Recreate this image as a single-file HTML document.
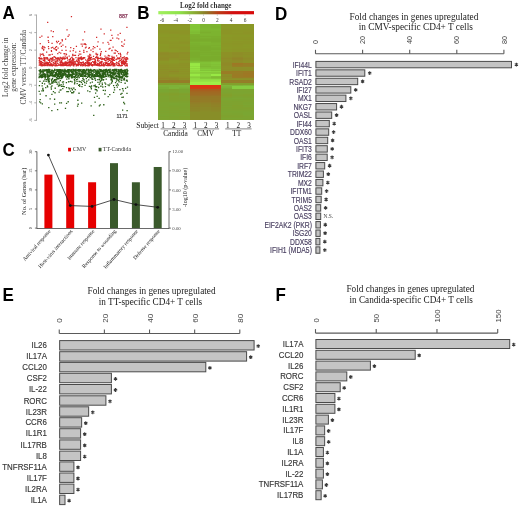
<!DOCTYPE html>
<html><head><meta charset="utf-8"><title>Figure</title>
<style>
html,body{margin:0;padding:0;background:#fff;width:520px;height:507px;overflow:hidden}
svg{display:block;filter:blur(0.35px)}
.fs{font-family:"Liberation Sans",sans-serif}
.fr{font-family:"Liberation Serif",serif}
.fb{font-family:"Liberation Sans",sans-serif;font-weight:bold}
</style></head><body>
<svg width="520" height="507" viewBox="0 0 520 507">
<rect width="520" height="507" fill="#fff"/>
<text class="fb" x="0" y="0" font-size="17" transform="translate(2.6 19.2) scale(1 1.09)">A</text>
<text class="fb" x="0" y="0" font-size="17" transform="translate(137.2 18.7) scale(1 1.09)">B</text>
<text class="fb" x="0" y="0" font-size="17" transform="translate(2.6 156.4) scale(1 1.09)">C</text>
<text class="fb" x="0" y="0" font-size="17" transform="translate(275 19.6) scale(1 1.09)">D</text>
<text class="fb" x="0" y="0" font-size="17" transform="translate(2.6 301.3) scale(1 1.09)">E</text>
<text class="fb" x="0" y="0" font-size="17" transform="translate(275.6 300.7) scale(1 1.09)">F</text>
<line x1="36.5" y1="14.6" x2="36.5" y2="120.8" stroke="#9a9a9a" stroke-width="0.8"/>
<line x1="34.3" y1="15.02" x2="36.5" y2="15.02" stroke="#9a9a9a" stroke-width="0.8"/>
<text class="fs" x="31.6" y="15.02" font-size="4.2" text-anchor="middle" fill="#777" transform="rotate(-90 31.6 15.02)">6</text>
<line x1="34.3" y1="32.58" x2="36.5" y2="32.58" stroke="#9a9a9a" stroke-width="0.8"/>
<text class="fs" x="31.6" y="32.58" font-size="4.2" text-anchor="middle" fill="#777" transform="rotate(-90 31.6 32.58)">4</text>
<line x1="34.3" y1="50.14" x2="36.5" y2="50.14" stroke="#9a9a9a" stroke-width="0.8"/>
<text class="fs" x="31.6" y="50.14" font-size="4.2" text-anchor="middle" fill="#777" transform="rotate(-90 31.6 50.14)">2</text>
<line x1="34.3" y1="67.7" x2="36.5" y2="67.7" stroke="#9a9a9a" stroke-width="0.8"/>
<text class="fs" x="31.6" y="67.7" font-size="4.2" text-anchor="middle" fill="#777" transform="rotate(-90 31.6 67.7)">0</text>
<line x1="34.3" y1="85.26" x2="36.5" y2="85.26" stroke="#9a9a9a" stroke-width="0.8"/>
<text class="fs" x="31.6" y="85.26" font-size="4.2" text-anchor="middle" fill="#777" transform="rotate(-90 31.6 85.26)">-2</text>
<line x1="34.3" y1="102.82" x2="36.5" y2="102.82" stroke="#9a9a9a" stroke-width="0.8"/>
<text class="fs" x="31.6" y="102.82" font-size="4.2" text-anchor="middle" fill="#777" transform="rotate(-90 31.6 102.82)">-4</text>
<line x1="34.3" y1="120.38" x2="36.5" y2="120.38" stroke="#9a9a9a" stroke-width="0.8"/>
<text class="fs" x="31.6" y="120.38" font-size="4.2" text-anchor="middle" fill="#777" transform="rotate(-90 31.6 120.38)">-6</text>
<text class="fr" x="8.1" y="67.2" font-size="7.35" text-anchor="middle" fill="#454545" transform="rotate(-90 8.1 67.2)">Log2 fold change in</text>
<text class="fr" x="16.4" y="67.2" font-size="7.35" text-anchor="middle" fill="#454545" transform="rotate(-90 16.4 67.2)">gene expression:</text>
<text class="fr" x="25.6" y="67.2" font-size="7.35" text-anchor="middle" fill="#454545" transform="rotate(-90 25.6 67.2)">CMV versus TT/Candida</text>
<text class="fs" x="127.8" y="17.7" font-size="5.3" text-anchor="end" fill="#8a3c5c" stroke="#8a3c5c" stroke-width="0.25">887</text>
<text class="fs" x="127.8" y="117.5" font-size="5.3" text-anchor="end" fill="#444" stroke="#444" stroke-width="0.2">1171</text>
<path d="M112.33 74.05h1.3v1.3h-1.3zM52.59 74.52h1.3v1.3h-1.3zM53.26 70.11h1.3v1.3h-1.3zM44.36 78.95h1.3v1.3h-1.3zM116.84 83.14h1.3v1.3h-1.3zM49.25 68.99h1.3v1.3h-1.3zM118.34 74.52h1.3v1.3h-1.3zM120.94 72.43h1.3v1.3h-1.3zM59 74.05h1.3v1.3h-1.3zM46.26 70.79h1.3v1.3h-1.3zM52.22 70.78h1.3v1.3h-1.3zM126.48 110.07h1.3v1.3h-1.3zM58.65 71.56h1.3v1.3h-1.3zM67.52 101.12h1.3v1.3h-1.3zM60.75 70.4h1.3v1.3h-1.3zM55.97 77.01h1.3v1.3h-1.3zM117.79 73.53h1.3v1.3h-1.3zM101.92 74.42h1.3v1.3h-1.3zM44.58 76.08h1.3v1.3h-1.3zM117.59 71.85h1.3v1.3h-1.3zM62.64 83.47h1.3v1.3h-1.3zM111.13 74.79h1.3v1.3h-1.3zM51.33 85.14h1.3v1.3h-1.3zM111.05 76.25h1.3v1.3h-1.3zM53.31 79.78h1.3v1.3h-1.3zM121.97 76.89h1.3v1.3h-1.3zM67.61 90.98h1.3v1.3h-1.3zM69.37 70.57h1.3v1.3h-1.3zM45.22 70.02h1.3v1.3h-1.3zM124.94 71.43h1.3v1.3h-1.3zM78.81 80.9h1.3v1.3h-1.3zM46.89 73.78h1.3v1.3h-1.3zM123.47 69.87h1.3v1.3h-1.3zM67.12 75.56h1.3v1.3h-1.3zM67.11 70.83h1.3v1.3h-1.3zM61.22 72.83h1.3v1.3h-1.3zM102.13 86.55h1.3v1.3h-1.3zM100.77 69.13h1.3v1.3h-1.3zM124.11 71.18h1.3v1.3h-1.3zM92.89 75.44h1.3v1.3h-1.3zM83.2 72.08h1.3v1.3h-1.3zM52.79 74.78h1.3v1.3h-1.3zM38.97 101.32h1.3v1.3h-1.3zM60.03 75h1.3v1.3h-1.3zM54.85 73.37h1.3v1.3h-1.3zM48.14 106.88h1.3v1.3h-1.3zM43.3 73.85h1.3v1.3h-1.3zM84.08 75.05h1.3v1.3h-1.3zM47.61 78.35h1.3v1.3h-1.3zM65.4 73.63h1.3v1.3h-1.3zM49.07 75.2h1.3v1.3h-1.3zM123.87 77.57h1.3v1.3h-1.3zM81.47 75.25h1.3v1.3h-1.3zM100.72 70.59h1.3v1.3h-1.3zM97.37 71.1h1.3v1.3h-1.3zM116.13 77.69h1.3v1.3h-1.3zM56.32 74.81h1.3v1.3h-1.3zM58.27 69.97h1.3v1.3h-1.3zM76.21 72.21h1.3v1.3h-1.3zM46.73 85.34h1.3v1.3h-1.3zM70.6 75.89h1.3v1.3h-1.3zM75 74.15h1.3v1.3h-1.3zM84.4 84.73h1.3v1.3h-1.3zM105.73 68.87h1.3v1.3h-1.3zM122.19 88.19h1.3v1.3h-1.3zM65.13 74.23h1.3v1.3h-1.3zM60.54 70.85h1.3v1.3h-1.3zM69.59 69.59h1.3v1.3h-1.3zM105.34 70.29h1.3v1.3h-1.3zM121.35 92.77h1.3v1.3h-1.3zM94.57 74.46h1.3v1.3h-1.3zM85.46 75.54h1.3v1.3h-1.3zM39.76 71.85h1.3v1.3h-1.3zM50.55 86.45h1.3v1.3h-1.3zM124.41 71.16h1.3v1.3h-1.3zM73.88 70.33h1.3v1.3h-1.3zM76.52 82.92h1.3v1.3h-1.3zM115.25 70.44h1.3v1.3h-1.3zM121.99 69.77h1.3v1.3h-1.3zM92.66 75.29h1.3v1.3h-1.3zM116.61 86.41h1.3v1.3h-1.3zM45.41 95.1h1.3v1.3h-1.3zM39.15 76.26h1.3v1.3h-1.3zM111.92 75.65h1.3v1.3h-1.3zM126.19 79.4h1.3v1.3h-1.3zM51.77 75.48h1.3v1.3h-1.3zM72.54 70.01h1.3v1.3h-1.3zM77.22 99.61h1.3v1.3h-1.3zM126.53 68.87h1.3v1.3h-1.3zM73.14 91.12h1.3v1.3h-1.3zM120.9 71.64h1.3v1.3h-1.3zM44.64 69.31h1.3v1.3h-1.3zM125.09 70.1h1.3v1.3h-1.3zM81.9 69.2h1.3v1.3h-1.3zM94.52 69.53h1.3v1.3h-1.3zM79.24 68.88h1.3v1.3h-1.3zM109.49 76.4h1.3v1.3h-1.3zM85.41 75.62h1.3v1.3h-1.3zM95.25 71.54h1.3v1.3h-1.3zM126.14 76.15h1.3v1.3h-1.3zM77.99 84.64h1.3v1.3h-1.3zM120.23 93.6h1.3v1.3h-1.3zM124.1 69.24h1.3v1.3h-1.3zM90.64 69.31h1.3v1.3h-1.3zM47.47 70.83h1.3v1.3h-1.3zM115.25 72.87h1.3v1.3h-1.3zM65.91 102.66h1.3v1.3h-1.3zM68.55 71.71h1.3v1.3h-1.3zM40.66 70.76h1.3v1.3h-1.3zM126.88 72.79h1.3v1.3h-1.3zM54.14 69.57h1.3v1.3h-1.3zM74.66 77.54h1.3v1.3h-1.3zM109.38 68.82h1.3v1.3h-1.3zM85.05 75.93h1.3v1.3h-1.3zM96.74 72.78h1.3v1.3h-1.3zM109.12 94.01h1.3v1.3h-1.3zM118.34 75.37h1.3v1.3h-1.3zM105.16 69.11h1.3v1.3h-1.3zM104.77 85.95h1.3v1.3h-1.3zM100.4 77.1h1.3v1.3h-1.3zM40.39 73.41h1.3v1.3h-1.3zM124.44 73.21h1.3v1.3h-1.3zM71.62 72.34h1.3v1.3h-1.3zM122.38 75.72h1.3v1.3h-1.3zM71.18 69.23h1.3v1.3h-1.3zM68.62 73.48h1.3v1.3h-1.3zM83.9 71.99h1.3v1.3h-1.3zM60.47 83.99h1.3v1.3h-1.3zM42.5 72.66h1.3v1.3h-1.3zM55.61 72.98h1.3v1.3h-1.3zM108.81 70.31h1.3v1.3h-1.3zM59.59 69.08h1.3v1.3h-1.3zM124.01 71.07h1.3v1.3h-1.3zM107.54 69.6h1.3v1.3h-1.3zM121.32 96.72h1.3v1.3h-1.3zM91.57 70.06h1.3v1.3h-1.3zM59.4 70.26h1.3v1.3h-1.3zM90.73 72.36h1.3v1.3h-1.3zM94.77 86.06h1.3v1.3h-1.3zM44.48 70.32h1.3v1.3h-1.3zM54.21 79.36h1.3v1.3h-1.3zM121.18 70.16h1.3v1.3h-1.3zM64.26 74.2h1.3v1.3h-1.3zM118.32 76.79h1.3v1.3h-1.3zM103.15 104.1h1.3v1.3h-1.3zM82.51 76.16h1.3v1.3h-1.3zM54.37 92.11h1.3v1.3h-1.3zM83.81 75.61h1.3v1.3h-1.3zM62.29 71.12h1.3v1.3h-1.3zM54.84 75.67h1.3v1.3h-1.3zM64.39 69.63h1.3v1.3h-1.3zM40.07 102.18h1.3v1.3h-1.3zM44.97 73.93h1.3v1.3h-1.3zM70.68 71.01h1.3v1.3h-1.3zM111.5 79.37h1.3v1.3h-1.3zM99.82 70.94h1.3v1.3h-1.3zM41.74 76.06h1.3v1.3h-1.3zM100.1 73.22h1.3v1.3h-1.3zM51.64 69.62h1.3v1.3h-1.3zM59.5 72.22h1.3v1.3h-1.3zM112.96 77.35h1.3v1.3h-1.3zM98.69 71.86h1.3v1.3h-1.3zM43.93 83.2h1.3v1.3h-1.3zM118.36 70.96h1.3v1.3h-1.3zM68.67 68.92h1.3v1.3h-1.3zM61.02 75.61h1.3v1.3h-1.3zM86.14 69.81h1.3v1.3h-1.3zM115.79 69h1.3v1.3h-1.3zM60.89 85.7h1.3v1.3h-1.3zM71.42 81.3h1.3v1.3h-1.3zM40.84 75.97h1.3v1.3h-1.3zM80.97 71.42h1.3v1.3h-1.3zM47.44 79.12h1.3v1.3h-1.3zM81.06 71.08h1.3v1.3h-1.3zM44.18 73.02h1.3v1.3h-1.3zM82.47 74.53h1.3v1.3h-1.3zM108.31 71.78h1.3v1.3h-1.3zM125.23 71.02h1.3v1.3h-1.3zM103.67 69.87h1.3v1.3h-1.3zM74.67 72.12h1.3v1.3h-1.3zM98.49 97.7h1.3v1.3h-1.3zM101.22 70.8h1.3v1.3h-1.3zM118.69 78.21h1.3v1.3h-1.3zM88.22 75.64h1.3v1.3h-1.3zM58.89 69.72h1.3v1.3h-1.3zM57.66 75.92h1.3v1.3h-1.3zM121.15 73.44h1.3v1.3h-1.3zM110.9 82.36h1.3v1.3h-1.3zM121.1 79.61h1.3v1.3h-1.3zM84.52 69.87h1.3v1.3h-1.3zM73.68 70.5h1.3v1.3h-1.3zM54.3 69.91h1.3v1.3h-1.3zM70.54 87.86h1.3v1.3h-1.3zM125.73 79.85h1.3v1.3h-1.3zM120.11 72.03h1.3v1.3h-1.3zM121.71 71.82h1.3v1.3h-1.3zM79.42 70.57h1.3v1.3h-1.3zM71.62 73.83h1.3v1.3h-1.3zM50.28 72.45h1.3v1.3h-1.3zM94.62 69.66h1.3v1.3h-1.3zM121.1 73.75h1.3v1.3h-1.3zM121.3 76.05h1.3v1.3h-1.3zM119.77 69.02h1.3v1.3h-1.3zM61.69 74.15h1.3v1.3h-1.3zM122.71 96.4h1.3v1.3h-1.3zM117.47 68.98h1.3v1.3h-1.3zM117.9 75.63h1.3v1.3h-1.3zM39.09 70.04h1.3v1.3h-1.3zM51.52 73.55h1.3v1.3h-1.3zM40.49 74.05h1.3v1.3h-1.3zM61.3 72.91h1.3v1.3h-1.3zM102.27 69.75h1.3v1.3h-1.3zM109.45 71.06h1.3v1.3h-1.3zM90.26 74.08h1.3v1.3h-1.3zM59.54 89.38h1.3v1.3h-1.3zM72.68 72.18h1.3v1.3h-1.3zM61.51 75.48h1.3v1.3h-1.3zM46.72 69.57h1.3v1.3h-1.3zM48.47 70.4h1.3v1.3h-1.3zM69.71 74.61h1.3v1.3h-1.3zM70.01 80.68h1.3v1.3h-1.3zM52.3 72.6h1.3v1.3h-1.3zM53.28 71.33h1.3v1.3h-1.3zM74.17 80.29h1.3v1.3h-1.3zM91.11 75.55h1.3v1.3h-1.3zM91.54 73.53h1.3v1.3h-1.3zM59.94 74.33h1.3v1.3h-1.3zM94.78 75.82h1.3v1.3h-1.3zM91.68 70.19h1.3v1.3h-1.3zM120.81 77.42h1.3v1.3h-1.3zM121.61 74.29h1.3v1.3h-1.3zM48.97 78.28h1.3v1.3h-1.3zM77.53 103.58h1.3v1.3h-1.3zM98.7 74.12h1.3v1.3h-1.3zM71.77 75.51h1.3v1.3h-1.3zM54.04 103.51h1.3v1.3h-1.3zM77.77 69.25h1.3v1.3h-1.3zM112.64 73.42h1.3v1.3h-1.3zM98.51 68.86h1.3v1.3h-1.3zM45.6 70.04h1.3v1.3h-1.3zM119.3 70.07h1.3v1.3h-1.3zM77.48 72.35h1.3v1.3h-1.3zM59.08 102.19h1.3v1.3h-1.3zM71.23 75.87h1.3v1.3h-1.3zM89.33 76.98h1.3v1.3h-1.3zM125.78 73.59h1.3v1.3h-1.3zM46.44 76.21h1.3v1.3h-1.3zM52.03 74.09h1.3v1.3h-1.3zM57.41 74h1.3v1.3h-1.3zM118.93 75.56h1.3v1.3h-1.3zM106.96 72.53h1.3v1.3h-1.3zM119.49 76.18h1.3v1.3h-1.3zM113.56 70.77h1.3v1.3h-1.3zM109.76 71.31h1.3v1.3h-1.3zM95.29 70.5h1.3v1.3h-1.3zM41.31 74.64h1.3v1.3h-1.3zM95.05 74.84h1.3v1.3h-1.3zM113.96 68.82h1.3v1.3h-1.3zM44.53 77.57h1.3v1.3h-1.3zM65.29 71.05h1.3v1.3h-1.3zM42.9 80.38h1.3v1.3h-1.3zM58.14 78.1h1.3v1.3h-1.3zM74.28 69.87h1.3v1.3h-1.3zM56.42 75.15h1.3v1.3h-1.3zM94.97 92.5h1.3v1.3h-1.3zM95.81 71.25h1.3v1.3h-1.3zM82.14 71.11h1.3v1.3h-1.3zM111.37 69.53h1.3v1.3h-1.3zM93.89 69.14h1.3v1.3h-1.3zM90.94 75.61h1.3v1.3h-1.3zM100.6 78.13h1.3v1.3h-1.3zM108.3 74.53h1.3v1.3h-1.3zM114.91 82.05h1.3v1.3h-1.3zM46.32 75.58h1.3v1.3h-1.3zM99.25 82.19h1.3v1.3h-1.3zM118.42 79.3h1.3v1.3h-1.3zM72.27 70.85h1.3v1.3h-1.3zM94.37 70.46h1.3v1.3h-1.3zM68.82 75.67h1.3v1.3h-1.3zM39.59 93.44h1.3v1.3h-1.3zM63.41 71.02h1.3v1.3h-1.3zM52.18 81.61h1.3v1.3h-1.3zM72.16 71.9h1.3v1.3h-1.3zM58.68 75.92h1.3v1.3h-1.3zM43.64 69.84h1.3v1.3h-1.3zM55.12 73.05h1.3v1.3h-1.3zM44.54 69.77h1.3v1.3h-1.3zM83.93 75.8h1.3v1.3h-1.3zM126.16 75.13h1.3v1.3h-1.3zM104.65 89.84h1.3v1.3h-1.3zM104.43 69.29h1.3v1.3h-1.3zM66.67 70.03h1.3v1.3h-1.3zM100.25 85.58h1.3v1.3h-1.3zM94.62 88.84h1.3v1.3h-1.3zM111.99 73.18h1.3v1.3h-1.3zM110.74 72.27h1.3v1.3h-1.3zM98.62 72.95h1.3v1.3h-1.3zM78.58 76.86h1.3v1.3h-1.3zM102.1 86.17h1.3v1.3h-1.3zM51.26 73.27h1.3v1.3h-1.3zM52.42 75.43h1.3v1.3h-1.3zM88.23 72.64h1.3v1.3h-1.3zM108.97 70h1.3v1.3h-1.3zM116.5 79.01h1.3v1.3h-1.3zM74.13 70.5h1.3v1.3h-1.3zM120.7 68.85h1.3v1.3h-1.3zM124.82 70.68h1.3v1.3h-1.3zM65.48 70.14h1.3v1.3h-1.3zM78.37 70.8h1.3v1.3h-1.3zM63.62 72.55h1.3v1.3h-1.3zM103.59 72.45h1.3v1.3h-1.3zM108.36 74.91h1.3v1.3h-1.3zM84.27 69.51h1.3v1.3h-1.3zM88.01 74.6h1.3v1.3h-1.3zM58.28 74.22h1.3v1.3h-1.3zM107.54 95.97h1.3v1.3h-1.3zM62.86 74.11h1.3v1.3h-1.3zM62.03 69.99h1.3v1.3h-1.3zM59.69 79.96h1.3v1.3h-1.3zM50.47 73.21h1.3v1.3h-1.3zM62.21 69.66h1.3v1.3h-1.3zM48.83 76h1.3v1.3h-1.3zM108.72 70.47h1.3v1.3h-1.3zM104.24 93.5h1.3v1.3h-1.3zM68.79 74.64h1.3v1.3h-1.3zM94.75 84.51h1.3v1.3h-1.3zM122.75 72.15h1.3v1.3h-1.3zM71.32 77.25h1.3v1.3h-1.3zM47.68 80.06h1.3v1.3h-1.3zM45.82 69.04h1.3v1.3h-1.3zM89.9 68.82h1.3v1.3h-1.3zM47.69 81.32h1.3v1.3h-1.3zM60.58 77.36h1.3v1.3h-1.3zM116.09 74.88h1.3v1.3h-1.3zM51.03 80.45h1.3v1.3h-1.3zM78.95 84.12h1.3v1.3h-1.3zM48.27 72.23h1.3v1.3h-1.3zM53.96 68.81h1.3v1.3h-1.3zM99.62 71.3h1.3v1.3h-1.3zM58.63 71.15h1.3v1.3h-1.3zM90.19 69.84h1.3v1.3h-1.3zM61.83 81.5h1.3v1.3h-1.3zM77.51 75.3h1.3v1.3h-1.3zM44.55 69.2h1.3v1.3h-1.3zM74.85 69.64h1.3v1.3h-1.3zM59.17 72.68h1.3v1.3h-1.3zM87.42 75.47h1.3v1.3h-1.3zM119.09 73.48h1.3v1.3h-1.3zM48.87 72.11h1.3v1.3h-1.3zM94.88 79.76h1.3v1.3h-1.3zM44.7 76.15h1.3v1.3h-1.3zM70.44 69.07h1.3v1.3h-1.3zM109.43 68.81h1.3v1.3h-1.3zM97.93 86.84h1.3v1.3h-1.3zM44.62 69.61h1.3v1.3h-1.3zM92.17 78.72h1.3v1.3h-1.3zM61.51 69.32h1.3v1.3h-1.3zM48.66 75.79h1.3v1.3h-1.3zM88.08 79.3h1.3v1.3h-1.3zM113.9 77.84h1.3v1.3h-1.3zM82.46 73.42h1.3v1.3h-1.3zM67.93 70.4h1.3v1.3h-1.3zM75.75 70.4h1.3v1.3h-1.3zM82.96 72.13h1.3v1.3h-1.3zM111.52 76h1.3v1.3h-1.3zM65.81 71.47h1.3v1.3h-1.3zM117.61 79.67h1.3v1.3h-1.3zM99.54 76h1.3v1.3h-1.3zM82.19 70.13h1.3v1.3h-1.3zM55.95 71.58h1.3v1.3h-1.3zM81.71 70.36h1.3v1.3h-1.3zM79.41 72.53h1.3v1.3h-1.3zM93.47 74.9h1.3v1.3h-1.3zM93.1 114.79h1.3v1.3h-1.3zM112.11 75.58h1.3v1.3h-1.3zM77.47 68.93h1.3v1.3h-1.3zM120.24 70.4h1.3v1.3h-1.3zM99.82 73.56h1.3v1.3h-1.3zM38.55 90.64h1.3v1.3h-1.3zM105.92 69.91h1.3v1.3h-1.3zM124.45 82.59h1.3v1.3h-1.3zM51.05 69.61h1.3v1.3h-1.3zM73.6 73.63h1.3v1.3h-1.3zM104.25 71.82h1.3v1.3h-1.3zM115.25 71.94h1.3v1.3h-1.3zM123.26 70h1.3v1.3h-1.3zM52.13 82.51h1.3v1.3h-1.3zM44.05 76.04h1.3v1.3h-1.3zM89.79 69.46h1.3v1.3h-1.3zM93.82 96.69h1.3v1.3h-1.3zM48.35 81.5h1.3v1.3h-1.3zM88.99 70.3h1.3v1.3h-1.3zM54.35 75.19h1.3v1.3h-1.3zM112.08 76.28h1.3v1.3h-1.3zM113.18 76.49h1.3v1.3h-1.3zM42.29 88.78h1.3v1.3h-1.3zM54.57 87.62h1.3v1.3h-1.3zM57.02 78.1h1.3v1.3h-1.3zM85.54 75.76h1.3v1.3h-1.3zM72.12 74.14h1.3v1.3h-1.3zM113.07 70.16h1.3v1.3h-1.3zM83.63 69.36h1.3v1.3h-1.3zM60.14 69.21h1.3v1.3h-1.3zM60.01 69.93h1.3v1.3h-1.3zM121.27 69.58h1.3v1.3h-1.3zM91.94 78.78h1.3v1.3h-1.3zM90.89 85.35h1.3v1.3h-1.3zM96.4 90.12h1.3v1.3h-1.3zM96.89 73.31h1.3v1.3h-1.3zM101.87 73.45h1.3v1.3h-1.3zM85.7 78.04h1.3v1.3h-1.3zM82.69 74.52h1.3v1.3h-1.3zM116.19 70.95h1.3v1.3h-1.3zM93.64 76.2h1.3v1.3h-1.3zM113.9 73.54h1.3v1.3h-1.3zM55.93 71.84h1.3v1.3h-1.3zM96.1 85.96h1.3v1.3h-1.3zM70.36 73.97h1.3v1.3h-1.3zM115.28 69.59h1.3v1.3h-1.3zM46.22 72.37h1.3v1.3h-1.3zM79.69 69.24h1.3v1.3h-1.3zM68.71 88.2h1.3v1.3h-1.3zM113.03 91.76h1.3v1.3h-1.3zM70.77 69.56h1.3v1.3h-1.3zM115.92 69.8h1.3v1.3h-1.3zM75.84 78.95h1.3v1.3h-1.3zM71.03 71.61h1.3v1.3h-1.3zM107.25 73.3h1.3v1.3h-1.3zM68.31 68.9h1.3v1.3h-1.3zM40.22 74.93h1.3v1.3h-1.3zM67.13 69.12h1.3v1.3h-1.3zM117.65 71.94h1.3v1.3h-1.3zM68.57 69.22h1.3v1.3h-1.3zM46.75 74.62h1.3v1.3h-1.3zM124.46 69.99h1.3v1.3h-1.3zM39.5 76.27h1.3v1.3h-1.3zM47 72.16h1.3v1.3h-1.3zM57.25 75.07h1.3v1.3h-1.3zM41.73 71.12h1.3v1.3h-1.3zM124.86 75.68h1.3v1.3h-1.3zM80.68 69.3h1.3v1.3h-1.3zM39.84 74.83h1.3v1.3h-1.3zM90.7 87.7h1.3v1.3h-1.3zM118.4 81.12h1.3v1.3h-1.3zM104.06 76.48h1.3v1.3h-1.3zM68.29 72.36h1.3v1.3h-1.3zM65.08 72.89h1.3v1.3h-1.3zM123.06 101.85h1.3v1.3h-1.3zM84.24 75.21h1.3v1.3h-1.3zM59.1 75.81h1.3v1.3h-1.3zM86.76 73.28h1.3v1.3h-1.3zM114.85 69.48h1.3v1.3h-1.3zM102.59 72.01h1.3v1.3h-1.3zM87.58 68.84h1.3v1.3h-1.3zM127.14 73.16h1.3v1.3h-1.3zM89.78 82.16h1.3v1.3h-1.3zM105.2 71.65h1.3v1.3h-1.3zM43.69 75.07h1.3v1.3h-1.3zM71.72 74.79h1.3v1.3h-1.3zM67.88 81.28h1.3v1.3h-1.3zM101.56 75.46h1.3v1.3h-1.3zM62.7 70.73h1.3v1.3h-1.3zM41.28 90.28h1.3v1.3h-1.3zM50.54 70.74h1.3v1.3h-1.3zM72.87 72.66h1.3v1.3h-1.3zM124.17 70.28h1.3v1.3h-1.3zM120.59 70.32h1.3v1.3h-1.3zM47.94 75.41h1.3v1.3h-1.3zM43.13 70.72h1.3v1.3h-1.3zM98.64 72.24h1.3v1.3h-1.3zM124.68 75.69h1.3v1.3h-1.3zM117.6 70.51h1.3v1.3h-1.3zM89.13 69.89h1.3v1.3h-1.3zM101.98 74.03h1.3v1.3h-1.3zM125.24 72.67h1.3v1.3h-1.3zM107.6 68.92h1.3v1.3h-1.3zM99.86 68.91h1.3v1.3h-1.3zM68.12 73.06h1.3v1.3h-1.3zM79.7 75.61h1.3v1.3h-1.3zM93.89 69.23h1.3v1.3h-1.3zM74.77 75.15h1.3v1.3h-1.3zM45.98 78.93h1.3v1.3h-1.3zM84.69 74.76h1.3v1.3h-1.3zM100.45 74.83h1.3v1.3h-1.3zM110.8 75.97h1.3v1.3h-1.3zM54.51 80.58h1.3v1.3h-1.3zM97.31 70.64h1.3v1.3h-1.3zM88.9 69.61h1.3v1.3h-1.3zM114.31 74.06h1.3v1.3h-1.3zM105.04 70.76h1.3v1.3h-1.3zM64.42 71.18h1.3v1.3h-1.3zM85.45 73.81h1.3v1.3h-1.3zM57.9 75.57h1.3v1.3h-1.3zM57 75.04h1.3v1.3h-1.3zM38.44 76.99h1.3v1.3h-1.3zM94.49 101.44h1.3v1.3h-1.3zM52.44 71.87h1.3v1.3h-1.3zM101.61 74.38h1.3v1.3h-1.3zM78.9 72.21h1.3v1.3h-1.3zM76.48 69.49h1.3v1.3h-1.3zM57.29 69.41h1.3v1.3h-1.3zM75.45 74.7h1.3v1.3h-1.3zM87.49 74.78h1.3v1.3h-1.3zM114.84 75.76h1.3v1.3h-1.3zM84.84 70.82h1.3v1.3h-1.3zM58.16 72.75h1.3v1.3h-1.3zM83.7 69.71h1.3v1.3h-1.3zM59.79 73.13h1.3v1.3h-1.3zM51.12 75.05h1.3v1.3h-1.3zM119.6 71.02h1.3v1.3h-1.3zM55.46 78.82h1.3v1.3h-1.3zM79.29 69.37h1.3v1.3h-1.3zM114.15 77.87h1.3v1.3h-1.3zM85.76 82.56h1.3v1.3h-1.3zM92.73 73.46h1.3v1.3h-1.3zM109.81 74.99h1.3v1.3h-1.3zM58.25 73.81h1.3v1.3h-1.3zM56.01 74.02h1.3v1.3h-1.3zM114 73.51h1.3v1.3h-1.3zM47.33 76.82h1.3v1.3h-1.3zM89.21 74.34h1.3v1.3h-1.3zM100.6 80.05h1.3v1.3h-1.3zM44.58 77.35h1.3v1.3h-1.3zM41.36 71.41h1.3v1.3h-1.3zM66.63 74.17h1.3v1.3h-1.3zM106.88 70.4h1.3v1.3h-1.3zM95.87 89.04h1.3v1.3h-1.3zM82.82 78.47h1.3v1.3h-1.3zM99.99 69.6h1.3v1.3h-1.3zM58.89 68.88h1.3v1.3h-1.3zM108.75 74.96h1.3v1.3h-1.3zM85.82 73.13h1.3v1.3h-1.3zM83.04 71.39h1.3v1.3h-1.3zM98.77 78.84h1.3v1.3h-1.3zM103.24 73.83h1.3v1.3h-1.3zM87.08 90.16h1.3v1.3h-1.3zM61.17 75.06h1.3v1.3h-1.3zM48.35 79.66h1.3v1.3h-1.3zM79.89 74.27h1.3v1.3h-1.3zM51.22 72.78h1.3v1.3h-1.3zM114.12 69.2h1.3v1.3h-1.3zM111.48 71.43h1.3v1.3h-1.3zM76.08 72.09h1.3v1.3h-1.3zM76.85 78.55h1.3v1.3h-1.3zM49.22 74.76h1.3v1.3h-1.3zM52.09 74.63h1.3v1.3h-1.3zM49.04 74.64h1.3v1.3h-1.3zM67.65 73.87h1.3v1.3h-1.3zM52.84 74.58h1.3v1.3h-1.3zM49.46 98.2h1.3v1.3h-1.3zM124.95 73.68h1.3v1.3h-1.3zM66.25 90.99h1.3v1.3h-1.3zM80.8 81.66h1.3v1.3h-1.3zM110.33 74.85h1.3v1.3h-1.3zM54.74 74.71h1.3v1.3h-1.3zM70.91 77.29h1.3v1.3h-1.3zM97.31 81.77h1.3v1.3h-1.3zM98.83 74.67h1.3v1.3h-1.3zM87.41 73.89h1.3v1.3h-1.3zM79.3 74.52h1.3v1.3h-1.3zM60.83 71.93h1.3v1.3h-1.3zM54.39 81.8h1.3v1.3h-1.3zM97.2 72.74h1.3v1.3h-1.3zM78.75 69.47h1.3v1.3h-1.3zM101.51 75.94h1.3v1.3h-1.3zM98.04 70.33h1.3v1.3h-1.3zM70.42 75.24h1.3v1.3h-1.3zM65.3 75.52h1.3v1.3h-1.3zM41.76 76.76h1.3v1.3h-1.3zM47.09 77.64h1.3v1.3h-1.3zM60.77 69.95h1.3v1.3h-1.3zM64.6 73.46h1.3v1.3h-1.3zM112.26 69.1h1.3v1.3h-1.3zM79.41 80.96h1.3v1.3h-1.3zM50.34 72.98h1.3v1.3h-1.3zM120.23 76.18h1.3v1.3h-1.3zM73.15 75.91h1.3v1.3h-1.3zM113.89 72.28h1.3v1.3h-1.3zM115.14 77.51h1.3v1.3h-1.3zM113.87 89.13h1.3v1.3h-1.3zM70.75 74.12h1.3v1.3h-1.3zM51.1 73.41h1.3v1.3h-1.3zM82.12 77.96h1.3v1.3h-1.3zM123.51 71.42h1.3v1.3h-1.3zM99.58 104.2h1.3v1.3h-1.3zM102.83 73.09h1.3v1.3h-1.3zM109.68 69.4h1.3v1.3h-1.3zM102.82 75.58h1.3v1.3h-1.3zM101.59 77.51h1.3v1.3h-1.3zM106.7 70.48h1.3v1.3h-1.3zM99.82 71.17h1.3v1.3h-1.3zM65.62 74.35h1.3v1.3h-1.3zM88.79 85.68h1.3v1.3h-1.3zM44.75 75.06h1.3v1.3h-1.3zM126.66 80.52h1.3v1.3h-1.3zM113.07 71.76h1.3v1.3h-1.3zM99.87 73.2h1.3v1.3h-1.3zM74.21 69.82h1.3v1.3h-1.3zM45.47 80.77h1.3v1.3h-1.3zM108.16 74.73h1.3v1.3h-1.3zM58.29 81.45h1.3v1.3h-1.3zM67.27 71.6h1.3v1.3h-1.3zM82.23 69.49h1.3v1.3h-1.3zM58.33 76.11h1.3v1.3h-1.3zM41.72 82.58h1.3v1.3h-1.3zM117.54 84.56h1.3v1.3h-1.3zM89.38 74.18h1.3v1.3h-1.3zM100.28 69.72h1.3v1.3h-1.3zM124.35 73.71h1.3v1.3h-1.3zM73.91 76.9h1.3v1.3h-1.3zM68.34 81.04h1.3v1.3h-1.3zM70.48 69.69h1.3v1.3h-1.3zM39.28 80.65h1.3v1.3h-1.3zM96.61 74.38h1.3v1.3h-1.3zM73.35 68.92h1.3v1.3h-1.3zM58.04 69.57h1.3v1.3h-1.3zM120.19 77.11h1.3v1.3h-1.3zM96.09 73.92h1.3v1.3h-1.3zM107.51 75.95h1.3v1.3h-1.3zM42.19 73.56h1.3v1.3h-1.3zM101.69 72.54h1.3v1.3h-1.3zM66.21 75.99h1.3v1.3h-1.3zM106.29 70.59h1.3v1.3h-1.3zM46.99 69.53h1.3v1.3h-1.3zM49.76 70.83h1.3v1.3h-1.3zM126.33 92.68h1.3v1.3h-1.3zM38.75 85.07h1.3v1.3h-1.3zM119.24 88.98h1.3v1.3h-1.3zM110.27 72.42h1.3v1.3h-1.3zM56.79 73.26h1.3v1.3h-1.3zM61.99 76.74h1.3v1.3h-1.3zM61.27 77.37h1.3v1.3h-1.3zM87.96 70.19h1.3v1.3h-1.3zM41.87 74.58h1.3v1.3h-1.3zM57.37 70.82h1.3v1.3h-1.3zM58.23 73.18h1.3v1.3h-1.3zM125.21 70.79h1.3v1.3h-1.3zM81.32 73.76h1.3v1.3h-1.3zM71.61 70.83h1.3v1.3h-1.3zM97.93 72.22h1.3v1.3h-1.3zM54.69 72.09h1.3v1.3h-1.3zM56.56 68.91h1.3v1.3h-1.3zM59.42 71.46h1.3v1.3h-1.3zM99.21 76.47h1.3v1.3h-1.3zM49.24 71.4h1.3v1.3h-1.3zM109.51 73.44h1.3v1.3h-1.3zM74.64 75.31h1.3v1.3h-1.3zM49 71.01h1.3v1.3h-1.3zM108.31 74.78h1.3v1.3h-1.3zM126.8 73.57h1.3v1.3h-1.3zM67.29 74.85h1.3v1.3h-1.3zM68.21 78.11h1.3v1.3h-1.3zM87.44 69.25h1.3v1.3h-1.3zM54.18 74.26h1.3v1.3h-1.3zM63.93 69.97h1.3v1.3h-1.3zM124.95 71.59h1.3v1.3h-1.3zM67.81 70.85h1.3v1.3h-1.3zM56.06 81.61h1.3v1.3h-1.3zM77.33 76.07h1.3v1.3h-1.3zM43.34 76.16h1.3v1.3h-1.3zM111.72 80.86h1.3v1.3h-1.3zM67.22 75.49h1.3v1.3h-1.3zM79.11 85.65h1.3v1.3h-1.3zM106.91 73.77h1.3v1.3h-1.3zM55.99 69.51h1.3v1.3h-1.3zM125.11 73.47h1.3v1.3h-1.3zM51.81 82.37h1.3v1.3h-1.3zM43.11 73.5h1.3v1.3h-1.3zM43.96 73.76h1.3v1.3h-1.3zM104.43 75.74h1.3v1.3h-1.3zM78.07 73.38h1.3v1.3h-1.3zM83.03 69.29h1.3v1.3h-1.3zM45.83 70.21h1.3v1.3h-1.3zM48.25 74.58h1.3v1.3h-1.3zM107.75 74.94h1.3v1.3h-1.3zM101.71 76.01h1.3v1.3h-1.3zM46.7 75.63h1.3v1.3h-1.3zM46.48 74.11h1.3v1.3h-1.3zM55.95 79.2h1.3v1.3h-1.3zM96.07 72.94h1.3v1.3h-1.3zM107.63 69.4h1.3v1.3h-1.3zM108.99 74.74h1.3v1.3h-1.3zM90.57 70.75h1.3v1.3h-1.3zM62.72 75.32h1.3v1.3h-1.3zM115.77 84.76h1.3v1.3h-1.3zM52.78 80.86h1.3v1.3h-1.3zM109.24 83.5h1.3v1.3h-1.3zM75.55 73.6h1.3v1.3h-1.3zM123.91 103.22h1.3v1.3h-1.3zM78.02 69.06h1.3v1.3h-1.3zM85.95 68.85h1.3v1.3h-1.3zM104.25 82.21h1.3v1.3h-1.3zM87.81 75.02h1.3v1.3h-1.3zM74.4 75.97h1.3v1.3h-1.3zM90.79 75.33h1.3v1.3h-1.3zM99.18 74.82h1.3v1.3h-1.3zM57.73 72.68h1.3v1.3h-1.3zM103.62 70.31h1.3v1.3h-1.3zM97.2 71.54h1.3v1.3h-1.3zM110.05 75.5h1.3v1.3h-1.3zM69.32 73.86h1.3v1.3h-1.3zM42.72 69.22h1.3v1.3h-1.3zM108.49 85.05h1.3v1.3h-1.3zM58.64 76.37h1.3v1.3h-1.3zM81.05 102.51h1.3v1.3h-1.3zM52.06 72.25h1.3v1.3h-1.3zM101.34 69.83h1.3v1.3h-1.3zM85.41 73.71h1.3v1.3h-1.3zM59.7 69.43h1.3v1.3h-1.3zM42.76 90.09h1.3v1.3h-1.3zM126.84 86.53h1.3v1.3h-1.3zM105.41 75.15h1.3v1.3h-1.3zM85.7 73.31h1.3v1.3h-1.3zM96.51 95.75h1.3v1.3h-1.3zM99.13 76.18h1.3v1.3h-1.3zM91.85 74.7h1.3v1.3h-1.3zM73.5 69.76h1.3v1.3h-1.3zM72.38 92.1h1.3v1.3h-1.3zM111.71 72.88h1.3v1.3h-1.3zM51.6 78.41h1.3v1.3h-1.3zM120.31 79.2h1.3v1.3h-1.3zM70.68 71.41h1.3v1.3h-1.3zM104.24 93.28h1.3v1.3h-1.3zM96.04 75.58h1.3v1.3h-1.3zM83.45 72.33h1.3v1.3h-1.3zM123.47 79.33h1.3v1.3h-1.3zM61.75 75.55h1.3v1.3h-1.3zM101.02 76.26h1.3v1.3h-1.3zM60.17 74.23h1.3v1.3h-1.3zM102.79 75.55h1.3v1.3h-1.3zM125.34 74.28h1.3v1.3h-1.3zM71.38 75.63h1.3v1.3h-1.3zM51.32 74.85h1.3v1.3h-1.3zM64.84 107.74h1.3v1.3h-1.3zM102.97 69.23h1.3v1.3h-1.3zM89.07 73.42h1.3v1.3h-1.3zM52.76 75.21h1.3v1.3h-1.3zM113.08 71.15h1.3v1.3h-1.3zM97.33 72.48h1.3v1.3h-1.3zM124.43 70.57h1.3v1.3h-1.3zM63.74 74.48h1.3v1.3h-1.3zM126.81 75.85h1.3v1.3h-1.3zM56.56 83.4h1.3v1.3h-1.3zM111.68 77.09h1.3v1.3h-1.3zM103.02 70.63h1.3v1.3h-1.3zM51.88 77.71h1.3v1.3h-1.3zM56.81 83.52h1.3v1.3h-1.3zM126.34 68.82h1.3v1.3h-1.3zM71.86 73.15h1.3v1.3h-1.3zM110.61 78.37h1.3v1.3h-1.3zM124.44 72.84h1.3v1.3h-1.3zM101.58 82.5h1.3v1.3h-1.3zM90.48 70.44h1.3v1.3h-1.3zM126.23 72.69h1.3v1.3h-1.3zM53.92 74.55h1.3v1.3h-1.3zM98.89 76.39h1.3v1.3h-1.3zM81.82 72.07h1.3v1.3h-1.3zM64.13 68.86h1.3v1.3h-1.3zM94.99 72.73h1.3v1.3h-1.3zM92.01 69.73h1.3v1.3h-1.3zM38.67 75.41h1.3v1.3h-1.3zM115.57 70.06h1.3v1.3h-1.3zM113.38 73.11h1.3v1.3h-1.3zM49.89 83.53h1.3v1.3h-1.3zM115.21 68.85h1.3v1.3h-1.3zM60.75 74.41h1.3v1.3h-1.3zM91.54 78.62h1.3v1.3h-1.3zM83.46 79.31h1.3v1.3h-1.3zM122.9 78.54h1.3v1.3h-1.3zM92.56 71.2h1.3v1.3h-1.3zM126.65 75.89h1.3v1.3h-1.3zM61.47 73.09h1.3v1.3h-1.3zM94.97 75.98h1.3v1.3h-1.3zM53.96 78.92h1.3v1.3h-1.3zM80.31 75.78h1.3v1.3h-1.3zM78.54 80.66h1.3v1.3h-1.3zM88.49 69.33h1.3v1.3h-1.3zM116.92 72.68h1.3v1.3h-1.3zM52.76 70.41h1.3v1.3h-1.3zM108.66 70.1h1.3v1.3h-1.3zM115.87 68.83h1.3v1.3h-1.3zM87.5 71.74h1.3v1.3h-1.3zM47.21 68.89h1.3v1.3h-1.3zM40.43 76.82h1.3v1.3h-1.3zM91.89 73.32h1.3v1.3h-1.3zM68.5 76.27h1.3v1.3h-1.3zM66.16 78.45h1.3v1.3h-1.3zM121.47 77.51h1.3v1.3h-1.3zM40.15 70.26h1.3v1.3h-1.3zM71.04 92.11h1.3v1.3h-1.3zM86.96 73.49h1.3v1.3h-1.3zM76.47 74.3h1.3v1.3h-1.3zM69.86 90.51h1.3v1.3h-1.3zM84.15 73.28h1.3v1.3h-1.3zM52.78 91.03h1.3v1.3h-1.3zM62.47 69.21h1.3v1.3h-1.3zM72.01 70.94h1.3v1.3h-1.3zM110.06 71.24h1.3v1.3h-1.3zM98.6 83.77h1.3v1.3h-1.3zM81.47 75.82h1.3v1.3h-1.3zM111.5 69.71h1.3v1.3h-1.3zM88.64 73.37h1.3v1.3h-1.3zM103.85 69.85h1.3v1.3h-1.3zM65.19 76.1h1.3v1.3h-1.3zM56.01 71.28h1.3v1.3h-1.3zM67.21 70.6h1.3v1.3h-1.3zM86.22 80.58h1.3v1.3h-1.3zM56.17 74.53h1.3v1.3h-1.3zM108.98 74.38h1.3v1.3h-1.3zM43.29 69.24h1.3v1.3h-1.3zM110.83 77.22h1.3v1.3h-1.3zM90.75 88.18h1.3v1.3h-1.3zM41.74 103.14h1.3v1.3h-1.3zM123.29 71.38h1.3v1.3h-1.3zM91.68 81.47h1.3v1.3h-1.3zM75.01 69.28h1.3v1.3h-1.3zM90.5 77.02h1.3v1.3h-1.3zM102.57 79.33h1.3v1.3h-1.3zM122 70.95h1.3v1.3h-1.3zM74.75 70.59h1.3v1.3h-1.3zM58.77 73.81h1.3v1.3h-1.3zM49.08 70.16h1.3v1.3h-1.3zM91.29 77.94h1.3v1.3h-1.3zM98.56 74.56h1.3v1.3h-1.3zM66.21 70.3h1.3v1.3h-1.3zM74.74 72.31h1.3v1.3h-1.3zM96.19 72.3h1.3v1.3h-1.3zM85.8 71.47h1.3v1.3h-1.3zM80.84 69.24h1.3v1.3h-1.3zM94.7 84.54h1.3v1.3h-1.3zM122.28 75.56h1.3v1.3h-1.3zM98.22 75.96h1.3v1.3h-1.3zM105.72 75.65h1.3v1.3h-1.3zM44.64 76.97h1.3v1.3h-1.3zM63.08 73.29h1.3v1.3h-1.3zM83.01 69.06h1.3v1.3h-1.3zM112.97 84.94h1.3v1.3h-1.3zM74.57 89.04h1.3v1.3h-1.3zM56.95 109.02h1.3v1.3h-1.3zM72.28 77.06h1.3v1.3h-1.3zM55.26 72.67h1.3v1.3h-1.3zM81.43 79.88h1.3v1.3h-1.3zM103.17 71.63h1.3v1.3h-1.3zM39.29 71.02h1.3v1.3h-1.3zM102.65 76.75h1.3v1.3h-1.3zM100.31 71.1h1.3v1.3h-1.3zM47.04 74.02h1.3v1.3h-1.3zM60.32 69.19h1.3v1.3h-1.3zM72.48 68.84h1.3v1.3h-1.3zM99.38 69.43h1.3v1.3h-1.3zM89.36 73.74h1.3v1.3h-1.3zM113.45 77.99h1.3v1.3h-1.3zM38.54 69.97h1.3v1.3h-1.3zM106.87 74.25h1.3v1.3h-1.3zM110.39 79.12h1.3v1.3h-1.3zM93.9 69.12h1.3v1.3h-1.3zM61.3 74.01h1.3v1.3h-1.3zM71.82 89.08h1.3v1.3h-1.3zM76.01 76.78h1.3v1.3h-1.3zM46.2 76.05h1.3v1.3h-1.3zM114.68 69.62h1.3v1.3h-1.3zM86.68 73.08h1.3v1.3h-1.3zM70.34 70.61h1.3v1.3h-1.3zM67.98 74.19h1.3v1.3h-1.3zM119.23 69.91h1.3v1.3h-1.3zM124.94 87.81h1.3v1.3h-1.3zM72.16 71.56h1.3v1.3h-1.3zM120.66 72.68h1.3v1.3h-1.3zM74.5 69.49h1.3v1.3h-1.3zM116.05 78.46h1.3v1.3h-1.3zM81.75 83.6h1.3v1.3h-1.3zM74.84 71.18h1.3v1.3h-1.3zM64.69 71.13h1.3v1.3h-1.3zM82.76 70.11h1.3v1.3h-1.3zM80.34 73.19h1.3v1.3h-1.3zM125.25 69.34h1.3v1.3h-1.3zM114.47 69.89h1.3v1.3h-1.3zM50.73 88.36h1.3v1.3h-1.3zM76.38 80.82h1.3v1.3h-1.3zM84.93 70.41h1.3v1.3h-1.3zM102.15 70.85h1.3v1.3h-1.3zM123.97 74.71h1.3v1.3h-1.3zM68.28 72.06h1.3v1.3h-1.3zM97.18 78.98h1.3v1.3h-1.3zM72.68 87.41h1.3v1.3h-1.3zM44.12 70.04h1.3v1.3h-1.3zM62.72 72.64h1.3v1.3h-1.3zM62.68 70.38h1.3v1.3h-1.3zM59.78 71.12h1.3v1.3h-1.3zM61.28 73.33h1.3v1.3h-1.3zM83.93 71.29h1.3v1.3h-1.3zM54.96 72.03h1.3v1.3h-1.3zM49.32 70.84h1.3v1.3h-1.3zM123.15 73.45h1.3v1.3h-1.3zM88.24 70.7h1.3v1.3h-1.3zM115.8 80.48h1.3v1.3h-1.3zM106.43 69.72h1.3v1.3h-1.3zM90.17 86.34h1.3v1.3h-1.3zM43.11 70.65h1.3v1.3h-1.3zM50.85 71.59h1.3v1.3h-1.3zM112.23 71.61h1.3v1.3h-1.3zM87.66 71.05h1.3v1.3h-1.3zM58.61 83.49h1.3v1.3h-1.3zM48.01 70.83h1.3v1.3h-1.3zM62.14 87.9h1.3v1.3h-1.3zM58.66 76.18h1.3v1.3h-1.3zM99.94 73.25h1.3v1.3h-1.3zM122.15 69.69h1.3v1.3h-1.3zM57.84 85.34h1.3v1.3h-1.3zM117.25 72.7h1.3v1.3h-1.3zM127.13 69.91h1.3v1.3h-1.3zM109.94 75.97h1.3v1.3h-1.3zM119.31 76.1h1.3v1.3h-1.3zM60.78 102.29h1.3v1.3h-1.3zM92.57 69.77h1.3v1.3h-1.3zM39.53 98.92h1.3v1.3h-1.3zM52.77 71.31h1.3v1.3h-1.3zM50.7 73.09h1.3v1.3h-1.3zM95.53 70.39h1.3v1.3h-1.3zM60.38 89.25h1.3v1.3h-1.3zM60.1 75.71h1.3v1.3h-1.3zM107.41 84.25h1.3v1.3h-1.3zM74.16 81.85h1.3v1.3h-1.3zM59.87 70.74h1.3v1.3h-1.3zM99.67 80.58h1.3v1.3h-1.3zM113.38 69.37h1.3v1.3h-1.3zM104.5 73.09h1.3v1.3h-1.3zM118.23 69.37h1.3v1.3h-1.3zM55.07 72.17h1.3v1.3h-1.3zM62.31 85.61h1.3v1.3h-1.3zM53.93 98.58h1.3v1.3h-1.3zM76.66 70.1h1.3v1.3h-1.3zM68.22 87.19h1.3v1.3h-1.3zM126.84 70.55h1.3v1.3h-1.3zM100.4 69.32h1.3v1.3h-1.3zM100.07 73.14h1.3v1.3h-1.3zM65.89 86.98h1.3v1.3h-1.3zM54.67 76.04h1.3v1.3h-1.3zM119.57 77.16h1.3v1.3h-1.3zM106.44 70.82h1.3v1.3h-1.3zM42.9 71.44h1.3v1.3h-1.3zM120.41 70.43h1.3v1.3h-1.3zM108.39 69.31h1.3v1.3h-1.3zM120.49 70.39h1.3v1.3h-1.3zM59.06 77.53h1.3v1.3h-1.3zM109.63 73.8h1.3v1.3h-1.3zM73.89 83.17h1.3v1.3h-1.3zM120.55 72.08h1.3v1.3h-1.3zM58.93 85.02h1.3v1.3h-1.3zM53.37 76.02h1.3v1.3h-1.3zM56.33 77.22h1.3v1.3h-1.3zM102.67 74.42h1.3v1.3h-1.3zM92.36 70.73h1.3v1.3h-1.3zM97.97 75.06h1.3v1.3h-1.3zM97.41 75.71h1.3v1.3h-1.3zM73.73 78.95h1.3v1.3h-1.3zM104.25 73.15h1.3v1.3h-1.3zM58.04 71.87h1.3v1.3h-1.3zM58.49 91.57h1.3v1.3h-1.3zM120.64 76.97h1.3v1.3h-1.3zM120.44 69.76h1.3v1.3h-1.3zM95.5 86.49h1.3v1.3h-1.3zM96.92 70.18h1.3v1.3h-1.3zM78.81 73.74h1.3v1.3h-1.3zM44.41 73.93h1.3v1.3h-1.3zM39.94 71.69h1.3v1.3h-1.3zM83.46 69.05h1.3v1.3h-1.3zM125.07 69.34h1.3v1.3h-1.3zM62.93 74.2h1.3v1.3h-1.3zM65.07 69.46h1.3v1.3h-1.3zM123.79 78.62h1.3v1.3h-1.3zM56.14 69.43h1.3v1.3h-1.3zM81.3 85.88h1.3v1.3h-1.3zM80.65 74.41h1.3v1.3h-1.3zM93.47 71.79h1.3v1.3h-1.3zM75.35 68.83h1.3v1.3h-1.3zM70.7 72.02h1.3v1.3h-1.3zM109.73 75.09h1.3v1.3h-1.3zM122.98 74.38h1.3v1.3h-1.3zM46.18 71.69h1.3v1.3h-1.3zM110.35 73.01h1.3v1.3h-1.3zM125.41 71.45h1.3v1.3h-1.3zM53.88 76.02h1.3v1.3h-1.3zM47.83 76.46h1.3v1.3h-1.3zM76.84 76.44h1.3v1.3h-1.3zM38.67 73.43h1.3v1.3h-1.3zM92.32 76.37h1.3v1.3h-1.3zM43.66 75.18h1.3v1.3h-1.3zM43.25 80.5h1.3v1.3h-1.3zM94.15 77.7h1.3v1.3h-1.3zM52.29 81.81h1.3v1.3h-1.3zM91.92 73.21h1.3v1.3h-1.3zM103 78.97h1.3v1.3h-1.3zM122.63 90.21h1.3v1.3h-1.3zM115.82 74.85h1.3v1.3h-1.3zM113.3 74.33h1.3v1.3h-1.3zM39.22 70.41h1.3v1.3h-1.3zM81.28 73.14h1.3v1.3h-1.3zM118.46 75.93h1.3v1.3h-1.3zM98.79 78.55h1.3v1.3h-1.3zM111.37 72.24h1.3v1.3h-1.3zM55.54 69.19h1.3v1.3h-1.3zM75.22 69.05h1.3v1.3h-1.3zM101.23 78.97h1.3v1.3h-1.3zM68.11 76.36h1.3v1.3h-1.3zM116.54 75.68h1.3v1.3h-1.3zM71.19 75.9h1.3v1.3h-1.3zM87.49 75.6h1.3v1.3h-1.3zM76.93 105.41h1.3v1.3h-1.3zM126.51 71.82h1.3v1.3h-1.3zM48.66 80.99h1.3v1.3h-1.3zM95.44 74.07h1.3v1.3h-1.3zM79.76 70.49h1.3v1.3h-1.3zM117.72 74.01h1.3v1.3h-1.3zM83.21 80.75h1.3v1.3h-1.3zM73.37 73.77h1.3v1.3h-1.3zM117.83 70.36h1.3v1.3h-1.3zM101.74 71.05h1.3v1.3h-1.3zM58.14 69.12h1.3v1.3h-1.3zM80.24 75.73h1.3v1.3h-1.3zM68.75 74.05h1.3v1.3h-1.3zM105.02 69.38h1.3v1.3h-1.3zM74.48 72.45h1.3v1.3h-1.3zM46.57 71.81h1.3v1.3h-1.3zM46.72 70.94h1.3v1.3h-1.3zM52.76 70.59h1.3v1.3h-1.3zM115.82 75.97h1.3v1.3h-1.3zM40.97 77.04h1.3v1.3h-1.3zM56.79 75.89h1.3v1.3h-1.3zM99.76 76.46h1.3v1.3h-1.3zM63.5 86.03h1.3v1.3h-1.3zM51.28 93.72h1.3v1.3h-1.3zM76.96 70.3h1.3v1.3h-1.3zM95.86 70.74h1.3v1.3h-1.3zM118.49 75.37h1.3v1.3h-1.3zM62.83 81.22h1.3v1.3h-1.3zM75.02 75.74h1.3v1.3h-1.3zM74.62 75.72h1.3v1.3h-1.3zM70.45 76h1.3v1.3h-1.3zM67.66 69.14h1.3v1.3h-1.3zM49.51 73.06h1.3v1.3h-1.3zM60.73 69.6h1.3v1.3h-1.3zM127.06 75.82h1.3v1.3h-1.3zM124.29 72.35h1.3v1.3h-1.3zM94.42 78.08h1.3v1.3h-1.3zM101.54 76.03h1.3v1.3h-1.3zM93.91 74.02h1.3v1.3h-1.3zM81.82 75.76h1.3v1.3h-1.3zM44.57 70.18h1.3v1.3h-1.3zM67.63 70.58h1.3v1.3h-1.3zM82.29 72.14h1.3v1.3h-1.3zM65.74 82.02h1.3v1.3h-1.3zM39.34 71.14h1.3v1.3h-1.3zM49.7 74.23h1.3v1.3h-1.3zM42.11 69.33h1.3v1.3h-1.3zM71.8 73.11h1.3v1.3h-1.3zM59.23 84.99h1.3v1.3h-1.3zM101.73 83.89h1.3v1.3h-1.3zM111.84 75.75h1.3v1.3h-1.3zM43.18 75.89h1.3v1.3h-1.3zM63.14 73.15h1.3v1.3h-1.3zM73.49 70.34h1.3v1.3h-1.3zM61.95 70.09h1.3v1.3h-1.3zM70.55 75.89h1.3v1.3h-1.3zM100.21 76.24h1.3v1.3h-1.3zM82.23 70.36h1.3v1.3h-1.3zM84.75 72.11h1.3v1.3h-1.3zM90.49 105.31h1.3v1.3h-1.3zM117.27 76.17h1.3v1.3h-1.3zM41.59 70.72h1.3v1.3h-1.3zM45.12 87.05h1.3v1.3h-1.3zM69.43 70.12h1.3v1.3h-1.3zM50.93 79.33h1.3v1.3h-1.3zM72.07 72.73h1.3v1.3h-1.3zM69.43 73.82h1.3v1.3h-1.3zM77.83 74.99h1.3v1.3h-1.3zM99.98 69.36h1.3v1.3h-1.3zM121.96 109.53h1.3v1.3h-1.3zM56.62 70.69h1.3v1.3h-1.3zM96.42 69.2h1.3v1.3h-1.3zM105.57 78.46h1.3v1.3h-1.3zM82.24 71.82h1.3v1.3h-1.3zM39.64 69.1h1.3v1.3h-1.3zM118.61 72.97h1.3v1.3h-1.3zM105.47 73.43h1.3v1.3h-1.3zM80.53 75.65h1.3v1.3h-1.3zM61.1 77.05h1.3v1.3h-1.3zM96.91 73.94h1.3v1.3h-1.3zM58.49 69.62h1.3v1.3h-1.3zM120.49 81.67h1.3v1.3h-1.3zM51 82.35h1.3v1.3h-1.3zM99.36 75.81h1.3v1.3h-1.3zM95.8 75.81h1.3v1.3h-1.3zM88.97 71.63h1.3v1.3h-1.3zM112.5 72.3h1.3v1.3h-1.3zM119.25 69.52h1.3v1.3h-1.3zM117.32 73.14h1.3v1.3h-1.3zM113.9 89.27h1.3v1.3h-1.3zM38.82 76.25h1.3v1.3h-1.3zM124.69 70.47h1.3v1.3h-1.3zM48.39 69.52h1.3v1.3h-1.3zM119.17 74.34h1.3v1.3h-1.3zM97.58 75.21h1.3v1.3h-1.3zM42.73 75.4h1.3v1.3h-1.3zM42.07 73.63h1.3v1.3h-1.3zM106.75 71.57h1.3v1.3h-1.3zM47.04 86.14h1.3v1.3h-1.3zM83.99 81.9h1.3v1.3h-1.3zM44.39 69.38h1.3v1.3h-1.3zM66.94 74.99h1.3v1.3h-1.3zM69.32 70.5h1.3v1.3h-1.3zM54.27 74.03h1.3v1.3h-1.3zM104.67 74.12h1.3v1.3h-1.3zM121.89 88.06h1.3v1.3h-1.3zM55.52 78.89h1.3v1.3h-1.3zM109.84 70.97h1.3v1.3h-1.3zM92.81 69.31h1.3v1.3h-1.3zM40.29 69.42h1.3v1.3h-1.3zM123.77 78.21h1.3v1.3h-1.3zM103.45 69.29h1.3v1.3h-1.3zM98.86 68.97h1.3v1.3h-1.3zM48.19 68.86h1.3v1.3h-1.3zM109.4 71.89h1.3v1.3h-1.3zM44.25 69.69h1.3v1.3h-1.3zM60.42 77.93h1.3v1.3h-1.3zM61.93 72.95h1.3v1.3h-1.3zM79.99 69.38h1.3v1.3h-1.3zM67.67 73.38h1.3v1.3h-1.3zM107.29 73.6h1.3v1.3h-1.3zM73.27 87.57h1.3v1.3h-1.3zM102.52 72.75h1.3v1.3h-1.3zM111.45 80.38h1.3v1.3h-1.3zM47.33 70.94h1.3v1.3h-1.3zM49.93 74.97h1.3v1.3h-1.3zM78.04 70.48h1.3v1.3h-1.3zM90.46 76.78h1.3v1.3h-1.3zM68.65 75.71h1.3v1.3h-1.3zM76.56 73.82h1.3v1.3h-1.3zM66.91 76.74h1.3v1.3h-1.3zM90.31 71.97h1.3v1.3h-1.3zM41.51 85.3h1.3v1.3h-1.3zM91.27 73.01h1.3v1.3h-1.3zM98.78 71.33h1.3v1.3h-1.3zM53.97 75.06h1.3v1.3h-1.3zM74.74 71.69h1.3v1.3h-1.3zM113.63 77.3h1.3v1.3h-1.3zM102.67 89.77h1.3v1.3h-1.3zM51.21 109.95h1.3v1.3h-1.3zM88.79 75.63h1.3v1.3h-1.3zM113.85 87.04h1.3v1.3h-1.3zM47.87 75.9h1.3v1.3h-1.3zM112.04 69.65h1.3v1.3h-1.3zM89.24 90.96h1.3v1.3h-1.3zM90.18 69.15h1.3v1.3h-1.3zM48.76 76.02h1.3v1.3h-1.3zM120.15 71.37h1.3v1.3h-1.3zM87.02 76.66h1.3v1.3h-1.3zM109.52 71.2h1.3v1.3h-1.3zM39.7 72.4h1.3v1.3h-1.3zM64.1 72.12h1.3v1.3h-1.3zM42.2 87.83h1.3v1.3h-1.3zM98.71 105.16h1.3v1.3h-1.3zM96.78 75.77h1.3v1.3h-1.3zM48.6 83.15h1.3v1.3h-1.3zM93.37 85.09h1.3v1.3h-1.3zM61.05 75.38h1.3v1.3h-1.3zM78.37 92.62h1.3v1.3h-1.3zM118.57 72.03h1.3v1.3h-1.3zM71.74 75.05h1.3v1.3h-1.3zM105.08 83.41h1.3v1.3h-1.3zM84.42 69.85h1.3v1.3h-1.3z" fill="#2a5e16"/>
<path d="M54.55 60.99h1.25v1.25h-1.25zM44.26 60.68h1.25v1.25h-1.25zM100.04 53.49h1.25v1.25h-1.25zM84.06 43.48h1.25v1.25h-1.25zM42.01 62.11h1.25v1.25h-1.25zM45.83 64.51h1.25v1.25h-1.25zM112.69 62.16h1.25v1.25h-1.25zM106.34 56.54h1.25v1.25h-1.25zM60.98 64.68h1.25v1.25h-1.25zM56.71 65.03h1.25v1.25h-1.25zM79.27 63.83h1.25v1.25h-1.25zM83.14 51.47h1.25v1.25h-1.25zM121.28 60.44h1.25v1.25h-1.25zM117.92 64.81h1.25v1.25h-1.25zM103.59 65.01h1.25v1.25h-1.25zM111.35 62.55h1.25v1.25h-1.25zM47.44 36.38h1.25v1.25h-1.25zM108.84 59.72h1.25v1.25h-1.25zM41.14 53.67h1.25v1.25h-1.25zM55.25 64.81h1.25v1.25h-1.25zM45.09 57.3h1.25v1.25h-1.25zM80.52 65.06h1.25v1.25h-1.25zM40 63.44h1.25v1.25h-1.25zM78.14 64.44h1.25v1.25h-1.25zM82.38 43.47h1.25v1.25h-1.25zM88.86 55.23h1.25v1.25h-1.25zM49.43 64.06h1.25v1.25h-1.25zM79.95 65.03h1.25v1.25h-1.25zM69.56 61.63h1.25v1.25h-1.25zM41.4 58.06h1.25v1.25h-1.25zM62.3 65.02h1.25v1.25h-1.25zM90.55 58.7h1.25v1.25h-1.25zM112.77 64.86h1.25v1.25h-1.25zM80.16 57.07h1.25v1.25h-1.25zM75.76 60.53h1.25v1.25h-1.25zM82.69 64.42h1.25v1.25h-1.25zM113.31 56.59h1.25v1.25h-1.25zM40.32 63.73h1.25v1.25h-1.25zM87.13 63.25h1.25v1.25h-1.25zM111.28 62.42h1.25v1.25h-1.25zM43.5 59.44h1.25v1.25h-1.25zM55.12 62.16h1.25v1.25h-1.25zM57.08 59.28h1.25v1.25h-1.25zM48.96 65.08h1.25v1.25h-1.25zM72.32 60.15h1.25v1.25h-1.25zM92.11 64.7h1.25v1.25h-1.25zM82.31 64.79h1.25v1.25h-1.25zM51.84 65.15h1.25v1.25h-1.25zM127.16 51.79h1.25v1.25h-1.25zM79.4 57.34h1.25v1.25h-1.25zM40.38 65.08h1.25v1.25h-1.25zM87.81 63.11h1.25v1.25h-1.25zM63.85 53.29h1.25v1.25h-1.25zM97.96 64.98h1.25v1.25h-1.25zM61.15 65.09h1.25v1.25h-1.25zM80.14 53.44h1.25v1.25h-1.25zM112.7 63.98h1.25v1.25h-1.25zM53.25 63.3h1.25v1.25h-1.25zM42.8 54.59h1.25v1.25h-1.25zM87.46 55.52h1.25v1.25h-1.25zM65.42 53.28h1.25v1.25h-1.25zM111.3 58.22h1.25v1.25h-1.25zM98.76 64.01h1.25v1.25h-1.25zM66.78 62.15h1.25v1.25h-1.25zM42.28 53.31h1.25v1.25h-1.25zM42.86 64.61h1.25v1.25h-1.25zM96.94 53.8h1.25v1.25h-1.25zM62.62 56.56h1.25v1.25h-1.25zM106.02 61.64h1.25v1.25h-1.25zM124.16 64.25h1.25v1.25h-1.25zM43.24 57.62h1.25v1.25h-1.25zM51.25 57.9h1.25v1.25h-1.25zM62.87 62.81h1.25v1.25h-1.25zM125.41 59.6h1.25v1.25h-1.25zM50.07 64.78h1.25v1.25h-1.25zM111.53 56.89h1.25v1.25h-1.25zM107.18 62.74h1.25v1.25h-1.25zM68.51 34.15h1.25v1.25h-1.25zM46.45 64.99h1.25v1.25h-1.25zM49.93 65.04h1.25v1.25h-1.25zM106.26 62.56h1.25v1.25h-1.25zM39.74 58.26h1.25v1.25h-1.25zM107.72 54.73h1.25v1.25h-1.25zM55.89 64.25h1.25v1.25h-1.25zM78.36 58.3h1.25v1.25h-1.25zM97.5 65.09h1.25v1.25h-1.25zM113.71 63h1.25v1.25h-1.25zM96.5 55.3h1.25v1.25h-1.25zM105.77 62.89h1.25v1.25h-1.25zM90.3 62.56h1.25v1.25h-1.25zM98.47 57.72h1.25v1.25h-1.25zM93.91 64.38h1.25v1.25h-1.25zM95.27 61.74h1.25v1.25h-1.25zM44.31 58.54h1.25v1.25h-1.25zM67.19 64.94h1.25v1.25h-1.25zM47.4 65.02h1.25v1.25h-1.25zM40.46 62.73h1.25v1.25h-1.25zM126.58 63.31h1.25v1.25h-1.25zM121.17 44.98h1.25v1.25h-1.25zM83.83 57.04h1.25v1.25h-1.25zM66.34 62.82h1.25v1.25h-1.25zM84.61 63.46h1.25v1.25h-1.25zM111.9 57.79h1.25v1.25h-1.25zM90.26 59.05h1.25v1.25h-1.25zM99.78 58.09h1.25v1.25h-1.25zM61.27 57.31h1.25v1.25h-1.25zM122.12 61.74h1.25v1.25h-1.25zM65.41 49.82h1.25v1.25h-1.25zM111.26 49.99h1.25v1.25h-1.25zM78.35 58.42h1.25v1.25h-1.25zM74.28 63.9h1.25v1.25h-1.25zM59.94 63.71h1.25v1.25h-1.25zM111.91 58.36h1.25v1.25h-1.25zM55.94 40.79h1.25v1.25h-1.25zM72.16 53.81h1.25v1.25h-1.25zM75.77 63.74h1.25v1.25h-1.25zM89.96 57.34h1.25v1.25h-1.25zM41.25 58.62h1.25v1.25h-1.25zM123.42 63.41h1.25v1.25h-1.25zM56.92 57.79h1.25v1.25h-1.25zM38.97 58.46h1.25v1.25h-1.25zM58.35 64.01h1.25v1.25h-1.25zM65.9 64.28h1.25v1.25h-1.25zM110.65 58.64h1.25v1.25h-1.25zM65.76 63.89h1.25v1.25h-1.25zM87.66 64.94h1.25v1.25h-1.25zM121.71 57.08h1.25v1.25h-1.25zM88.8 47h1.25v1.25h-1.25zM95.03 56.89h1.25v1.25h-1.25zM106.53 58.72h1.25v1.25h-1.25zM103.64 33.19h1.25v1.25h-1.25zM105.14 50.71h1.25v1.25h-1.25zM116.06 58.41h1.25v1.25h-1.25zM45.96 62.65h1.25v1.25h-1.25zM87.98 63.77h1.25v1.25h-1.25zM88.65 61.93h1.25v1.25h-1.25zM68.72 59.1h1.25v1.25h-1.25zM72.92 61.44h1.25v1.25h-1.25zM117.42 34.35h1.25v1.25h-1.25zM87.18 59.01h1.25v1.25h-1.25zM51.22 63.19h1.25v1.25h-1.25zM46.96 64.95h1.25v1.25h-1.25zM72.84 65.13h1.25v1.25h-1.25zM46.83 57.2h1.25v1.25h-1.25zM101.84 57.71h1.25v1.25h-1.25zM119.19 59.83h1.25v1.25h-1.25zM78.42 63.43h1.25v1.25h-1.25zM52.73 64.5h1.25v1.25h-1.25zM47.75 64.25h1.25v1.25h-1.25zM107.35 41.83h1.25v1.25h-1.25zM115.56 49.94h1.25v1.25h-1.25zM113.91 57.38h1.25v1.25h-1.25zM111.54 58.94h1.25v1.25h-1.25zM88.83 65.08h1.25v1.25h-1.25zM55.95 49.12h1.25v1.25h-1.25zM91.73 64.07h1.25v1.25h-1.25zM68.56 62.06h1.25v1.25h-1.25zM100.09 52.69h1.25v1.25h-1.25zM80.57 43.49h1.25v1.25h-1.25zM118.82 64.89h1.25v1.25h-1.25zM121.17 41.29h1.25v1.25h-1.25zM48.09 48.02h1.25v1.25h-1.25zM61.57 58.82h1.25v1.25h-1.25zM55.5 64.71h1.25v1.25h-1.25zM119.67 53.49h1.25v1.25h-1.25zM114.52 49.54h1.25v1.25h-1.25zM126.68 65.14h1.25v1.25h-1.25zM100.34 28.56h1.25v1.25h-1.25zM69.79 57.83h1.25v1.25h-1.25zM93.56 61.31h1.25v1.25h-1.25zM70.4 60.91h1.25v1.25h-1.25zM97.44 60.48h1.25v1.25h-1.25zM41.94 65.08h1.25v1.25h-1.25zM108.37 58.49h1.25v1.25h-1.25zM61.4 49.74h1.25v1.25h-1.25zM40.65 63.32h1.25v1.25h-1.25zM108.01 62.88h1.25v1.25h-1.25zM123.52 43.55h1.25v1.25h-1.25zM84.11 57.35h1.25v1.25h-1.25zM109.39 47.8h1.25v1.25h-1.25zM120.22 65.14h1.25v1.25h-1.25zM84.59 43.87h1.25v1.25h-1.25zM97.04 62.94h1.25v1.25h-1.25zM68.94 63.78h1.25v1.25h-1.25zM44.54 61.92h1.25v1.25h-1.25zM44.25 63.8h1.25v1.25h-1.25zM50.53 63.7h1.25v1.25h-1.25zM84.97 61.91h1.25v1.25h-1.25zM71.75 58.72h1.25v1.25h-1.25zM99.08 62h1.25v1.25h-1.25zM76.71 63.65h1.25v1.25h-1.25zM122.75 59.87h1.25v1.25h-1.25zM121.04 63.33h1.25v1.25h-1.25zM46.37 64.02h1.25v1.25h-1.25zM49.71 57.71h1.25v1.25h-1.25zM108.5 64.96h1.25v1.25h-1.25zM122.55 59.43h1.25v1.25h-1.25zM77.53 63.13h1.25v1.25h-1.25zM116.95 50.88h1.25v1.25h-1.25zM69.77 65.14h1.25v1.25h-1.25zM75.67 65.15h1.25v1.25h-1.25zM126.3 26.74h1.25v1.25h-1.25zM82.12 62.28h1.25v1.25h-1.25zM72.52 62.04h1.25v1.25h-1.25zM64.82 61.18h1.25v1.25h-1.25zM101.18 58.96h1.25v1.25h-1.25zM64.18 64.63h1.25v1.25h-1.25zM39.56 63.04h1.25v1.25h-1.25zM103.62 65.13h1.25v1.25h-1.25zM70.12 47.05h1.25v1.25h-1.25zM101.5 60.99h1.25v1.25h-1.25zM110.17 64.93h1.25v1.25h-1.25zM107.27 65.05h1.25v1.25h-1.25zM68.52 61.02h1.25v1.25h-1.25zM39.5 60.5h1.25v1.25h-1.25zM92.82 46.06h1.25v1.25h-1.25zM50.78 49.93h1.25v1.25h-1.25zM66.05 65.08h1.25v1.25h-1.25zM55.62 49.85h1.25v1.25h-1.25zM43.31 60.03h1.25v1.25h-1.25zM60.14 42.24h1.25v1.25h-1.25zM65.04 64.63h1.25v1.25h-1.25zM108.06 58.15h1.25v1.25h-1.25zM104.11 59.15h1.25v1.25h-1.25zM60.27 64.1h1.25v1.25h-1.25zM95.59 53.68h1.25v1.25h-1.25zM43.15 48.83h1.25v1.25h-1.25zM113.25 64.94h1.25v1.25h-1.25zM96.31 64.66h1.25v1.25h-1.25zM84.76 63.89h1.25v1.25h-1.25zM52.28 59.32h1.25v1.25h-1.25zM126.75 58.16h1.25v1.25h-1.25zM90.36 49.51h1.25v1.25h-1.25zM111.11 64.1h1.25v1.25h-1.25zM112.66 62.24h1.25v1.25h-1.25zM88.51 57.93h1.25v1.25h-1.25zM61.94 63.48h1.25v1.25h-1.25zM80.63 64.46h1.25v1.25h-1.25zM49.71 57.85h1.25v1.25h-1.25zM108.13 62.89h1.25v1.25h-1.25zM64.45 64.09h1.25v1.25h-1.25zM57.49 47.47h1.25v1.25h-1.25zM106.19 58.02h1.25v1.25h-1.25zM90.07 63.26h1.25v1.25h-1.25zM111.14 63.32h1.25v1.25h-1.25zM83.04 64.66h1.25v1.25h-1.25zM68.64 64.6h1.25v1.25h-1.25zM123.1 56.9h1.25v1.25h-1.25zM77.99 62.06h1.25v1.25h-1.25zM48.62 59.35h1.25v1.25h-1.25zM64.16 58.51h1.25v1.25h-1.25zM55.19 58.59h1.25v1.25h-1.25zM58.42 58.13h1.25v1.25h-1.25zM86.67 62.08h1.25v1.25h-1.25zM46.05 51.45h1.25v1.25h-1.25zM43.75 64.37h1.25v1.25h-1.25zM67.11 59.51h1.25v1.25h-1.25zM89.77 56.93h1.25v1.25h-1.25zM112.39 64.48h1.25v1.25h-1.25zM121.62 61h1.25v1.25h-1.25zM120.72 60.6h1.25v1.25h-1.25zM65.83 64.81h1.25v1.25h-1.25zM111.12 60.77h1.25v1.25h-1.25zM105.57 64.69h1.25v1.25h-1.25zM41.75 47.93h1.25v1.25h-1.25zM47.46 62.94h1.25v1.25h-1.25zM124.22 58.26h1.25v1.25h-1.25zM104.91 63.09h1.25v1.25h-1.25zM61.23 65.12h1.25v1.25h-1.25zM94.69 62.86h1.25v1.25h-1.25zM88.18 47.85h1.25v1.25h-1.25zM65.06 62.6h1.25v1.25h-1.25zM113.76 59.75h1.25v1.25h-1.25zM80.93 61.9h1.25v1.25h-1.25zM43.5 64.93h1.25v1.25h-1.25zM93.7 62.59h1.25v1.25h-1.25zM81.66 58.48h1.25v1.25h-1.25zM61.05 60.09h1.25v1.25h-1.25zM113.09 64.51h1.25v1.25h-1.25zM123.21 61.59h1.25v1.25h-1.25zM121.5 57.43h1.25v1.25h-1.25zM115.41 58.99h1.25v1.25h-1.25zM39.4 64.02h1.25v1.25h-1.25zM95.48 52.74h1.25v1.25h-1.25zM59.56 58.2h1.25v1.25h-1.25zM87.92 57.3h1.25v1.25h-1.25zM46.54 62.79h1.25v1.25h-1.25zM106.57 62.54h1.25v1.25h-1.25zM54.44 64.83h1.25v1.25h-1.25zM121.79 62.68h1.25v1.25h-1.25zM127.04 58.53h1.25v1.25h-1.25zM95.27 57.2h1.25v1.25h-1.25zM99.59 62.14h1.25v1.25h-1.25zM69.36 61.62h1.25v1.25h-1.25zM102.42 42.18h1.25v1.25h-1.25zM94.66 62.2h1.25v1.25h-1.25zM99.23 65.15h1.25v1.25h-1.25zM126.08 60.81h1.25v1.25h-1.25zM38.5 57.76h1.25v1.25h-1.25zM66.04 61.58h1.25v1.25h-1.25zM59.6 61.96h1.25v1.25h-1.25zM93.59 57.98h1.25v1.25h-1.25zM110.16 57.97h1.25v1.25h-1.25zM97.17 58.27h1.25v1.25h-1.25zM83.18 49.74h1.25v1.25h-1.25zM73.05 58.27h1.25v1.25h-1.25zM120.65 61.82h1.25v1.25h-1.25zM100.69 50.9h1.25v1.25h-1.25zM57.13 59.51h1.25v1.25h-1.25zM48.35 64.37h1.25v1.25h-1.25zM39.33 57.9h1.25v1.25h-1.25zM52.69 61.81h1.25v1.25h-1.25zM83.94 62.81h1.25v1.25h-1.25zM99.23 62.38h1.25v1.25h-1.25zM55.21 61.37h1.25v1.25h-1.25zM61.32 63.87h1.25v1.25h-1.25zM109.16 64.38h1.25v1.25h-1.25zM112.58 64.78h1.25v1.25h-1.25zM112.05 56.91h1.25v1.25h-1.25zM59.67 56.64h1.25v1.25h-1.25zM113.61 52.48h1.25v1.25h-1.25zM89.35 64.25h1.25v1.25h-1.25zM71.66 63.21h1.25v1.25h-1.25zM93.91 63.56h1.25v1.25h-1.25zM43.42 46.26h1.25v1.25h-1.25zM54.61 48.39h1.25v1.25h-1.25zM107.31 65.11h1.25v1.25h-1.25zM52.75 30.89h1.25v1.25h-1.25zM72.71 62.89h1.25v1.25h-1.25zM86.53 61.52h1.25v1.25h-1.25zM114.7 52.44h1.25v1.25h-1.25zM43.21 54.97h1.25v1.25h-1.25zM46.47 58.47h1.25v1.25h-1.25zM88.91 56.83h1.25v1.25h-1.25zM69.21 59.44h1.25v1.25h-1.25zM123.01 63.21h1.25v1.25h-1.25zM64.7 57.79h1.25v1.25h-1.25zM57.92 40.68h1.25v1.25h-1.25zM123.87 64.12h1.25v1.25h-1.25zM124.66 61.78h1.25v1.25h-1.25zM107.71 65.08h1.25v1.25h-1.25zM73.59 54.81h1.25v1.25h-1.25zM73.23 65.15h1.25v1.25h-1.25zM126.05 65.01h1.25v1.25h-1.25zM38.64 64.57h1.25v1.25h-1.25zM78.18 57.35h1.25v1.25h-1.25zM47.91 62.43h1.25v1.25h-1.25zM65.1 63.71h1.25v1.25h-1.25zM57.17 52.93h1.25v1.25h-1.25zM122.73 61h1.25v1.25h-1.25zM81.65 58.05h1.25v1.25h-1.25zM111.64 62h1.25v1.25h-1.25zM58.11 64.7h1.25v1.25h-1.25zM40.54 57.51h1.25v1.25h-1.25zM74.4 60.92h1.25v1.25h-1.25zM89.51 56.84h1.25v1.25h-1.25zM95.16 64.42h1.25v1.25h-1.25zM80.88 58.92h1.25v1.25h-1.25zM94.3 63.69h1.25v1.25h-1.25zM102.21 58.28h1.25v1.25h-1.25zM94.21 47.02h1.25v1.25h-1.25zM58.56 51.65h1.25v1.25h-1.25zM78.28 63.09h1.25v1.25h-1.25zM108.21 43.47h1.25v1.25h-1.25zM46.49 63.48h1.25v1.25h-1.25zM74.2 61.61h1.25v1.25h-1.25zM71.41 64.6h1.25v1.25h-1.25zM104.89 57.17h1.25v1.25h-1.25zM110.09 60.23h1.25v1.25h-1.25zM77.54 58.36h1.25v1.25h-1.25zM97.26 63.89h1.25v1.25h-1.25zM109.37 63.08h1.25v1.25h-1.25zM71.18 56.71h1.25v1.25h-1.25zM99.75 54.67h1.25v1.25h-1.25zM47.29 58.14h1.25v1.25h-1.25zM100.82 64.42h1.25v1.25h-1.25zM74.9 54.85h1.25v1.25h-1.25zM48.06 41.81h1.25v1.25h-1.25zM75.02 63.36h1.25v1.25h-1.25zM123.68 56.25h1.25v1.25h-1.25zM61.46 61.4h1.25v1.25h-1.25zM51.68 57h1.25v1.25h-1.25zM51.11 60.67h1.25v1.25h-1.25zM125.63 58.88h1.25v1.25h-1.25zM39.39 36.86h1.25v1.25h-1.25zM108.48 62.95h1.25v1.25h-1.25zM56.77 62.5h1.25v1.25h-1.25zM40.44 57.81h1.25v1.25h-1.25zM119.94 59.67h1.25v1.25h-1.25zM97.89 63.15h1.25v1.25h-1.25zM123.53 62.42h1.25v1.25h-1.25zM126.64 57.23h1.25v1.25h-1.25zM93.79 64.33h1.25v1.25h-1.25zM38.73 60.36h1.25v1.25h-1.25zM118.89 57.99h1.25v1.25h-1.25zM77.15 63.53h1.25v1.25h-1.25zM47.19 61.97h1.25v1.25h-1.25zM67.37 61.72h1.25v1.25h-1.25zM51.16 59h1.25v1.25h-1.25zM77.58 61.71h1.25v1.25h-1.25zM39.31 61.26h1.25v1.25h-1.25zM87.33 61.28h1.25v1.25h-1.25zM85.88 64.82h1.25v1.25h-1.25zM118.13 61.25h1.25v1.25h-1.25zM119.25 57.16h1.25v1.25h-1.25zM39.73 63.25h1.25v1.25h-1.25zM121.04 64.9h1.25v1.25h-1.25zM100.81 65.02h1.25v1.25h-1.25zM50.9 63.76h1.25v1.25h-1.25zM96.9 59.72h1.25v1.25h-1.25zM43.91 59.11h1.25v1.25h-1.25zM90 54.47h1.25v1.25h-1.25zM47.47 36.68h1.25v1.25h-1.25zM97.36 56.7h1.25v1.25h-1.25zM43.44 57.07h1.25v1.25h-1.25zM44.23 59.87h1.25v1.25h-1.25zM64.97 38.38h1.25v1.25h-1.25zM101.2 64.63h1.25v1.25h-1.25zM68.24 65.08h1.25v1.25h-1.25zM117.64 65.04h1.25v1.25h-1.25zM73.17 64.12h1.25v1.25h-1.25zM57.29 60.46h1.25v1.25h-1.25zM117.08 57.35h1.25v1.25h-1.25zM103.66 64.95h1.25v1.25h-1.25zM39.39 64.38h1.25v1.25h-1.25zM109.85 61.76h1.25v1.25h-1.25zM100.52 62.87h1.25v1.25h-1.25zM52.33 64.8h1.25v1.25h-1.25zM100.92 61.99h1.25v1.25h-1.25zM123.5 60.87h1.25v1.25h-1.25zM82.48 57.3h1.25v1.25h-1.25zM44.25 47.05h1.25v1.25h-1.25zM47.82 45.93h1.25v1.25h-1.25zM65.02 46.33h1.25v1.25h-1.25zM98.49 63.4h1.25v1.25h-1.25zM83.28 63.26h1.25v1.25h-1.25zM60.99 57.64h1.25v1.25h-1.25zM116.27 61.97h1.25v1.25h-1.25zM126.77 58.62h1.25v1.25h-1.25zM107.64 60.73h1.25v1.25h-1.25zM87.78 58.23h1.25v1.25h-1.25zM92.52 58.13h1.25v1.25h-1.25zM53.62 56.12h1.25v1.25h-1.25zM82.64 61.61h1.25v1.25h-1.25zM50.23 65.1h1.25v1.25h-1.25zM70.22 63.12h1.25v1.25h-1.25zM46.22 57.22h1.25v1.25h-1.25zM76.3 64.08h1.25v1.25h-1.25zM55.27 62.76h1.25v1.25h-1.25zM113.16 63.67h1.25v1.25h-1.25zM94.11 61h1.25v1.25h-1.25zM55.56 57.79h1.25v1.25h-1.25zM110.6 64.27h1.25v1.25h-1.25zM60.3 63.29h1.25v1.25h-1.25zM104.53 59.85h1.25v1.25h-1.25zM41.87 62.3h1.25v1.25h-1.25zM92.92 61.76h1.25v1.25h-1.25zM49.69 57.76h1.25v1.25h-1.25zM102.2 58.39h1.25v1.25h-1.25zM90.14 57.69h1.25v1.25h-1.25zM112.98 58.53h1.25v1.25h-1.25zM87.47 65.13h1.25v1.25h-1.25zM49.61 64.25h1.25v1.25h-1.25zM51.08 64.88h1.25v1.25h-1.25zM78.98 61.47h1.25v1.25h-1.25zM99.29 48.58h1.25v1.25h-1.25zM41.72 62.13h1.25v1.25h-1.25zM41.97 45.79h1.25v1.25h-1.25zM73.96 64.12h1.25v1.25h-1.25zM96.64 57.12h1.25v1.25h-1.25zM78.16 60.16h1.25v1.25h-1.25zM76.29 59.41h1.25v1.25h-1.25zM120.06 55.86h1.25v1.25h-1.25zM119.37 64.75h1.25v1.25h-1.25zM122.42 45.79h1.25v1.25h-1.25zM90.5 64.21h1.25v1.25h-1.25zM126.58 53.16h1.25v1.25h-1.25zM92.06 60.98h1.25v1.25h-1.25zM100.59 64.9h1.25v1.25h-1.25zM63.08 65.02h1.25v1.25h-1.25zM89.23 57.44h1.25v1.25h-1.25zM108.32 57.82h1.25v1.25h-1.25zM43.95 65.09h1.25v1.25h-1.25zM89.16 57.8h1.25v1.25h-1.25zM49.24 63.92h1.25v1.25h-1.25zM48.58 59.66h1.25v1.25h-1.25zM99.61 64.96h1.25v1.25h-1.25zM125.2 57.51h1.25v1.25h-1.25zM52.77 64.58h1.25v1.25h-1.25zM108.38 58.93h1.25v1.25h-1.25zM78.51 59.92h1.25v1.25h-1.25zM82.14 65.15h1.25v1.25h-1.25zM112.81 62.69h1.25v1.25h-1.25zM71.57 61.59h1.25v1.25h-1.25zM114.4 65.07h1.25v1.25h-1.25zM112.45 65.15h1.25v1.25h-1.25zM107.7 65.03h1.25v1.25h-1.25zM54.91 56.89h1.25v1.25h-1.25zM90.32 64.26h1.25v1.25h-1.25zM102.89 64.12h1.25v1.25h-1.25zM77.5 65.08h1.25v1.25h-1.25zM97.02 62.83h1.25v1.25h-1.25zM95.01 64.09h1.25v1.25h-1.25zM50.82 47.17h1.25v1.25h-1.25zM106.95 64.51h1.25v1.25h-1.25zM65.53 63.69h1.25v1.25h-1.25zM85.38 65.11h1.25v1.25h-1.25zM89.36 57.9h1.25v1.25h-1.25zM93.35 62.06h1.25v1.25h-1.25zM111.38 49.65h1.25v1.25h-1.25zM118.45 64.04h1.25v1.25h-1.25zM53.72 59.19h1.25v1.25h-1.25zM63.62 64.45h1.25v1.25h-1.25zM70.83 15.88h1.25v1.25h-1.25zM50.13 58.08h1.25v1.25h-1.25zM80.68 58.22h1.25v1.25h-1.25zM118.79 57.23h1.25v1.25h-1.25zM78.64 53.52h1.25v1.25h-1.25zM69.61 50.5h1.25v1.25h-1.25zM112.02 37.41h1.25v1.25h-1.25zM124.06 62.22h1.25v1.25h-1.25zM124.28 60.86h1.25v1.25h-1.25zM65.35 64.41h1.25v1.25h-1.25zM62.29 44.46h1.25v1.25h-1.25zM95.1 62.81h1.25v1.25h-1.25zM42.14 47.23h1.25v1.25h-1.25zM71.92 61.98h1.25v1.25h-1.25zM67.26 64.83h1.25v1.25h-1.25zM65.26 64.06h1.25v1.25h-1.25zM82.48 61.19h1.25v1.25h-1.25zM116.39 37.56h1.25v1.25h-1.25zM102.73 62.56h1.25v1.25h-1.25zM82.72 62.28h1.25v1.25h-1.25zM40.94 64.7h1.25v1.25h-1.25zM48.49 54.15h1.25v1.25h-1.25zM108.55 57.79h1.25v1.25h-1.25zM70.79 63.44h1.25v1.25h-1.25zM92.89 55.65h1.25v1.25h-1.25zM68.47 65.1h1.25v1.25h-1.25zM75.96 64.76h1.25v1.25h-1.25zM42.35 64.67h1.25v1.25h-1.25zM47.76 59.64h1.25v1.25h-1.25zM62.56 62.17h1.25v1.25h-1.25zM63.97 57.41h1.25v1.25h-1.25zM44.64 64.84h1.25v1.25h-1.25zM52.26 57.85h1.25v1.25h-1.25zM112.67 64.88h1.25v1.25h-1.25zM51.89 64.33h1.25v1.25h-1.25zM83.3 64.4h1.25v1.25h-1.25zM49.4 58.88h1.25v1.25h-1.25zM103.3 63.7h1.25v1.25h-1.25zM52.13 35.96h1.25v1.25h-1.25zM46.91 64.67h1.25v1.25h-1.25zM53.46 63.39h1.25v1.25h-1.25zM60.72 45.7h1.25v1.25h-1.25zM113.22 64.8h1.25v1.25h-1.25zM38.53 56.98h1.25v1.25h-1.25zM103.71 57.88h1.25v1.25h-1.25zM126.27 63.88h1.25v1.25h-1.25zM121.74 64.74h1.25v1.25h-1.25zM102.7 58.52h1.25v1.25h-1.25zM88.48 58.36h1.25v1.25h-1.25zM52.13 46.76h1.25v1.25h-1.25zM108.94 55.25h1.25v1.25h-1.25zM57.79 57.67h1.25v1.25h-1.25zM64.13 58.1h1.25v1.25h-1.25zM112.29 59.35h1.25v1.25h-1.25zM76.85 61.12h1.25v1.25h-1.25zM72.48 62.09h1.25v1.25h-1.25zM118.17 57.83h1.25v1.25h-1.25zM55.23 63.58h1.25v1.25h-1.25zM41.59 64.43h1.25v1.25h-1.25zM88.43 58.52h1.25v1.25h-1.25zM92.39 48.23h1.25v1.25h-1.25zM95.78 56.36h1.25v1.25h-1.25zM92.89 64.37h1.25v1.25h-1.25zM77.74 59.57h1.25v1.25h-1.25zM94.27 59.33h1.25v1.25h-1.25zM121.54 57.33h1.25v1.25h-1.25zM124.86 59.17h1.25v1.25h-1.25zM123.73 62.54h1.25v1.25h-1.25zM118.44 65.04h1.25v1.25h-1.25zM49.09 60.8h1.25v1.25h-1.25zM101.6 64.4h1.25v1.25h-1.25zM110.77 60.86h1.25v1.25h-1.25zM71.51 56.94h1.25v1.25h-1.25zM73.26 59.16h1.25v1.25h-1.25zM56.84 57.25h1.25v1.25h-1.25zM66.6 56.62h1.25v1.25h-1.25zM38.63 60.02h1.25v1.25h-1.25zM125.62 56.95h1.25v1.25h-1.25zM92.43 50.93h1.25v1.25h-1.25zM65.07 64.33h1.25v1.25h-1.25zM82.89 56.94h1.25v1.25h-1.25zM83.31 51.66h1.25v1.25h-1.25zM84.95 59.31h1.25v1.25h-1.25zM65.24 64.14h1.25v1.25h-1.25zM46.38 57h1.25v1.25h-1.25zM41.67 64.5h1.25v1.25h-1.25zM50.78 64.2h1.25v1.25h-1.25zM112.06 58.43h1.25v1.25h-1.25zM62.22 57.71h1.25v1.25h-1.25zM107.5 57.18h1.25v1.25h-1.25zM73.75 61.29h1.25v1.25h-1.25zM102.65 63.65h1.25v1.25h-1.25zM82.04 58.13h1.25v1.25h-1.25zM75.34 57.02h1.25v1.25h-1.25zM124.79 65.13h1.25v1.25h-1.25zM44.2 63.01h1.25v1.25h-1.25zM41.22 35.62h1.25v1.25h-1.25zM97.7 57.76h1.25v1.25h-1.25zM56.01 60.44h1.25v1.25h-1.25zM40.23 62.16h1.25v1.25h-1.25zM90.81 62.33h1.25v1.25h-1.25zM90.82 56.82h1.25v1.25h-1.25zM62.51 64.64h1.25v1.25h-1.25zM39.96 58.01h1.25v1.25h-1.25zM55.93 46.11h1.25v1.25h-1.25zM60.6 61.8h1.25v1.25h-1.25zM39.61 43.09h1.25v1.25h-1.25zM87 64.93h1.25v1.25h-1.25zM120.98 62.26h1.25v1.25h-1.25zM87.38 58.46h1.25v1.25h-1.25zM60.1 52.41h1.25v1.25h-1.25zM43.78 63.83h1.25v1.25h-1.25zM44.84 62.7h1.25v1.25h-1.25zM111.39 55.84h1.25v1.25h-1.25zM95.99 36.68h1.25v1.25h-1.25zM49.6 54.18h1.25v1.25h-1.25zM118.32 63.09h1.25v1.25h-1.25zM67.45 63.43h1.25v1.25h-1.25zM118.07 38.28h1.25v1.25h-1.25zM54.86 60.49h1.25v1.25h-1.25zM117.45 58.26h1.25v1.25h-1.25zM124.69 62.69h1.25v1.25h-1.25zM100.96 63.77h1.25v1.25h-1.25zM50.58 30.36h1.25v1.25h-1.25zM41.08 58.06h1.25v1.25h-1.25zM85.29 43.92h1.25v1.25h-1.25zM40.22 61.86h1.25v1.25h-1.25zM64.58 55.41h1.25v1.25h-1.25zM85.89 62.49h1.25v1.25h-1.25zM60.57 57.6h1.25v1.25h-1.25zM59.02 64.53h1.25v1.25h-1.25zM72.94 64.37h1.25v1.25h-1.25zM113.53 65.14h1.25v1.25h-1.25zM82.62 57.96h1.25v1.25h-1.25zM73.07 48.1h1.25v1.25h-1.25zM58.09 57.36h1.25v1.25h-1.25zM117.94 52.92h1.25v1.25h-1.25zM57.13 57.48h1.25v1.25h-1.25zM89.55 63.29h1.25v1.25h-1.25zM90.75 62.08h1.25v1.25h-1.25zM44.14 57.24h1.25v1.25h-1.25zM54.8 56.66h1.25v1.25h-1.25zM100.27 64.6h1.25v1.25h-1.25zM47.85 63.38h1.25v1.25h-1.25zM60.4 57.57h1.25v1.25h-1.25zM112.37 63.28h1.25v1.25h-1.25zM87.91 60h1.25v1.25h-1.25zM109.72 39.79h1.25v1.25h-1.25zM81.93 64.1h1.25v1.25h-1.25zM125.27 63.06h1.25v1.25h-1.25zM42.29 64.11h1.25v1.25h-1.25zM55.94 58.31h1.25v1.25h-1.25zM125.37 61.22h1.25v1.25h-1.25zM110.12 29.42h1.25v1.25h-1.25zM88.45 55.41h1.25v1.25h-1.25zM77.43 57.76h1.25v1.25h-1.25zM117.07 64.65h1.25v1.25h-1.25zM71.9 58.17h1.25v1.25h-1.25zM40.96 63.38h1.25v1.25h-1.25zM105.15 57.56h1.25v1.25h-1.25zM100.36 61.01h1.25v1.25h-1.25zM123.62 58.21h1.25v1.25h-1.25zM61.71 40.32h1.25v1.25h-1.25zM98.52 60.34h1.25v1.25h-1.25zM112.45 46.49h1.25v1.25h-1.25zM67.47 35.63h1.25v1.25h-1.25zM56.56 41.94h1.25v1.25h-1.25zM48.16 62.21h1.25v1.25h-1.25zM82.34 39.15h1.25v1.25h-1.25zM107.99 58.36h1.25v1.25h-1.25zM51.43 42.7h1.25v1.25h-1.25zM47.06 21.7h1.25v1.25h-1.25zM77.9 55.09h1.25v1.25h-1.25zM107.49 58.79h1.25v1.25h-1.25zM62.09 58.37h1.25v1.25h-1.25zM88.25 58.15h1.25v1.25h-1.25zM80.5 58.08h1.25v1.25h-1.25zM68.52 62.87h1.25v1.25h-1.25zM45.01 57.21h1.25v1.25h-1.25zM91.05 64.73h1.25v1.25h-1.25zM57.6 58.46h1.25v1.25h-1.25zM46.3 57.91h1.25v1.25h-1.25zM111.47 58.61h1.25v1.25h-1.25zM89.08 64.05h1.25v1.25h-1.25zM57.33 63.09h1.25v1.25h-1.25zM83.21 57.25h1.25v1.25h-1.25zM86.25 60.21h1.25v1.25h-1.25zM47.59 63.05h1.25v1.25h-1.25zM113.44 56.68h1.25v1.25h-1.25zM108.24 55.34h1.25v1.25h-1.25zM105.05 61.52h1.25v1.25h-1.25zM62.91 63.66h1.25v1.25h-1.25zM70.55 61.63h1.25v1.25h-1.25zM40.36 60.75h1.25v1.25h-1.25zM79.4 58.23h1.25v1.25h-1.25zM42.99 49.53h1.25v1.25h-1.25zM93.97 62.71h1.25v1.25h-1.25zM119.7 52.66h1.25v1.25h-1.25zM85.02 64.7h1.25v1.25h-1.25zM54.68 62.71h1.25v1.25h-1.25zM100.03 62.09h1.25v1.25h-1.25zM104.59 64.19h1.25v1.25h-1.25zM117.47 62.83h1.25v1.25h-1.25zM121.06 64.86h1.25v1.25h-1.25zM68.56 55.55h1.25v1.25h-1.25zM66.69 57.75h1.25v1.25h-1.25zM70.59 63.64h1.25v1.25h-1.25zM108.84 57.98h1.25v1.25h-1.25zM47.09 64.89h1.25v1.25h-1.25zM108.61 64.52h1.25v1.25h-1.25zM80.61 56.34h1.25v1.25h-1.25zM87.69 62.86h1.25v1.25h-1.25zM50.88 50.66h1.25v1.25h-1.25zM127.07 57.95h1.25v1.25h-1.25zM120.14 54.23h1.25v1.25h-1.25zM40.92 60.92h1.25v1.25h-1.25zM103.67 64.15h1.25v1.25h-1.25zM44.92 62.97h1.25v1.25h-1.25zM64.25 57.16h1.25v1.25h-1.25zM45.43 64.42h1.25v1.25h-1.25zM100.98 58.18h1.25v1.25h-1.25zM74.51 61.92h1.25v1.25h-1.25zM54.89 46.72h1.25v1.25h-1.25zM69.64 58.89h1.25v1.25h-1.25zM58.26 64.47h1.25v1.25h-1.25zM84.85 63.59h1.25v1.25h-1.25zM58.97 43.2h1.25v1.25h-1.25zM90.59 62.86h1.25v1.25h-1.25zM106.75 65.03h1.25v1.25h-1.25zM126.53 65.1h1.25v1.25h-1.25zM115.99 55.33h1.25v1.25h-1.25zM46.02 62.34h1.25v1.25h-1.25zM108.43 63.62h1.25v1.25h-1.25zM103.33 58.55h1.25v1.25h-1.25zM109.64 64.84h1.25v1.25h-1.25zM71.13 60.1h1.25v1.25h-1.25zM119.62 32.65h1.25v1.25h-1.25zM107.5 64.76h1.25v1.25h-1.25zM89.13 53.78h1.25v1.25h-1.25zM125.12 62.29h1.25v1.25h-1.25zM96.74 45.81h1.25v1.25h-1.25zM46.21 61.45h1.25v1.25h-1.25zM111.26 34.64h1.25v1.25h-1.25zM65.85 53.9h1.25v1.25h-1.25zM123.98 39.44h1.25v1.25h-1.25zM55.28 65.14h1.25v1.25h-1.25zM61.54 39.03h1.25v1.25h-1.25zM38.9 57.54h1.25v1.25h-1.25zM116.02 64.33h1.25v1.25h-1.25zM122.82 60.62h1.25v1.25h-1.25zM119.36 57.46h1.25v1.25h-1.25zM41.39 65.15h1.25v1.25h-1.25zM115.3 62.91h1.25v1.25h-1.25zM94.8 60.34h1.25v1.25h-1.25zM88.34 63.03h1.25v1.25h-1.25zM87.63 60.12h1.25v1.25h-1.25zM64.88 63.47h1.25v1.25h-1.25zM51.6 53.72h1.25v1.25h-1.25zM51.28 63.75h1.25v1.25h-1.25zM53.34 63.32h1.25v1.25h-1.25zM49.13 62.06h1.25v1.25h-1.25zM66.78 57.53h1.25v1.25h-1.25zM104.4 55.44h1.25v1.25h-1.25zM115.87 61.68h1.25v1.25h-1.25zM73.5 63.03h1.25v1.25h-1.25zM73.63 63.59h1.25v1.25h-1.25zM59.6 64.57h1.25v1.25h-1.25zM125.67 57.57h1.25v1.25h-1.25zM70.93 61.88h1.25v1.25h-1.25zM84.69 64.1h1.25v1.25h-1.25zM102.66 64.24h1.25v1.25h-1.25zM87.21 63.42h1.25v1.25h-1.25zM97.31 58.69h1.25v1.25h-1.25zM112.25 59.85h1.25v1.25h-1.25zM61.45 63.92h1.25v1.25h-1.25zM100.26 56.76h1.25v1.25h-1.25zM79.73 62.05h1.25v1.25h-1.25zM62.99 57.99h1.25v1.25h-1.25zM95.95 64h1.25v1.25h-1.25zM85.56 46.48h1.25v1.25h-1.25zM105.4 59.68h1.25v1.25h-1.25zM60.64 60.98h1.25v1.25h-1.25zM62.18 58.6h1.25v1.25h-1.25zM43.5 58.07h1.25v1.25h-1.25zM64.19 61.71h1.25v1.25h-1.25zM89.38 59.57h1.25v1.25h-1.25zM53.34 62.53h1.25v1.25h-1.25zM75.8 45.66h1.25v1.25h-1.25zM111.25 60.89h1.25v1.25h-1.25zM69.44 60.43h1.25v1.25h-1.25zM52.49 59.49h1.25v1.25h-1.25zM75.12 51.44h1.25v1.25h-1.25zM39.71 53.46h1.25v1.25h-1.25zM114.14 63.95h1.25v1.25h-1.25zM66.4 29.26h1.25v1.25h-1.25zM77.12 64.48h1.25v1.25h-1.25zM89.14 60h1.25v1.25h-1.25zM61.13 59.83h1.25v1.25h-1.25zM59.55 60.57h1.25v1.25h-1.25zM93.59 62.9h1.25v1.25h-1.25zM122.74 63.41h1.25v1.25h-1.25zM79.17 50.76h1.25v1.25h-1.25zM92.5 64.41h1.25v1.25h-1.25zM87.67 64h1.25v1.25h-1.25zM51.28 60.5h1.25v1.25h-1.25zM102.62 65.15h1.25v1.25h-1.25zM83.31 57.41h1.25v1.25h-1.25zM100.77 64.51h1.25v1.25h-1.25zM120.86 58.66h1.25v1.25h-1.25zM122.64 63.03h1.25v1.25h-1.25zM41.44 47.36h1.25v1.25h-1.25zM107.11 63.93h1.25v1.25h-1.25zM106.61 59.05h1.25v1.25h-1.25zM95.27 62.09h1.25v1.25h-1.25zM92.12 58.5h1.25v1.25h-1.25zM110.4 39.83h1.25v1.25h-1.25zM50.96 63.28h1.25v1.25h-1.25zM61.81 62.67h1.25v1.25h-1.25zM77.51 57.31h1.25v1.25h-1.25zM125.48 56.91h1.25v1.25h-1.25zM120.81 65.05h1.25v1.25h-1.25zM113.74 64.12h1.25v1.25h-1.25zM72.14 55.07h1.25v1.25h-1.25zM97.45 41.21h1.25v1.25h-1.25zM63.47 52.89h1.25v1.25h-1.25zM87.81 62.04h1.25v1.25h-1.25zM38.67 62.29h1.25v1.25h-1.25zM108.42 48.55h1.25v1.25h-1.25zM118.76 63.65h1.25v1.25h-1.25zM96.76 57.4h1.25v1.25h-1.25zM108.78 63.05h1.25v1.25h-1.25zM56.64 59.95h1.25v1.25h-1.25zM53.31 56.59h1.25v1.25h-1.25zM86.31 50.92h1.25v1.25h-1.25zM44.82 62.83h1.25v1.25h-1.25zM59.32 62.29h1.25v1.25h-1.25zM47.71 39.96h1.25v1.25h-1.25zM61.8 64.37h1.25v1.25h-1.25zM121.47 61.96h1.25v1.25h-1.25zM91.73 65.13h1.25v1.25h-1.25zM60.14 65.06h1.25v1.25h-1.25zM94.88 61.4h1.25v1.25h-1.25zM64.04 62.99h1.25v1.25h-1.25zM53.33 47.96h1.25v1.25h-1.25zM104.41 61.92h1.25v1.25h-1.25zM42.68 59.8h1.25v1.25h-1.25zM48.37 54.55h1.25v1.25h-1.25zM84 31.31h1.25v1.25h-1.25zM43.72 59.05h1.25v1.25h-1.25zM66.12 57.18h1.25v1.25h-1.25zM39.75 55.16h1.25v1.25h-1.25zM80.62 63.18h1.25v1.25h-1.25zM49.27 59.59h1.25v1.25h-1.25zM59.08 59.38h1.25v1.25h-1.25zM43.21 62.61h1.25v1.25h-1.25zM70.28 64.55h1.25v1.25h-1.25zM50.03 62.61h1.25v1.25h-1.25zM81.17 57.39h1.25v1.25h-1.25zM82.4 57.66h1.25v1.25h-1.25zM54.14 64.94h1.25v1.25h-1.25zM84.64 65.15h1.25v1.25h-1.25zM121.17 60.52h1.25v1.25h-1.25zM113.06 59.72h1.25v1.25h-1.25zM55.28 62.1h1.25v1.25h-1.25zM94.59 58.9h1.25v1.25h-1.25zM111.9 60.61h1.25v1.25h-1.25zM44.37 65.02h1.25v1.25h-1.25zM49.3 58.89h1.25v1.25h-1.25zM72.58 50.05h1.25v1.25h-1.25zM72.63 59.49h1.25v1.25h-1.25zM81.75 45.48h1.25v1.25h-1.25zM118.51 61.04h1.25v1.25h-1.25zM84.42 42.96h1.25v1.25h-1.25zM84.83 47.34h1.25v1.25h-1.25z" fill="#d42828"/>
<text class="fr" x="180" y="8.3" font-size="7.7" font-weight="bold" fill="#333" textLength="51.4" lengthAdjust="spacingAndGlyphs">Log2 fold change</text>
<defs><linearGradient id="cb" x1="0" x2="1" y1="0" y2="0"><stop offset="0" stop-color="#a2f060"/><stop offset="0.22" stop-color="#8ee24a"/><stop offset="0.4" stop-color="#8aa430"/><stop offset="0.5" stop-color="#8e7a28"/><stop offset="0.62" stop-color="#b84018"/><stop offset="0.78" stop-color="#d21010"/><stop offset="1" stop-color="#d80a0a"/></linearGradient></defs>
<rect x="158.3" y="11.1" width="95.7" height="3.2" fill="url(#cb)"/>
<line x1="162" y1="14.4" x2="162" y2="15.8" stroke="#999" stroke-width="0.5"/>
<text class="fr" x="162" y="21.6" font-size="5.4" text-anchor="middle" fill="#333">-6</text>
<line x1="175.83" y1="14.4" x2="175.83" y2="15.8" stroke="#999" stroke-width="0.5"/>
<text class="fr" x="175.83" y="21.6" font-size="5.4" text-anchor="middle" fill="#333">-4</text>
<line x1="189.66" y1="14.4" x2="189.66" y2="15.8" stroke="#999" stroke-width="0.5"/>
<text class="fr" x="189.66" y="21.6" font-size="5.4" text-anchor="middle" fill="#333">-2</text>
<line x1="203.49" y1="14.4" x2="203.49" y2="15.8" stroke="#999" stroke-width="0.5"/>
<text class="fr" x="203.49" y="21.6" font-size="5.4" text-anchor="middle" fill="#333">0</text>
<line x1="217.32" y1="14.4" x2="217.32" y2="15.8" stroke="#999" stroke-width="0.5"/>
<text class="fr" x="217.32" y="21.6" font-size="5.4" text-anchor="middle" fill="#333">2</text>
<line x1="231.15" y1="14.4" x2="231.15" y2="15.8" stroke="#999" stroke-width="0.5"/>
<text class="fr" x="231.15" y="21.6" font-size="5.4" text-anchor="middle" fill="#333">4</text>
<line x1="244.98" y1="14.4" x2="244.98" y2="15.8" stroke="#999" stroke-width="0.5"/>
<text class="fr" x="244.98" y="21.6" font-size="5.4" text-anchor="middle" fill="#333">6</text>
<g shape-rendering="crispEdges">
<rect x="158.3" y="24" width="10.87" height="1.3" fill="#8b9526"/>
<rect x="168.87" y="24" width="10.87" height="1.3" fill="#8b9526"/>
<rect x="179.43" y="24" width="10.87" height="1.3" fill="#8c9526"/>
<rect x="190" y="24" width="10.63" height="1.3" fill="#82c437"/>
<rect x="200.33" y="24" width="10.63" height="1.3" fill="#7db530"/>
<rect x="210.67" y="24" width="10.63" height="1.3" fill="#7cb32f"/>
<rect x="221" y="24" width="11.13" height="1.3" fill="#8a9826"/>
<rect x="231.83" y="24" width="11.13" height="1.3" fill="#8b9626"/>
<rect x="242.67" y="24" width="11.13" height="1.3" fill="#8b9826"/>
<rect x="158.3" y="25" width="10.87" height="1.3" fill="#8b9626"/>
<rect x="168.87" y="25" width="10.87" height="1.3" fill="#8b9526"/>
<rect x="179.43" y="25" width="10.87" height="1.3" fill="#8b9726"/>
<rect x="190" y="25" width="10.63" height="1.3" fill="#83c738"/>
<rect x="200.33" y="25" width="10.63" height="1.3" fill="#7db530"/>
<rect x="210.67" y="25" width="10.63" height="1.3" fill="#7db530"/>
<rect x="221" y="25" width="11.13" height="1.3" fill="#8b9726"/>
<rect x="231.83" y="25" width="11.13" height="1.3" fill="#8b9726"/>
<rect x="242.67" y="25" width="11.13" height="1.3" fill="#8a9826"/>
<rect x="158.3" y="26" width="10.87" height="1.3" fill="#8a9826"/>
<rect x="168.87" y="26" width="10.87" height="1.3" fill="#8b9726"/>
<rect x="179.43" y="26" width="10.87" height="1.3" fill="#8a9926"/>
<rect x="190" y="26" width="10.63" height="1.3" fill="#82c436"/>
<rect x="200.33" y="26" width="10.63" height="1.3" fill="#7db430"/>
<rect x="210.67" y="26" width="10.63" height="1.3" fill="#7cb22f"/>
<rect x="221" y="26" width="11.13" height="1.3" fill="#8b9726"/>
<rect x="231.83" y="26" width="11.13" height="1.3" fill="#8b9726"/>
<rect x="242.67" y="26" width="11.13" height="1.3" fill="#8a9926"/>
<rect x="158.3" y="27" width="10.87" height="1.3" fill="#8a9926"/>
<rect x="168.87" y="27" width="10.87" height="1.3" fill="#8a9926"/>
<rect x="179.43" y="27" width="10.87" height="1.3" fill="#8a9926"/>
<rect x="190" y="27" width="10.63" height="1.3" fill="#82c537"/>
<rect x="200.33" y="27" width="10.63" height="1.3" fill="#7db630"/>
<rect x="210.67" y="27" width="10.63" height="1.3" fill="#7cb32f"/>
<rect x="221" y="27" width="11.13" height="1.3" fill="#8a9926"/>
<rect x="231.83" y="27" width="11.13" height="1.3" fill="#8a9926"/>
<rect x="242.67" y="27" width="11.13" height="1.3" fill="#8a9926"/>
<rect x="158.3" y="28" width="10.87" height="1.3" fill="#8a9926"/>
<rect x="168.87" y="28" width="10.87" height="1.3" fill="#8a9926"/>
<rect x="179.43" y="28" width="10.87" height="1.3" fill="#8a9926"/>
<rect x="190" y="28" width="10.63" height="1.3" fill="#82c537"/>
<rect x="200.33" y="28" width="10.63" height="1.3" fill="#7eb731"/>
<rect x="210.67" y="28" width="10.63" height="1.3" fill="#7db630"/>
<rect x="221" y="28" width="11.13" height="1.3" fill="#8a9826"/>
<rect x="231.83" y="28" width="11.13" height="1.3" fill="#8a9926"/>
<rect x="242.67" y="28" width="11.13" height="1.3" fill="#8a9926"/>
<rect x="158.3" y="29" width="10.87" height="1.3" fill="#8a9826"/>
<rect x="168.87" y="29" width="10.87" height="1.3" fill="#8b9726"/>
<rect x="179.43" y="29" width="10.87" height="1.3" fill="#8a9926"/>
<rect x="190" y="29" width="10.63" height="1.3" fill="#83c738"/>
<rect x="200.33" y="29" width="10.63" height="1.3" fill="#7eb831"/>
<rect x="210.67" y="29" width="10.63" height="1.3" fill="#7eb832"/>
<rect x="221" y="29" width="11.13" height="1.3" fill="#8b9626"/>
<rect x="231.83" y="29" width="11.13" height="1.3" fill="#8a9826"/>
<rect x="242.67" y="29" width="11.13" height="1.3" fill="#8b9726"/>
<rect x="158.3" y="30" width="10.87" height="1.3" fill="#8b9526"/>
<rect x="168.87" y="30" width="10.87" height="1.3" fill="#8b9526"/>
<rect x="179.43" y="30" width="10.87" height="1.3" fill="#8b9526"/>
<rect x="190" y="30" width="10.63" height="1.3" fill="#81c135"/>
<rect x="200.33" y="30" width="10.63" height="1.3" fill="#7db430"/>
<rect x="210.67" y="30" width="10.63" height="1.3" fill="#7db530"/>
<rect x="221" y="30" width="11.13" height="1.3" fill="#8b9526"/>
<rect x="231.83" y="30" width="11.13" height="1.3" fill="#8b9626"/>
<rect x="242.67" y="30" width="11.13" height="1.3" fill="#8b9626"/>
<rect x="158.3" y="31" width="10.87" height="1.3" fill="#8c9426"/>
<rect x="168.87" y="31" width="10.87" height="1.3" fill="#8c9426"/>
<rect x="179.43" y="31" width="10.87" height="1.3" fill="#8c9426"/>
<rect x="190" y="31" width="10.63" height="1.3" fill="#80be34"/>
<rect x="200.33" y="31" width="10.63" height="1.3" fill="#7cb22f"/>
<rect x="210.67" y="31" width="10.63" height="1.3" fill="#7cb32f"/>
<rect x="221" y="31" width="11.13" height="1.3" fill="#8b9526"/>
<rect x="231.83" y="31" width="11.13" height="1.3" fill="#8b9626"/>
<rect x="242.67" y="31" width="11.13" height="1.3" fill="#8c9526"/>
<rect x="158.3" y="32" width="10.87" height="1.3" fill="#8b9526"/>
<rect x="168.87" y="32" width="10.87" height="1.3" fill="#8c9326"/>
<rect x="179.43" y="32" width="10.87" height="1.3" fill="#8c9426"/>
<rect x="190" y="32" width="10.63" height="1.3" fill="#7fbb33"/>
<rect x="200.33" y="32" width="10.63" height="1.3" fill="#7bae2d"/>
<rect x="210.67" y="32" width="10.63" height="1.3" fill="#7cb32f"/>
<rect x="221" y="32" width="11.13" height="1.3" fill="#8b9526"/>
<rect x="231.83" y="32" width="11.13" height="1.3" fill="#8b9726"/>
<rect x="242.67" y="32" width="11.13" height="1.3" fill="#8c9426"/>
<rect x="158.3" y="33" width="10.87" height="1.3" fill="#8b9626"/>
<rect x="168.87" y="33" width="10.87" height="1.3" fill="#8c9426"/>
<rect x="179.43" y="33" width="10.87" height="1.3" fill="#8c9426"/>
<rect x="190" y="33" width="10.63" height="1.3" fill="#80be34"/>
<rect x="200.33" y="33" width="10.63" height="1.3" fill="#7cb22f"/>
<rect x="210.67" y="33" width="10.63" height="1.3" fill="#7cb32f"/>
<rect x="221" y="33" width="11.13" height="1.3" fill="#8c9426"/>
<rect x="231.83" y="33" width="11.13" height="1.3" fill="#8b9526"/>
<rect x="242.67" y="33" width="11.13" height="1.3" fill="#8c9426"/>
<rect x="158.3" y="34" width="10.87" height="1.3" fill="#8a9826"/>
<rect x="168.87" y="34" width="10.87" height="1.3" fill="#8a9826"/>
<rect x="179.43" y="34" width="10.87" height="1.3" fill="#8b9626"/>
<rect x="190" y="34" width="10.63" height="1.3" fill="#7cb12e"/>
<rect x="200.33" y="34" width="10.63" height="1.3" fill="#7db430"/>
<rect x="210.67" y="34" width="10.63" height="1.3" fill="#7cb32f"/>
<rect x="221" y="34" width="11.13" height="1.3" fill="#8b9726"/>
<rect x="231.83" y="34" width="11.13" height="1.3" fill="#8b9626"/>
<rect x="242.67" y="34" width="11.13" height="1.3" fill="#8b9626"/>
<rect x="158.3" y="35" width="10.87" height="1.3" fill="#8a9926"/>
<rect x="168.87" y="35" width="10.87" height="1.3" fill="#8a9826"/>
<rect x="179.43" y="35" width="10.87" height="1.3" fill="#8a9826"/>
<rect x="190" y="35" width="10.63" height="1.3" fill="#7bb02e"/>
<rect x="200.33" y="35" width="10.63" height="1.3" fill="#7cb32f"/>
<rect x="210.67" y="35" width="10.63" height="1.3" fill="#7cb32f"/>
<rect x="221" y="35" width="11.13" height="1.3" fill="#8a9926"/>
<rect x="231.83" y="35" width="11.13" height="1.3" fill="#8a9826"/>
<rect x="242.67" y="35" width="11.13" height="1.3" fill="#8a9826"/>
<rect x="158.3" y="36" width="10.87" height="1.3" fill="#8a9926"/>
<rect x="168.87" y="36" width="10.87" height="1.3" fill="#8a9826"/>
<rect x="179.43" y="36" width="10.87" height="1.3" fill="#8a9926"/>
<rect x="190" y="36" width="10.63" height="1.3" fill="#7bae2d"/>
<rect x="200.33" y="36" width="10.63" height="1.3" fill="#7bae2d"/>
<rect x="210.67" y="36" width="10.63" height="1.3" fill="#7bae2d"/>
<rect x="221" y="36" width="11.13" height="1.3" fill="#8a9926"/>
<rect x="231.83" y="36" width="11.13" height="1.3" fill="#8b9726"/>
<rect x="242.67" y="36" width="11.13" height="1.3" fill="#8a9826"/>
<rect x="158.3" y="37" width="10.87" height="1.3" fill="#8b9626"/>
<rect x="168.87" y="37" width="10.87" height="1.3" fill="#8b9626"/>
<rect x="179.43" y="37" width="10.87" height="1.3" fill="#8b9726"/>
<rect x="190" y="37" width="10.63" height="1.3" fill="#7baf2d"/>
<rect x="200.33" y="37" width="10.63" height="1.3" fill="#7cb22f"/>
<rect x="210.67" y="37" width="10.63" height="1.3" fill="#7baf2d"/>
<rect x="221" y="37" width="11.13" height="1.3" fill="#8b9726"/>
<rect x="231.83" y="37" width="11.13" height="1.3" fill="#8b9626"/>
<rect x="242.67" y="37" width="11.13" height="1.3" fill="#8b9626"/>
<rect x="158.3" y="38" width="10.87" height="1.3" fill="#8b9726"/>
<rect x="168.87" y="38" width="10.87" height="1.3" fill="#8b9726"/>
<rect x="179.43" y="38" width="10.87" height="1.3" fill="#8a9826"/>
<rect x="190" y="38" width="10.63" height="1.3" fill="#7bae2d"/>
<rect x="200.33" y="38" width="10.63" height="1.3" fill="#7bae2d"/>
<rect x="210.67" y="38" width="10.63" height="1.3" fill="#7aad2d"/>
<rect x="221" y="38" width="11.13" height="1.3" fill="#8b9726"/>
<rect x="231.83" y="38" width="11.13" height="1.3" fill="#8b9626"/>
<rect x="242.67" y="38" width="11.13" height="1.3" fill="#8b9626"/>
<rect x="158.3" y="39" width="10.87" height="1.3" fill="#8b9726"/>
<rect x="168.87" y="39" width="10.87" height="1.3" fill="#8b9726"/>
<rect x="179.43" y="39" width="10.87" height="1.3" fill="#8b9726"/>
<rect x="190" y="39" width="10.63" height="1.3" fill="#7aac2c"/>
<rect x="200.33" y="39" width="10.63" height="1.3" fill="#7aac2c"/>
<rect x="210.67" y="39" width="10.63" height="1.3" fill="#7aac2c"/>
<rect x="221" y="39" width="11.13" height="1.3" fill="#8a9826"/>
<rect x="231.83" y="39" width="11.13" height="1.3" fill="#8b9626"/>
<rect x="242.67" y="39" width="11.13" height="1.3" fill="#8b9526"/>
<rect x="158.3" y="40" width="10.87" height="1.3" fill="#8b9726"/>
<rect x="168.87" y="40" width="10.87" height="1.3" fill="#8a9926"/>
<rect x="179.43" y="40" width="10.87" height="1.3" fill="#8b9726"/>
<rect x="190" y="40" width="10.63" height="1.3" fill="#7aac2c"/>
<rect x="200.33" y="40" width="10.63" height="1.3" fill="#7aac2c"/>
<rect x="210.67" y="40" width="10.63" height="1.3" fill="#7aac2c"/>
<rect x="221" y="40" width="11.13" height="1.3" fill="#8a9926"/>
<rect x="231.83" y="40" width="11.13" height="1.3" fill="#8a9926"/>
<rect x="242.67" y="40" width="11.13" height="1.3" fill="#8a9826"/>
<rect x="158.3" y="41" width="10.87" height="1.3" fill="#8b9626"/>
<rect x="168.87" y="41" width="10.87" height="1.3" fill="#8b9726"/>
<rect x="179.43" y="41" width="10.87" height="1.3" fill="#8b9526"/>
<rect x="190" y="41" width="10.63" height="1.3" fill="#7bae2d"/>
<rect x="200.33" y="41" width="10.63" height="1.3" fill="#7baf2d"/>
<rect x="210.67" y="41" width="10.63" height="1.3" fill="#7aac2c"/>
<rect x="221" y="41" width="11.13" height="1.3" fill="#8a9826"/>
<rect x="231.83" y="41" width="11.13" height="1.3" fill="#8b9626"/>
<rect x="242.67" y="41" width="11.13" height="1.3" fill="#8b9626"/>
<rect x="158.3" y="42" width="10.87" height="1.3" fill="#8b9626"/>
<rect x="168.87" y="42" width="10.87" height="1.3" fill="#8b9626"/>
<rect x="179.43" y="42" width="10.87" height="1.3" fill="#8c9326"/>
<rect x="190" y="42" width="10.63" height="1.3" fill="#7cb32f"/>
<rect x="200.33" y="42" width="10.63" height="1.3" fill="#7db42f"/>
<rect x="210.67" y="42" width="10.63" height="1.3" fill="#7baf2d"/>
<rect x="221" y="42" width="11.13" height="1.3" fill="#8a9826"/>
<rect x="231.83" y="42" width="11.13" height="1.3" fill="#8b9726"/>
<rect x="242.67" y="42" width="11.13" height="1.3" fill="#8b9626"/>
<rect x="158.3" y="43" width="10.87" height="1.3" fill="#8b9626"/>
<rect x="168.87" y="43" width="10.87" height="1.3" fill="#8b9526"/>
<rect x="179.43" y="43" width="10.87" height="1.3" fill="#8c9426"/>
<rect x="190" y="43" width="10.63" height="1.3" fill="#7bb02e"/>
<rect x="200.33" y="43" width="10.63" height="1.3" fill="#7cb22f"/>
<rect x="210.67" y="43" width="10.63" height="1.3" fill="#7cb12e"/>
<rect x="221" y="43" width="11.13" height="1.3" fill="#8b9626"/>
<rect x="231.83" y="43" width="11.13" height="1.3" fill="#8b9526"/>
<rect x="242.67" y="43" width="11.13" height="1.3" fill="#8b9626"/>
<rect x="158.3" y="44" width="10.87" height="1.3" fill="#8a9926"/>
<rect x="168.87" y="44" width="10.87" height="1.3" fill="#8b9726"/>
<rect x="179.43" y="44" width="10.87" height="1.3" fill="#8b9726"/>
<rect x="190" y="44" width="10.63" height="1.3" fill="#7bb02e"/>
<rect x="200.33" y="44" width="10.63" height="1.3" fill="#7cb22f"/>
<rect x="210.67" y="44" width="10.63" height="1.3" fill="#7cb12e"/>
<rect x="221" y="44" width="11.13" height="1.3" fill="#8b9726"/>
<rect x="231.83" y="44" width="11.13" height="1.3" fill="#8b9626"/>
<rect x="242.67" y="44" width="11.13" height="1.3" fill="#8a9826"/>
<rect x="158.3" y="45" width="10.87" height="1.3" fill="#8a9926"/>
<rect x="168.87" y="45" width="10.87" height="1.3" fill="#8b9626"/>
<rect x="179.43" y="45" width="10.87" height="1.3" fill="#8a9826"/>
<rect x="190" y="45" width="10.63" height="1.3" fill="#7bae2d"/>
<rect x="200.33" y="45" width="10.63" height="1.3" fill="#7baf2d"/>
<rect x="210.67" y="45" width="10.63" height="1.3" fill="#7bae2d"/>
<rect x="221" y="45" width="11.13" height="1.3" fill="#8a9826"/>
<rect x="231.83" y="45" width="11.13" height="1.3" fill="#8b9726"/>
<rect x="242.67" y="45" width="11.13" height="1.3" fill="#8a9926"/>
<rect x="158.3" y="46" width="10.87" height="1.3" fill="#8a9826"/>
<rect x="168.87" y="46" width="10.87" height="1.3" fill="#8b9626"/>
<rect x="179.43" y="46" width="10.87" height="1.3" fill="#8b9626"/>
<rect x="190" y="46" width="10.63" height="1.3" fill="#7bae2d"/>
<rect x="200.33" y="46" width="10.63" height="1.3" fill="#7aad2d"/>
<rect x="210.67" y="46" width="10.63" height="1.3" fill="#7cb12e"/>
<rect x="221" y="46" width="11.13" height="1.3" fill="#8a9826"/>
<rect x="231.83" y="46" width="11.13" height="1.3" fill="#8b9726"/>
<rect x="242.67" y="46" width="11.13" height="1.3" fill="#8a9826"/>
<rect x="158.3" y="47" width="10.87" height="1.3" fill="#8b9726"/>
<rect x="168.87" y="47" width="10.87" height="1.3" fill="#8c9426"/>
<rect x="179.43" y="47" width="10.87" height="1.3" fill="#8c9426"/>
<rect x="190" y="47" width="10.63" height="1.3" fill="#7aac2c"/>
<rect x="200.33" y="47" width="10.63" height="1.3" fill="#7aac2c"/>
<rect x="210.67" y="47" width="10.63" height="1.3" fill="#7bae2d"/>
<rect x="221" y="47" width="11.13" height="1.3" fill="#8a9926"/>
<rect x="231.83" y="47" width="11.13" height="1.3" fill="#8a9826"/>
<rect x="242.67" y="47" width="11.13" height="1.3" fill="#8a9926"/>
<rect x="158.3" y="48" width="10.87" height="1.3" fill="#8a9826"/>
<rect x="168.87" y="48" width="10.87" height="1.3" fill="#8b9626"/>
<rect x="179.43" y="48" width="10.87" height="1.3" fill="#8b9526"/>
<rect x="190" y="48" width="10.63" height="1.3" fill="#7aad2c"/>
<rect x="200.33" y="48" width="10.63" height="1.3" fill="#7aac2c"/>
<rect x="210.67" y="48" width="10.63" height="1.3" fill="#7aad2c"/>
<rect x="221" y="48" width="11.13" height="1.3" fill="#8a9926"/>
<rect x="231.83" y="48" width="11.13" height="1.3" fill="#8b9726"/>
<rect x="242.67" y="48" width="11.13" height="1.3" fill="#8b9726"/>
<rect x="158.3" y="49" width="10.87" height="1.3" fill="#8a9826"/>
<rect x="168.87" y="49" width="10.87" height="1.3" fill="#8b9726"/>
<rect x="179.43" y="49" width="10.87" height="1.3" fill="#8b9526"/>
<rect x="190" y="49" width="10.63" height="1.3" fill="#7aac2c"/>
<rect x="200.33" y="49" width="10.63" height="1.3" fill="#7aac2c"/>
<rect x="210.67" y="49" width="10.63" height="1.3" fill="#7aac2c"/>
<rect x="221" y="49" width="11.13" height="1.3" fill="#8b9726"/>
<rect x="231.83" y="49" width="11.13" height="1.3" fill="#8b9626"/>
<rect x="242.67" y="49" width="11.13" height="1.3" fill="#8b9626"/>
<rect x="158.3" y="50" width="10.87" height="1.3" fill="#8a9926"/>
<rect x="168.87" y="50" width="10.87" height="1.3" fill="#8a9926"/>
<rect x="179.43" y="50" width="10.87" height="1.3" fill="#8b9726"/>
<rect x="190" y="50" width="10.63" height="1.3" fill="#7bb02e"/>
<rect x="200.33" y="50" width="10.63" height="1.3" fill="#7aac2c"/>
<rect x="210.67" y="50" width="10.63" height="1.3" fill="#7bb02e"/>
<rect x="221" y="50" width="11.13" height="1.3" fill="#8a9926"/>
<rect x="231.83" y="50" width="11.13" height="1.3" fill="#8b9726"/>
<rect x="242.67" y="50" width="11.13" height="1.3" fill="#8b9626"/>
<rect x="158.3" y="51" width="10.87" height="1.3" fill="#8b9726"/>
<rect x="168.87" y="51" width="10.87" height="1.3" fill="#8a9926"/>
<rect x="179.43" y="51" width="10.87" height="1.3" fill="#8b9726"/>
<rect x="190" y="51" width="10.63" height="1.3" fill="#7baf2d"/>
<rect x="200.33" y="51" width="10.63" height="1.3" fill="#7bae2d"/>
<rect x="210.67" y="51" width="10.63" height="1.3" fill="#7baf2d"/>
<rect x="221" y="51" width="11.13" height="1.3" fill="#8a9926"/>
<rect x="231.83" y="51" width="11.13" height="1.3" fill="#8b9726"/>
<rect x="242.67" y="51" width="11.13" height="1.3" fill="#8b9726"/>
<rect x="158.3" y="52" width="10.87" height="1.3" fill="#8e8e27"/>
<rect x="168.87" y="52" width="10.87" height="1.3" fill="#8c9226"/>
<rect x="179.43" y="52" width="10.87" height="1.3" fill="#8d8f27"/>
<rect x="190" y="52" width="10.63" height="1.3" fill="#7aac2c"/>
<rect x="200.33" y="52" width="10.63" height="1.3" fill="#7aac2c"/>
<rect x="210.67" y="52" width="10.63" height="1.3" fill="#7aac2c"/>
<rect x="221" y="52" width="11.13" height="1.3" fill="#8d9126"/>
<rect x="231.83" y="52" width="11.13" height="1.3" fill="#8e8e27"/>
<rect x="242.67" y="52" width="11.13" height="1.3" fill="#8d8f27"/>
<rect x="158.3" y="53" width="10.87" height="1.3" fill="#8f8b27"/>
<rect x="168.87" y="53" width="10.87" height="1.3" fill="#8e8d27"/>
<rect x="179.43" y="53" width="10.87" height="1.3" fill="#8e8e27"/>
<rect x="190" y="53" width="10.63" height="1.3" fill="#7aac2c"/>
<rect x="200.33" y="53" width="10.63" height="1.3" fill="#7bae2d"/>
<rect x="210.67" y="53" width="10.63" height="1.3" fill="#7aad2c"/>
<rect x="221" y="53" width="11.13" height="1.3" fill="#8d9126"/>
<rect x="231.83" y="53" width="11.13" height="1.3" fill="#8e8d27"/>
<rect x="242.67" y="53" width="11.13" height="1.3" fill="#8d9126"/>
<rect x="158.3" y="54" width="10.87" height="1.3" fill="#8e8c27"/>
<rect x="168.87" y="54" width="10.87" height="1.3" fill="#8e8e27"/>
<rect x="179.43" y="54" width="10.87" height="1.3" fill="#8d9126"/>
<rect x="190" y="54" width="10.63" height="1.3" fill="#7aac2c"/>
<rect x="200.33" y="54" width="10.63" height="1.3" fill="#7aad2d"/>
<rect x="210.67" y="54" width="10.63" height="1.3" fill="#7aac2c"/>
<rect x="221" y="54" width="11.13" height="1.3" fill="#8d9126"/>
<rect x="231.83" y="54" width="11.13" height="1.3" fill="#8e8d27"/>
<rect x="242.67" y="54" width="11.13" height="1.3" fill="#8d8f27"/>
<rect x="158.3" y="55" width="10.87" height="1.3" fill="#8e8e27"/>
<rect x="168.87" y="55" width="10.87" height="1.3" fill="#8e8e27"/>
<rect x="179.43" y="55" width="10.87" height="1.3" fill="#8d9126"/>
<rect x="190" y="55" width="10.63" height="1.3" fill="#7aac2c"/>
<rect x="200.33" y="55" width="10.63" height="1.3" fill="#7bb02e"/>
<rect x="210.67" y="55" width="10.63" height="1.3" fill="#7baf2d"/>
<rect x="221" y="55" width="11.13" height="1.3" fill="#8c9226"/>
<rect x="231.83" y="55" width="11.13" height="1.3" fill="#8e8f27"/>
<rect x="242.67" y="55" width="11.13" height="1.3" fill="#8c9226"/>
<rect x="158.3" y="56" width="10.87" height="1.3" fill="#8d8f27"/>
<rect x="168.87" y="56" width="10.87" height="1.3" fill="#8e8e27"/>
<rect x="179.43" y="56" width="10.87" height="1.3" fill="#8c9226"/>
<rect x="190" y="56" width="10.63" height="1.3" fill="#7aac2c"/>
<rect x="200.33" y="56" width="10.63" height="1.3" fill="#7aad2c"/>
<rect x="210.67" y="56" width="10.63" height="1.3" fill="#7aac2c"/>
<rect x="221" y="56" width="11.13" height="1.3" fill="#8d9126"/>
<rect x="231.83" y="56" width="11.13" height="1.3" fill="#8e8e27"/>
<rect x="242.67" y="56" width="11.13" height="1.3" fill="#8c9226"/>
<rect x="158.3" y="57" width="10.87" height="1.3" fill="#8f8c27"/>
<rect x="168.87" y="57" width="10.87" height="1.3" fill="#8e8d27"/>
<rect x="179.43" y="57" width="10.87" height="1.3" fill="#8d9026"/>
<rect x="190" y="57" width="10.63" height="1.3" fill="#7aad2c"/>
<rect x="200.33" y="57" width="10.63" height="1.3" fill="#7aac2c"/>
<rect x="210.67" y="57" width="10.63" height="1.3" fill="#7aac2c"/>
<rect x="221" y="57" width="11.13" height="1.3" fill="#8d8f27"/>
<rect x="231.83" y="57" width="11.13" height="1.3" fill="#8f8927"/>
<rect x="242.67" y="57" width="11.13" height="1.3" fill="#8d8f27"/>
<rect x="158.3" y="58" width="10.87" height="1.3" fill="#8e8c27"/>
<rect x="168.87" y="58" width="10.87" height="1.3" fill="#8c9226"/>
<rect x="179.43" y="58" width="10.87" height="1.3" fill="#8d9226"/>
<rect x="190" y="58" width="10.63" height="1.3" fill="#7bb02e"/>
<rect x="200.33" y="58" width="10.63" height="1.3" fill="#7aac2c"/>
<rect x="210.67" y="58" width="10.63" height="1.3" fill="#7aac2c"/>
<rect x="221" y="58" width="11.13" height="1.3" fill="#8f8b27"/>
<rect x="231.83" y="58" width="11.13" height="1.3" fill="#918527"/>
<rect x="242.67" y="58" width="11.13" height="1.3" fill="#8e8c27"/>
<rect x="158.3" y="59" width="10.87" height="1.3" fill="#8f8c27"/>
<rect x="168.87" y="59" width="10.87" height="1.3" fill="#8c9326"/>
<rect x="179.43" y="59" width="10.87" height="1.3" fill="#8d8f27"/>
<rect x="190" y="59" width="10.63" height="1.3" fill="#7bb02e"/>
<rect x="200.33" y="59" width="10.63" height="1.3" fill="#7aac2c"/>
<rect x="210.67" y="59" width="10.63" height="1.3" fill="#7aac2c"/>
<rect x="221" y="59" width="11.13" height="1.3" fill="#8e8e27"/>
<rect x="231.83" y="59" width="11.13" height="1.3" fill="#908727"/>
<rect x="242.67" y="59" width="11.13" height="1.3" fill="#8e8d27"/>
<rect x="158.3" y="60" width="10.87" height="1.3" fill="#8d9126"/>
<rect x="168.87" y="60" width="10.87" height="1.3" fill="#8a9826"/>
<rect x="179.43" y="60" width="10.87" height="1.3" fill="#8c9426"/>
<rect x="190" y="60" width="10.63" height="1.3" fill="#7db430"/>
<rect x="200.33" y="60" width="10.63" height="1.3" fill="#7aac2c"/>
<rect x="210.67" y="60" width="10.63" height="1.3" fill="#7baf2d"/>
<rect x="221" y="60" width="11.13" height="1.3" fill="#8d8f27"/>
<rect x="231.83" y="60" width="11.13" height="1.3" fill="#8f8b27"/>
<rect x="242.67" y="60" width="11.13" height="1.3" fill="#8d9027"/>
<rect x="158.3" y="61" width="10.87" height="1.3" fill="#8b9726"/>
<rect x="168.87" y="61" width="10.87" height="1.3" fill="#8a9926"/>
<rect x="179.43" y="61" width="10.87" height="1.3" fill="#8b9726"/>
<rect x="190" y="61" width="10.63" height="1.3" fill="#80bd33"/>
<rect x="200.33" y="61" width="10.63" height="1.3" fill="#7db530"/>
<rect x="210.67" y="61" width="10.63" height="1.3" fill="#7eb831"/>
<rect x="221" y="61" width="11.13" height="1.3" fill="#8d8f27"/>
<rect x="231.83" y="61" width="11.13" height="1.3" fill="#8e8d27"/>
<rect x="242.67" y="61" width="11.13" height="1.3" fill="#8c9226"/>
<rect x="158.3" y="62" width="10.87" height="1.3" fill="#8b9726"/>
<rect x="168.87" y="62" width="10.87" height="1.3" fill="#8a9926"/>
<rect x="179.43" y="62" width="10.87" height="1.3" fill="#8b9626"/>
<rect x="190" y="62" width="10.63" height="1.3" fill="#83c738"/>
<rect x="200.33" y="62" width="10.63" height="1.3" fill="#81c035"/>
<rect x="210.67" y="62" width="10.63" height="1.3" fill="#82c336"/>
<rect x="221" y="62" width="11.13" height="1.3" fill="#8e8c27"/>
<rect x="231.83" y="62" width="11.13" height="1.3" fill="#8f8b27"/>
<rect x="242.67" y="62" width="11.13" height="1.3" fill="#8d9126"/>
<rect x="158.3" y="63" width="10.87" height="1.3" fill="#8b9526"/>
<rect x="168.87" y="63" width="10.87" height="1.3" fill="#8b9626"/>
<rect x="179.43" y="63" width="10.87" height="1.3" fill="#8c9226"/>
<rect x="190" y="63" width="10.63" height="1.3" fill="#96e443"/>
<rect x="200.33" y="63" width="10.63" height="1.3" fill="#81c135"/>
<rect x="210.67" y="63" width="10.63" height="1.3" fill="#82c537"/>
<rect x="221" y="63" width="11.13" height="1.3" fill="#8f8a27"/>
<rect x="231.83" y="63" width="11.13" height="1.3" fill="#9f7724"/>
<rect x="242.67" y="63" width="11.13" height="1.3" fill="#9b7b25"/>
<rect x="158.3" y="64" width="10.87" height="1.3" fill="#8c9426"/>
<rect x="168.87" y="64" width="10.87" height="1.3" fill="#8c9426"/>
<rect x="179.43" y="64" width="10.87" height="1.3" fill="#8d9226"/>
<rect x="190" y="64" width="10.63" height="1.3" fill="#98e844"/>
<rect x="200.33" y="64" width="10.63" height="1.3" fill="#80bd33"/>
<rect x="210.67" y="64" width="10.63" height="1.3" fill="#81c035"/>
<rect x="221" y="64" width="11.13" height="1.3" fill="#8f8a27"/>
<rect x="231.83" y="64" width="11.13" height="1.3" fill="#9c7924"/>
<rect x="242.67" y="64" width="11.13" height="1.3" fill="#987e25"/>
<rect x="158.3" y="65" width="10.87" height="1.3" fill="#8d9126"/>
<rect x="168.87" y="65" width="10.87" height="1.3" fill="#8c9326"/>
<rect x="179.43" y="65" width="10.87" height="1.3" fill="#8c9226"/>
<rect x="190" y="65" width="10.63" height="1.3" fill="#98e844"/>
<rect x="200.33" y="65" width="10.63" height="1.3" fill="#80be34"/>
<rect x="210.67" y="65" width="10.63" height="1.3" fill="#82c336"/>
<rect x="221" y="65" width="11.13" height="1.3" fill="#8f8b27"/>
<rect x="231.83" y="65" width="11.13" height="1.3" fill="#9a7c25"/>
<rect x="242.67" y="65" width="11.13" height="1.3" fill="#987e25"/>
<rect x="158.3" y="66" width="10.87" height="1.3" fill="#8d9226"/>
<rect x="168.87" y="66" width="10.87" height="1.3" fill="#8c9426"/>
<rect x="179.43" y="66" width="10.87" height="1.3" fill="#8c9426"/>
<rect x="190" y="66" width="10.63" height="1.3" fill="#92dd40"/>
<rect x="200.33" y="66" width="10.63" height="1.3" fill="#7eb932"/>
<rect x="210.67" y="66" width="10.63" height="1.3" fill="#80be34"/>
<rect x="221" y="66" width="11.13" height="1.3" fill="#8d8f27"/>
<rect x="231.83" y="66" width="11.13" height="1.3" fill="#987f25"/>
<rect x="242.67" y="66" width="11.13" height="1.3" fill="#968126"/>
<rect x="158.3" y="67" width="10.87" height="1.3" fill="#8d9026"/>
<rect x="168.87" y="67" width="10.87" height="1.3" fill="#8d9126"/>
<rect x="179.43" y="67" width="10.87" height="1.3" fill="#8d9126"/>
<rect x="190" y="67" width="10.63" height="1.3" fill="#98e844"/>
<rect x="200.33" y="67" width="10.63" height="1.3" fill="#81c035"/>
<rect x="210.67" y="67" width="10.63" height="1.3" fill="#80bf35"/>
<rect x="221" y="67" width="11.13" height="1.3" fill="#8e8e27"/>
<rect x="231.83" y="67" width="11.13" height="1.3" fill="#8d8f27"/>
<rect x="242.67" y="67" width="11.13" height="1.3" fill="#8d9027"/>
<rect x="158.3" y="68" width="10.87" height="1.3" fill="#8c9326"/>
<rect x="168.87" y="68" width="10.87" height="1.3" fill="#8c9426"/>
<rect x="179.43" y="68" width="10.87" height="1.3" fill="#8b9626"/>
<rect x="190" y="68" width="10.63" height="1.3" fill="#91db3f"/>
<rect x="200.33" y="68" width="10.63" height="1.3" fill="#82c336"/>
<rect x="210.67" y="68" width="10.63" height="1.3" fill="#80bf35"/>
<rect x="221" y="68" width="11.13" height="1.3" fill="#8e8f27"/>
<rect x="231.83" y="68" width="11.13" height="1.3" fill="#8e8e27"/>
<rect x="242.67" y="68" width="11.13" height="1.3" fill="#8d8f27"/>
<rect x="158.3" y="69" width="10.87" height="1.3" fill="#8e8e27"/>
<rect x="168.87" y="69" width="10.87" height="1.3" fill="#8d9027"/>
<rect x="179.43" y="69" width="10.87" height="1.3" fill="#8c9226"/>
<rect x="190" y="69" width="10.63" height="1.3" fill="#96e443"/>
<rect x="200.33" y="69" width="10.63" height="1.3" fill="#85cc3a"/>
<rect x="210.67" y="69" width="10.63" height="1.3" fill="#84c939"/>
<rect x="221" y="69" width="11.13" height="1.3" fill="#8e8d27"/>
<rect x="231.83" y="69" width="11.13" height="1.3" fill="#8e8e27"/>
<rect x="242.67" y="69" width="11.13" height="1.3" fill="#8d8f27"/>
<rect x="158.3" y="70" width="10.87" height="1.3" fill="#8c9226"/>
<rect x="168.87" y="70" width="10.87" height="1.3" fill="#8d9027"/>
<rect x="179.43" y="70" width="10.87" height="1.3" fill="#8c9426"/>
<rect x="190" y="70" width="10.63" height="1.3" fill="#91da3f"/>
<rect x="200.33" y="70" width="10.63" height="1.3" fill="#82c537"/>
<rect x="210.67" y="70" width="10.63" height="1.3" fill="#81c035"/>
<rect x="221" y="70" width="11.13" height="1.3" fill="#8d8f27"/>
<rect x="231.83" y="70" width="11.13" height="1.3" fill="#8e8d27"/>
<rect x="242.67" y="70" width="11.13" height="1.3" fill="#8e8f27"/>
<rect x="158.3" y="71" width="10.87" height="1.3" fill="#8e8f27"/>
<rect x="168.87" y="71" width="10.87" height="1.3" fill="#8f8a27"/>
<rect x="179.43" y="71" width="10.87" height="1.3" fill="#8d9126"/>
<rect x="190" y="71" width="10.63" height="1.3" fill="#91db3f"/>
<rect x="200.33" y="71" width="10.63" height="1.3" fill="#8dd63e"/>
<rect x="210.67" y="71" width="10.63" height="1.3" fill="#8bd33c"/>
<rect x="221" y="71" width="11.13" height="1.3" fill="#997d25"/>
<rect x="231.83" y="71" width="11.13" height="1.3" fill="#9b7b24"/>
<rect x="242.67" y="71" width="11.13" height="1.3" fill="#9c7924"/>
<rect x="158.3" y="72" width="10.87" height="1.3" fill="#8d9027"/>
<rect x="168.87" y="72" width="10.87" height="1.3" fill="#8d9027"/>
<rect x="179.43" y="72" width="10.87" height="1.3" fill="#8c9426"/>
<rect x="190" y="72" width="10.63" height="1.3" fill="#8cd13b"/>
<rect x="200.33" y="72" width="10.63" height="1.3" fill="#86c838"/>
<rect x="210.67" y="72" width="10.63" height="1.3" fill="#86c838"/>
<rect x="221" y="72" width="11.13" height="1.3" fill="#997d25"/>
<rect x="231.83" y="72" width="11.13" height="1.3" fill="#987e25"/>
<rect x="242.67" y="72" width="11.13" height="1.3" fill="#9c7a24"/>
<rect x="158.3" y="73" width="10.87" height="1.3" fill="#8e8f27"/>
<rect x="168.87" y="73" width="10.87" height="1.3" fill="#8d9027"/>
<rect x="179.43" y="73" width="10.87" height="1.3" fill="#8c9226"/>
<rect x="190" y="73" width="10.63" height="1.3" fill="#8dd43d"/>
<rect x="200.33" y="73" width="10.63" height="1.3" fill="#89ce3b"/>
<rect x="210.67" y="73" width="10.63" height="1.3" fill="#87cb39"/>
<rect x="221" y="73" width="11.13" height="1.3" fill="#9a7c25"/>
<rect x="231.83" y="73" width="11.13" height="1.3" fill="#9a7c25"/>
<rect x="242.67" y="73" width="11.13" height="1.3" fill="#9e7724"/>
<rect x="158.3" y="74" width="10.87" height="1.3" fill="#8d9126"/>
<rect x="168.87" y="74" width="10.87" height="1.3" fill="#8c9426"/>
<rect x="179.43" y="74" width="10.87" height="1.3" fill="#8c9426"/>
<rect x="190" y="74" width="10.63" height="1.3" fill="#98e844"/>
<rect x="200.33" y="74" width="10.63" height="1.3" fill="#8bd33d"/>
<rect x="210.67" y="74" width="10.63" height="1.3" fill="#98e844"/>
<rect x="221" y="74" width="11.13" height="1.3" fill="#8e8e27"/>
<rect x="231.83" y="74" width="11.13" height="1.3" fill="#9b7b25"/>
<rect x="242.67" y="74" width="11.13" height="1.3" fill="#9e7824"/>
<rect x="158.3" y="75" width="10.87" height="1.3" fill="#8d9126"/>
<rect x="168.87" y="75" width="10.87" height="1.3" fill="#8b9626"/>
<rect x="179.43" y="75" width="10.87" height="1.3" fill="#8b9626"/>
<rect x="190" y="75" width="10.63" height="1.3" fill="#98e844"/>
<rect x="200.33" y="75" width="10.63" height="1.3" fill="#8cd53d"/>
<rect x="210.67" y="75" width="10.63" height="1.3" fill="#98e844"/>
<rect x="221" y="75" width="11.13" height="1.3" fill="#8e8d27"/>
<rect x="231.83" y="75" width="11.13" height="1.3" fill="#9b7b24"/>
<rect x="242.67" y="75" width="11.13" height="1.3" fill="#9e7824"/>
<rect x="158.3" y="76" width="10.87" height="1.3" fill="#8d8f27"/>
<rect x="168.87" y="76" width="10.87" height="1.3" fill="#8c9326"/>
<rect x="179.43" y="76" width="10.87" height="1.3" fill="#8c9326"/>
<rect x="190" y="76" width="10.63" height="1.3" fill="#8ed73e"/>
<rect x="200.33" y="76" width="10.63" height="1.3" fill="#89cf3b"/>
<rect x="210.67" y="76" width="10.63" height="1.3" fill="#82c035"/>
<rect x="221" y="76" width="11.13" height="1.3" fill="#8f8a27"/>
<rect x="231.83" y="76" width="11.13" height="1.3" fill="#9b7b25"/>
<rect x="242.67" y="76" width="11.13" height="1.3" fill="#9e7824"/>
<rect x="158.3" y="77" width="10.87" height="1.3" fill="#8e8d27"/>
<rect x="168.87" y="77" width="10.87" height="1.3" fill="#8e8d27"/>
<rect x="179.43" y="77" width="10.87" height="1.3" fill="#8d9226"/>
<rect x="190" y="77" width="10.63" height="1.3" fill="#8acf3b"/>
<rect x="200.33" y="77" width="10.63" height="1.3" fill="#84c537"/>
<rect x="210.67" y="77" width="10.63" height="1.3" fill="#80bb32"/>
<rect x="221" y="77" width="11.13" height="1.3" fill="#8d8f27"/>
<rect x="231.83" y="77" width="11.13" height="1.3" fill="#997d25"/>
<rect x="242.67" y="77" width="11.13" height="1.3" fill="#997e25"/>
<rect x="158.3" y="78" width="10.87" height="1.3" fill="#908827"/>
<rect x="168.87" y="78" width="10.87" height="1.3" fill="#8f8927"/>
<rect x="179.43" y="78" width="10.87" height="1.3" fill="#8f8c27"/>
<rect x="190" y="78" width="10.63" height="1.3" fill="#8fd93f"/>
<rect x="200.33" y="78" width="10.63" height="1.3" fill="#86ca39"/>
<rect x="210.67" y="78" width="10.63" height="1.3" fill="#84c436"/>
<rect x="221" y="78" width="11.13" height="1.3" fill="#8e8e27"/>
<rect x="231.83" y="78" width="11.13" height="1.3" fill="#8e8e27"/>
<rect x="242.67" y="78" width="11.13" height="1.3" fill="#8e8e27"/>
<rect x="158.3" y="79" width="10.87" height="1.3" fill="#8e8d27"/>
<rect x="168.87" y="79" width="10.87" height="1.3" fill="#8f8927"/>
<rect x="179.43" y="79" width="10.87" height="1.3" fill="#8d8f27"/>
<rect x="190" y="79" width="10.63" height="1.3" fill="#91de41"/>
<rect x="200.33" y="79" width="10.63" height="1.3" fill="#8fdc40"/>
<rect x="210.67" y="79" width="10.63" height="1.3" fill="#8fdc40"/>
<rect x="221" y="79" width="11.13" height="1.3" fill="#8c9326"/>
<rect x="231.83" y="79" width="11.13" height="1.3" fill="#8c9326"/>
<rect x="242.67" y="79" width="11.13" height="1.3" fill="#8c9226"/>
<rect x="158.3" y="80" width="10.87" height="1.3" fill="#947d27"/>
<rect x="168.87" y="80" width="10.87" height="1.3" fill="#957b27"/>
<rect x="179.43" y="80" width="10.87" height="1.3" fill="#947d27"/>
<rect x="190" y="80" width="10.63" height="1.3" fill="#94e343"/>
<rect x="200.33" y="80" width="10.63" height="1.3" fill="#93e042"/>
<rect x="210.67" y="80" width="10.63" height="1.3" fill="#94e343"/>
<rect x="221" y="80" width="11.13" height="1.3" fill="#947d27"/>
<rect x="231.83" y="80" width="11.13" height="1.3" fill="#947d27"/>
<rect x="242.67" y="80" width="11.13" height="1.3" fill="#947d27"/>
<rect x="158.3" y="81" width="10.87" height="1.3" fill="#947d27"/>
<rect x="168.87" y="81" width="10.87" height="1.3" fill="#957b26"/>
<rect x="179.43" y="81" width="10.87" height="1.3" fill="#957c27"/>
<rect x="190" y="81" width="10.63" height="1.3" fill="#96e543"/>
<rect x="200.33" y="81" width="10.63" height="1.3" fill="#96e543"/>
<rect x="210.67" y="81" width="10.63" height="1.3" fill="#97e644"/>
<rect x="221" y="81" width="11.13" height="1.3" fill="#937f28"/>
<rect x="231.83" y="81" width="11.13" height="1.3" fill="#937f28"/>
<rect x="242.67" y="81" width="11.13" height="1.3" fill="#937f28"/>
<rect x="158.3" y="82" width="10.87" height="1.3" fill="#947d27"/>
<rect x="168.87" y="82" width="10.87" height="1.3" fill="#947e27"/>
<rect x="179.43" y="82" width="10.87" height="1.3" fill="#957c27"/>
<rect x="190" y="82" width="10.63" height="1.3" fill="#9ef047"/>
<rect x="200.33" y="82" width="10.63" height="1.3" fill="#9ef047"/>
<rect x="210.67" y="82" width="10.63" height="1.3" fill="#9ff148"/>
<rect x="221" y="82" width="11.13" height="1.3" fill="#937e27"/>
<rect x="231.83" y="82" width="11.13" height="1.3" fill="#947e27"/>
<rect x="242.67" y="82" width="11.13" height="1.3" fill="#957c27"/>
<rect x="158.3" y="83" width="10.87" height="1.3" fill="#82a02c"/>
<rect x="168.87" y="83" width="10.87" height="1.3" fill="#82a02c"/>
<rect x="179.43" y="83" width="10.87" height="1.3" fill="#82a02c"/>
<rect x="190" y="83" width="10.63" height="1.3" fill="#9dee47"/>
<rect x="200.33" y="83" width="10.63" height="1.3" fill="#9dee47"/>
<rect x="210.67" y="83" width="10.63" height="1.3" fill="#9ef047"/>
<rect x="221" y="83" width="11.13" height="1.3" fill="#82a02c"/>
<rect x="231.83" y="83" width="11.13" height="1.3" fill="#82a02c"/>
<rect x="242.67" y="83" width="11.13" height="1.3" fill="#82a02c"/>
<rect x="158.3" y="84" width="10.87" height="1.3" fill="#82a02c"/>
<rect x="168.87" y="84" width="10.87" height="1.3" fill="#82a02c"/>
<rect x="179.43" y="84" width="10.87" height="1.3" fill="#82a02c"/>
<rect x="190" y="84" width="10.63" height="1.3" fill="#9dee47"/>
<rect x="200.33" y="84" width="10.63" height="1.3" fill="#9def47"/>
<rect x="210.67" y="84" width="10.63" height="1.3" fill="#9def47"/>
<rect x="221" y="84" width="11.13" height="1.3" fill="#82a02c"/>
<rect x="231.83" y="84" width="11.13" height="1.3" fill="#82a02c"/>
<rect x="242.67" y="84" width="11.13" height="1.3" fill="#82a02c"/>
<rect x="158.3" y="85" width="10.87" height="1.3" fill="#7eb137"/>
<rect x="168.87" y="85" width="10.87" height="1.3" fill="#7eb238"/>
<rect x="179.43" y="85" width="10.87" height="1.3" fill="#7fb439"/>
<rect x="190" y="85" width="10.63" height="1.3" fill="#df3312"/>
<rect x="200.33" y="85" width="10.63" height="1.3" fill="#e03212"/>
<rect x="210.67" y="85" width="10.63" height="1.3" fill="#df3312"/>
<rect x="221" y="85" width="11.13" height="1.3" fill="#7fb539"/>
<rect x="231.83" y="85" width="11.13" height="1.3" fill="#7fb539"/>
<rect x="242.67" y="85" width="11.13" height="1.3" fill="#80b83b"/>
<rect x="158.3" y="86" width="10.87" height="1.3" fill="#7db037"/>
<rect x="168.87" y="86" width="10.87" height="1.3" fill="#7eb138"/>
<rect x="179.43" y="86" width="10.87" height="1.3" fill="#7eb339"/>
<rect x="190" y="86" width="10.63" height="1.3" fill="#db3613"/>
<rect x="200.33" y="86" width="10.63" height="1.3" fill="#de3412"/>
<rect x="210.67" y="86" width="10.63" height="1.3" fill="#da3713"/>
<rect x="221" y="86" width="11.13" height="1.3" fill="#7eb137"/>
<rect x="231.83" y="86" width="11.13" height="1.3" fill="#86cc40"/>
<rect x="242.67" y="86" width="11.13" height="1.3" fill="#86cc40"/>
<rect x="158.3" y="87" width="10.87" height="1.3" fill="#7cac35"/>
<rect x="168.87" y="87" width="10.87" height="1.3" fill="#7eb339"/>
<rect x="179.43" y="87" width="10.87" height="1.3" fill="#7db037"/>
<rect x="190" y="87" width="10.63" height="1.3" fill="#d43b15"/>
<rect x="200.33" y="87" width="10.63" height="1.3" fill="#d73914"/>
<rect x="210.67" y="87" width="10.63" height="1.3" fill="#d43b15"/>
<rect x="221" y="87" width="11.13" height="1.3" fill="#7daf36"/>
<rect x="231.83" y="87" width="11.13" height="1.3" fill="#86cc40"/>
<rect x="242.67" y="87" width="11.13" height="1.3" fill="#86cc40"/>
<rect x="158.3" y="88" width="10.87" height="1.3" fill="#7cac35"/>
<rect x="168.87" y="88" width="10.87" height="1.3" fill="#7eb238"/>
<rect x="179.43" y="88" width="10.87" height="1.3" fill="#7cac35"/>
<rect x="190" y="88" width="10.63" height="1.3" fill="#ce4016"/>
<rect x="200.33" y="88" width="10.63" height="1.3" fill="#d03f16"/>
<rect x="210.67" y="88" width="10.63" height="1.3" fill="#ce4016"/>
<rect x="221" y="88" width="11.13" height="1.3" fill="#7ba933"/>
<rect x="231.83" y="88" width="11.13" height="1.3" fill="#86cc40"/>
<rect x="242.67" y="88" width="11.13" height="1.3" fill="#86cc40"/>
<rect x="158.3" y="89" width="10.87" height="1.3" fill="#7aa632"/>
<rect x="168.87" y="89" width="10.87" height="1.3" fill="#7ea32f"/>
<rect x="179.43" y="89" width="10.87" height="1.3" fill="#7aa632"/>
<rect x="190" y="89" width="10.63" height="1.3" fill="#aa5c1e"/>
<rect x="200.33" y="89" width="10.63" height="1.3" fill="#ab5b1e"/>
<rect x="210.67" y="89" width="10.63" height="1.3" fill="#a95d1e"/>
<rect x="221" y="89" width="11.13" height="1.3" fill="#7ca430"/>
<rect x="231.83" y="89" width="11.13" height="1.3" fill="#7ca531"/>
<rect x="242.67" y="89" width="11.13" height="1.3" fill="#7ca430"/>
<rect x="158.3" y="90" width="10.87" height="1.3" fill="#7aa632"/>
<rect x="168.87" y="90" width="10.87" height="1.3" fill="#7da32f"/>
<rect x="179.43" y="90" width="10.87" height="1.3" fill="#7aa632"/>
<rect x="190" y="90" width="10.63" height="1.3" fill="#a7601f"/>
<rect x="200.33" y="90" width="10.63" height="1.3" fill="#a85f1f"/>
<rect x="210.67" y="90" width="10.63" height="1.3" fill="#a7601f"/>
<rect x="221" y="90" width="11.13" height="1.3" fill="#7da430"/>
<rect x="231.83" y="90" width="11.13" height="1.3" fill="#7da430"/>
<rect x="242.67" y="90" width="11.13" height="1.3" fill="#7da430"/>
<rect x="158.3" y="91" width="10.87" height="1.3" fill="#7aa632"/>
<rect x="168.87" y="91" width="10.87" height="1.3" fill="#7da430"/>
<rect x="179.43" y="91" width="10.87" height="1.3" fill="#7aa632"/>
<rect x="190" y="91" width="10.63" height="1.3" fill="#a36521"/>
<rect x="200.33" y="91" width="10.63" height="1.3" fill="#a36521"/>
<rect x="210.67" y="91" width="10.63" height="1.3" fill="#a36621"/>
<rect x="221" y="91" width="11.13" height="1.3" fill="#7da430"/>
<rect x="231.83" y="91" width="11.13" height="1.3" fill="#7ca431"/>
<rect x="242.67" y="91" width="11.13" height="1.3" fill="#7ca430"/>
<rect x="158.3" y="92" width="10.87" height="1.3" fill="#7da430"/>
<rect x="168.87" y="92" width="10.87" height="1.3" fill="#7fa22f"/>
<rect x="179.43" y="92" width="10.87" height="1.3" fill="#7ca531"/>
<rect x="190" y="92" width="10.63" height="1.3" fill="#a06922"/>
<rect x="200.33" y="92" width="10.63" height="1.3" fill="#a06922"/>
<rect x="210.67" y="92" width="10.63" height="1.3" fill="#a06922"/>
<rect x="221" y="92" width="11.13" height="1.3" fill="#7da330"/>
<rect x="231.83" y="92" width="11.13" height="1.3" fill="#7ca431"/>
<rect x="242.67" y="92" width="11.13" height="1.3" fill="#7ca431"/>
<rect x="158.3" y="93" width="10.87" height="1.3" fill="#7fa22e"/>
<rect x="168.87" y="93" width="10.87" height="1.3" fill="#81a02c"/>
<rect x="179.43" y="93" width="10.87" height="1.3" fill="#7fa22e"/>
<rect x="190" y="93" width="10.63" height="1.3" fill="#9f6b23"/>
<rect x="200.33" y="93" width="10.63" height="1.3" fill="#9f6b23"/>
<rect x="210.67" y="93" width="10.63" height="1.3" fill="#9f6b23"/>
<rect x="221" y="93" width="11.13" height="1.3" fill="#7fa22e"/>
<rect x="231.83" y="93" width="11.13" height="1.3" fill="#7da430"/>
<rect x="242.67" y="93" width="11.13" height="1.3" fill="#7da430"/>
<rect x="158.3" y="94" width="10.87" height="1.3" fill="#81a12d"/>
<rect x="168.87" y="94" width="10.87" height="1.3" fill="#839f2b"/>
<rect x="179.43" y="94" width="10.87" height="1.3" fill="#81a02d"/>
<rect x="190" y="94" width="10.63" height="1.3" fill="#9e6c23"/>
<rect x="200.33" y="94" width="10.63" height="1.3" fill="#9d6e24"/>
<rect x="210.67" y="94" width="10.63" height="1.3" fill="#9d6d24"/>
<rect x="221" y="94" width="11.13" height="1.3" fill="#82a02c"/>
<rect x="231.83" y="94" width="11.13" height="1.3" fill="#7ea32f"/>
<rect x="242.67" y="94" width="11.13" height="1.3" fill="#7fa22e"/>
<rect x="158.3" y="95" width="10.87" height="1.3" fill="#7fa22e"/>
<rect x="168.87" y="95" width="10.87" height="1.3" fill="#81a02d"/>
<rect x="179.43" y="95" width="10.87" height="1.3" fill="#7fa22f"/>
<rect x="190" y="95" width="10.63" height="1.3" fill="#9b7025"/>
<rect x="200.33" y="95" width="10.63" height="1.3" fill="#9a7125"/>
<rect x="210.67" y="95" width="10.63" height="1.3" fill="#997225"/>
<rect x="221" y="95" width="11.13" height="1.3" fill="#829f2c"/>
<rect x="231.83" y="95" width="11.13" height="1.3" fill="#7fa22e"/>
<rect x="242.67" y="95" width="11.13" height="1.3" fill="#80a12e"/>
<rect x="158.3" y="96" width="10.87" height="1.3" fill="#7da32f"/>
<rect x="168.87" y="96" width="10.87" height="1.3" fill="#80a12e"/>
<rect x="179.43" y="96" width="10.87" height="1.3" fill="#7ea22f"/>
<rect x="190" y="96" width="10.63" height="1.3" fill="#977626"/>
<rect x="200.33" y="96" width="10.63" height="1.3" fill="#967726"/>
<rect x="210.67" y="96" width="10.63" height="1.3" fill="#967826"/>
<rect x="221" y="96" width="11.13" height="1.3" fill="#81a12d"/>
<rect x="231.83" y="96" width="11.13" height="1.3" fill="#7da330"/>
<rect x="242.67" y="96" width="11.13" height="1.3" fill="#7ea22f"/>
<rect x="158.3" y="97" width="10.87" height="1.3" fill="#7ea32f"/>
<rect x="168.87" y="97" width="10.87" height="1.3" fill="#80a12d"/>
<rect x="179.43" y="97" width="10.87" height="1.3" fill="#7fa22e"/>
<rect x="190" y="97" width="10.63" height="1.3" fill="#967726"/>
<rect x="200.33" y="97" width="10.63" height="1.3" fill="#957826"/>
<rect x="210.67" y="97" width="10.63" height="1.3" fill="#957826"/>
<rect x="221" y="97" width="11.13" height="1.3" fill="#7ea22f"/>
<rect x="231.83" y="97" width="11.13" height="1.3" fill="#7ca430"/>
<rect x="242.67" y="97" width="11.13" height="1.3" fill="#7da32f"/>
<rect x="158.3" y="98" width="10.87" height="1.3" fill="#7da32f"/>
<rect x="168.87" y="98" width="10.87" height="1.3" fill="#81a02d"/>
<rect x="179.43" y="98" width="10.87" height="1.3" fill="#80a12e"/>
<rect x="190" y="98" width="10.63" height="1.3" fill="#957926"/>
<rect x="200.33" y="98" width="10.63" height="1.3" fill="#947a26"/>
<rect x="210.67" y="98" width="10.63" height="1.3" fill="#947a26"/>
<rect x="221" y="98" width="11.13" height="1.3" fill="#7ba531"/>
<rect x="231.83" y="98" width="11.13" height="1.3" fill="#7ba632"/>
<rect x="242.67" y="98" width="11.13" height="1.3" fill="#7ca531"/>
<rect x="158.3" y="99" width="10.87" height="1.3" fill="#7da32f"/>
<rect x="168.87" y="99" width="10.87" height="1.3" fill="#80a12d"/>
<rect x="179.43" y="99" width="10.87" height="1.3" fill="#80a12e"/>
<rect x="190" y="99" width="10.63" height="1.3" fill="#957826"/>
<rect x="200.33" y="99" width="10.63" height="1.3" fill="#947a26"/>
<rect x="210.67" y="99" width="10.63" height="1.3" fill="#957926"/>
<rect x="221" y="99" width="11.13" height="1.3" fill="#7ba531"/>
<rect x="231.83" y="99" width="11.13" height="1.3" fill="#7ca430"/>
<rect x="242.67" y="99" width="11.13" height="1.3" fill="#7ca431"/>
<rect x="158.3" y="100" width="10.87" height="1.3" fill="#7ea32f"/>
<rect x="168.87" y="100" width="10.87" height="1.3" fill="#80a12d"/>
<rect x="179.43" y="100" width="10.87" height="1.3" fill="#80a12d"/>
<rect x="190" y="100" width="10.63" height="1.3" fill="#947a26"/>
<rect x="200.33" y="100" width="10.63" height="1.3" fill="#937c27"/>
<rect x="210.67" y="100" width="10.63" height="1.3" fill="#947a26"/>
<rect x="221" y="100" width="11.13" height="1.3" fill="#7da430"/>
<rect x="231.83" y="100" width="11.13" height="1.3" fill="#7ca430"/>
<rect x="242.67" y="100" width="11.13" height="1.3" fill="#7ea32f"/>
<rect x="158.3" y="101" width="10.87" height="1.3" fill="#7ea32f"/>
<rect x="168.87" y="101" width="10.87" height="1.3" fill="#7fa22e"/>
<rect x="179.43" y="101" width="10.87" height="1.3" fill="#7ea22f"/>
<rect x="190" y="101" width="10.63" height="1.3" fill="#957826"/>
<rect x="200.33" y="101" width="10.63" height="1.3" fill="#937c27"/>
<rect x="210.67" y="101" width="10.63" height="1.3" fill="#957926"/>
<rect x="221" y="101" width="11.13" height="1.3" fill="#7ea32f"/>
<rect x="231.83" y="101" width="11.13" height="1.3" fill="#7ea22f"/>
<rect x="242.67" y="101" width="11.13" height="1.3" fill="#7ea32f"/>
<rect x="158.3" y="102" width="10.87" height="1.3" fill="#7da430"/>
<rect x="168.87" y="102" width="10.87" height="1.3" fill="#7da330"/>
<rect x="179.43" y="102" width="10.87" height="1.3" fill="#7da32f"/>
<rect x="190" y="102" width="10.63" height="1.3" fill="#937d27"/>
<rect x="200.33" y="102" width="10.63" height="1.3" fill="#918027"/>
<rect x="210.67" y="102" width="10.63" height="1.3" fill="#937d27"/>
<rect x="221" y="102" width="11.13" height="1.3" fill="#7da330"/>
<rect x="231.83" y="102" width="11.13" height="1.3" fill="#7ea32f"/>
<rect x="242.67" y="102" width="11.13" height="1.3" fill="#7ca430"/>
<rect x="158.3" y="103" width="10.87" height="1.3" fill="#7da430"/>
<rect x="168.87" y="103" width="10.87" height="1.3" fill="#7ca531"/>
<rect x="179.43" y="103" width="10.87" height="1.3" fill="#7da430"/>
<rect x="190" y="103" width="10.63" height="1.3" fill="#917f27"/>
<rect x="200.33" y="103" width="10.63" height="1.3" fill="#8f8327"/>
<rect x="210.67" y="103" width="10.63" height="1.3" fill="#917f27"/>
<rect x="221" y="103" width="11.13" height="1.3" fill="#7fa22f"/>
<rect x="231.83" y="103" width="11.13" height="1.3" fill="#7fa22f"/>
<rect x="242.67" y="103" width="11.13" height="1.3" fill="#7ca430"/>
<rect x="158.3" y="104" width="10.87" height="1.3" fill="#7da430"/>
<rect x="168.87" y="104" width="10.87" height="1.3" fill="#7ba531"/>
<rect x="179.43" y="104" width="10.87" height="1.3" fill="#7ca430"/>
<rect x="190" y="104" width="10.63" height="1.3" fill="#908227"/>
<rect x="200.33" y="104" width="10.63" height="1.3" fill="#8e8527"/>
<rect x="210.67" y="104" width="10.63" height="1.3" fill="#908127"/>
<rect x="221" y="104" width="11.13" height="1.3" fill="#7da330"/>
<rect x="231.83" y="104" width="11.13" height="1.3" fill="#7ea32f"/>
<rect x="242.67" y="104" width="11.13" height="1.3" fill="#7ca531"/>
<rect x="158.3" y="105" width="10.87" height="1.3" fill="#7da430"/>
<rect x="168.87" y="105" width="10.87" height="1.3" fill="#7ca430"/>
<rect x="179.43" y="105" width="10.87" height="1.3" fill="#7ca430"/>
<rect x="190" y="105" width="10.63" height="1.3" fill="#8f8327"/>
<rect x="200.33" y="105" width="10.63" height="1.3" fill="#8d8627"/>
<rect x="210.67" y="105" width="10.63" height="1.3" fill="#8f8327"/>
<rect x="221" y="105" width="11.13" height="1.3" fill="#7ea22f"/>
<rect x="231.83" y="105" width="11.13" height="1.3" fill="#81a12d"/>
<rect x="242.67" y="105" width="11.13" height="1.3" fill="#7ea32f"/>
<rect x="158.3" y="106" width="10.87" height="1.3" fill="#7da430"/>
<rect x="168.87" y="106" width="10.87" height="1.3" fill="#7da32f"/>
<rect x="179.43" y="106" width="10.87" height="1.3" fill="#7da330"/>
<rect x="190" y="106" width="10.63" height="1.3" fill="#8f8227"/>
<rect x="200.33" y="106" width="10.63" height="1.3" fill="#8e8527"/>
<rect x="210.67" y="106" width="10.63" height="1.3" fill="#8f8227"/>
<rect x="221" y="106" width="11.13" height="1.3" fill="#7da430"/>
<rect x="231.83" y="106" width="11.13" height="1.3" fill="#7fa22e"/>
<rect x="242.67" y="106" width="11.13" height="1.3" fill="#7da430"/>
<rect x="158.3" y="107" width="10.87" height="1.3" fill="#7ea32f"/>
<rect x="168.87" y="107" width="10.87" height="1.3" fill="#7ea32f"/>
<rect x="179.43" y="107" width="10.87" height="1.3" fill="#7da32f"/>
<rect x="190" y="107" width="10.63" height="1.3" fill="#8d8627"/>
<rect x="200.33" y="107" width="10.63" height="1.3" fill="#8b8928"/>
<rect x="210.67" y="107" width="10.63" height="1.3" fill="#8d8627"/>
<rect x="221" y="107" width="11.13" height="1.3" fill="#7fa22e"/>
<rect x="231.83" y="107" width="11.13" height="1.3" fill="#80a12e"/>
<rect x="242.67" y="107" width="11.13" height="1.3" fill="#7fa22e"/>
<rect x="158.3" y="108" width="10.87" height="1.3" fill="#7da430"/>
<rect x="168.87" y="108" width="10.87" height="1.3" fill="#7fa22f"/>
<rect x="179.43" y="108" width="10.87" height="1.3" fill="#7da330"/>
<rect x="190" y="108" width="10.63" height="1.3" fill="#8d8527"/>
<rect x="200.33" y="108" width="10.63" height="1.3" fill="#8c8828"/>
<rect x="210.67" y="108" width="10.63" height="1.3" fill="#8d8627"/>
<rect x="221" y="108" width="11.13" height="1.3" fill="#7ea32f"/>
<rect x="231.83" y="108" width="11.13" height="1.3" fill="#7fa22e"/>
<rect x="242.67" y="108" width="11.13" height="1.3" fill="#80a12e"/>
<rect x="158.3" y="109" width="10.87" height="1.3" fill="#7da430"/>
<rect x="168.87" y="109" width="10.87" height="1.3" fill="#7ea32f"/>
<rect x="179.43" y="109" width="10.87" height="1.3" fill="#7da430"/>
<rect x="190" y="109" width="10.63" height="1.3" fill="#8c8727"/>
<rect x="200.33" y="109" width="10.63" height="1.3" fill="#8b8928"/>
<rect x="210.67" y="109" width="10.63" height="1.3" fill="#8c8727"/>
<rect x="221" y="109" width="11.13" height="1.3" fill="#7da330"/>
<rect x="231.83" y="109" width="11.13" height="1.3" fill="#7ea22f"/>
<rect x="242.67" y="109" width="11.13" height="1.3" fill="#7fa22f"/>
<rect x="158.3" y="110" width="10.87" height="1.3" fill="#7ea32f"/>
<rect x="168.87" y="110" width="10.87" height="1.3" fill="#7fa22e"/>
<rect x="179.43" y="110" width="10.87" height="1.3" fill="#7fa22e"/>
<rect x="190" y="110" width="10.63" height="1.3" fill="#8c8727"/>
<rect x="200.33" y="110" width="10.63" height="1.3" fill="#8a8b28"/>
<rect x="210.67" y="110" width="10.63" height="1.3" fill="#8b8928"/>
<rect x="221" y="110" width="11.13" height="1.3" fill="#7da430"/>
<rect x="231.83" y="110" width="11.13" height="1.3" fill="#7da430"/>
<rect x="242.67" y="110" width="11.13" height="1.3" fill="#7ca430"/>
<rect x="158.3" y="111" width="10.87" height="1.3" fill="#7ca430"/>
<rect x="168.87" y="111" width="10.87" height="1.3" fill="#7ea32f"/>
<rect x="179.43" y="111" width="10.87" height="1.3" fill="#7fa22f"/>
<rect x="190" y="111" width="10.63" height="1.3" fill="#8a8a28"/>
<rect x="200.33" y="111" width="10.63" height="1.3" fill="#898d28"/>
<rect x="210.67" y="111" width="10.63" height="1.3" fill="#8a8b28"/>
<rect x="221" y="111" width="11.13" height="1.3" fill="#7ba531"/>
<rect x="231.83" y="111" width="11.13" height="1.3" fill="#7ba531"/>
<rect x="242.67" y="111" width="11.13" height="1.3" fill="#7ba531"/>
<rect x="158.3" y="112" width="10.87" height="1.3" fill="#7ea32f"/>
<rect x="168.87" y="112" width="10.87" height="1.3" fill="#7fa22e"/>
<rect x="179.43" y="112" width="10.87" height="1.3" fill="#80a12e"/>
<rect x="190" y="112" width="10.63" height="1.3" fill="#888e28"/>
<rect x="200.33" y="112" width="10.63" height="1.3" fill="#888e28"/>
<rect x="210.67" y="112" width="10.63" height="1.3" fill="#888e28"/>
<rect x="221" y="112" width="11.13" height="1.3" fill="#7ca531"/>
<rect x="231.83" y="112" width="11.13" height="1.3" fill="#7ba531"/>
<rect x="242.67" y="112" width="11.13" height="1.3" fill="#7aa632"/>
<rect x="158.3" y="113" width="10.87" height="1.3" fill="#7da430"/>
<rect x="168.87" y="113" width="10.87" height="1.3" fill="#7da330"/>
<rect x="179.43" y="113" width="10.87" height="1.3" fill="#7ea32f"/>
<rect x="190" y="113" width="10.63" height="1.3" fill="#888e28"/>
<rect x="200.33" y="113" width="10.63" height="1.3" fill="#888e28"/>
<rect x="210.67" y="113" width="10.63" height="1.3" fill="#888e28"/>
<rect x="221" y="113" width="11.13" height="1.3" fill="#7da430"/>
<rect x="231.83" y="113" width="11.13" height="1.3" fill="#7ca430"/>
<rect x="242.67" y="113" width="11.13" height="1.3" fill="#7aa632"/>
<rect x="158.3" y="114" width="10.87" height="1.3" fill="#7da430"/>
<rect x="168.87" y="114" width="10.87" height="1.3" fill="#7ea32f"/>
<rect x="179.43" y="114" width="10.87" height="1.3" fill="#7fa22e"/>
<rect x="190" y="114" width="10.63" height="1.3" fill="#888e28"/>
<rect x="200.33" y="114" width="10.63" height="1.3" fill="#888e28"/>
<rect x="210.67" y="114" width="10.63" height="1.3" fill="#888e28"/>
<rect x="221" y="114" width="11.13" height="1.3" fill="#7da430"/>
<rect x="231.83" y="114" width="11.13" height="1.3" fill="#7ca430"/>
<rect x="242.67" y="114" width="11.13" height="1.3" fill="#7aa632"/>
<rect x="158.3" y="115" width="10.87" height="1.3" fill="#7ba531"/>
<rect x="168.87" y="115" width="10.87" height="1.3" fill="#7ca430"/>
<rect x="179.43" y="115" width="10.87" height="1.3" fill="#7da430"/>
<rect x="190" y="115" width="10.63" height="1.3" fill="#888e28"/>
<rect x="200.33" y="115" width="10.63" height="1.3" fill="#888e28"/>
<rect x="210.67" y="115" width="10.63" height="1.3" fill="#888e28"/>
<rect x="221" y="115" width="11.13" height="1.3" fill="#7ea22f"/>
<rect x="231.83" y="115" width="11.13" height="1.3" fill="#7ea32f"/>
<rect x="242.67" y="115" width="11.13" height="1.3" fill="#7ca531"/>
<rect x="158.3" y="116" width="10.87" height="1.3" fill="#7da32f"/>
<rect x="168.87" y="116" width="10.87" height="1.3" fill="#7ea22f"/>
<rect x="179.43" y="116" width="10.87" height="1.3" fill="#80a12e"/>
<rect x="190" y="116" width="10.63" height="1.3" fill="#888e28"/>
<rect x="200.33" y="116" width="10.63" height="1.3" fill="#888e28"/>
<rect x="210.67" y="116" width="10.63" height="1.3" fill="#888e28"/>
<rect x="221" y="116" width="11.13" height="1.3" fill="#7fa22e"/>
<rect x="231.83" y="116" width="11.13" height="1.3" fill="#7ea22f"/>
<rect x="242.67" y="116" width="11.13" height="1.3" fill="#7ca430"/>
<rect x="158.3" y="117" width="10.87" height="1.3" fill="#7da430"/>
<rect x="168.87" y="117" width="10.87" height="1.3" fill="#7ea22f"/>
<rect x="179.43" y="117" width="10.87" height="1.3" fill="#7fa22e"/>
<rect x="190" y="117" width="10.63" height="1.3" fill="#888e28"/>
<rect x="200.33" y="117" width="10.63" height="1.3" fill="#888e28"/>
<rect x="210.67" y="117" width="10.63" height="1.3" fill="#888e28"/>
<rect x="221" y="117" width="11.13" height="1.3" fill="#7ea32f"/>
<rect x="231.83" y="117" width="11.13" height="1.3" fill="#7ea32f"/>
<rect x="242.67" y="117" width="11.13" height="1.3" fill="#7da430"/>
<rect x="158.3" y="118" width="10.87" height="1.3" fill="#7ea32f"/>
<rect x="168.87" y="118" width="10.87" height="1.3" fill="#7fa22e"/>
<rect x="179.43" y="118" width="10.87" height="1.3" fill="#81a12d"/>
<rect x="190" y="118" width="10.63" height="1.3" fill="#888e28"/>
<rect x="200.33" y="118" width="10.63" height="1.3" fill="#888e28"/>
<rect x="210.67" y="118" width="10.63" height="1.3" fill="#888e28"/>
<rect x="221" y="118" width="11.13" height="1.3" fill="#7ca531"/>
<rect x="231.83" y="118" width="11.13" height="1.3" fill="#7ca531"/>
<rect x="242.67" y="118" width="11.13" height="1.3" fill="#7ca431"/>
<rect x="158.3" y="119" width="10.87" height="1.3" fill="#7da430"/>
<rect x="168.87" y="119" width="10.87" height="1.3" fill="#7da330"/>
<rect x="179.43" y="119" width="10.87" height="1.3" fill="#7fa22e"/>
<rect x="190" y="119" width="10.63" height="1.3" fill="#888e28"/>
<rect x="200.33" y="119" width="10.63" height="1.3" fill="#888e28"/>
<rect x="210.67" y="119" width="10.63" height="1.3" fill="#888e28"/>
<rect x="221" y="119" width="11.13" height="1.3" fill="#7ea32f"/>
<rect x="231.83" y="119" width="11.13" height="1.3" fill="#7ea32f"/>
<rect x="242.67" y="119" width="11.13" height="1.3" fill="#7ea32f"/>
</g>
<text class="fr" x="136.3" y="127.6" font-size="7.5" fill="#111">Subject</text>
<text class="fr" x="163.1" y="127.6" font-size="7.2" text-anchor="middle" fill="#111">1</text>
<text class="fr" x="173.8" y="127.6" font-size="7.2" text-anchor="middle" fill="#111">2</text>
<text class="fr" x="184.5" y="127.6" font-size="7.2" text-anchor="middle" fill="#111">3</text>
<line x1="160.6" y1="128.9" x2="187" y2="128.9" stroke="#333" stroke-width="0.6"/>
<text class="fr" x="175.5" y="135.8" font-size="7.4" text-anchor="middle" fill="#222">Candida</text>
<text class="fr" x="195.2" y="127.6" font-size="7.2" text-anchor="middle" fill="#111">1</text>
<text class="fr" x="205.9" y="127.6" font-size="7.2" text-anchor="middle" fill="#111">2</text>
<text class="fr" x="216.6" y="127.6" font-size="7.2" text-anchor="middle" fill="#111">3</text>
<line x1="192.7" y1="128.9" x2="219.1" y2="128.9" stroke="#333" stroke-width="0.6"/>
<text class="fr" x="205.6" y="135.8" font-size="7.4" text-anchor="middle" fill="#222">CMV</text>
<text class="fr" x="227.7" y="127.6" font-size="7.2" text-anchor="middle" fill="#111">1</text>
<text class="fr" x="238.4" y="127.6" font-size="7.2" text-anchor="middle" fill="#111">2</text>
<text class="fr" x="249.1" y="127.6" font-size="7.2" text-anchor="middle" fill="#111">3</text>
<line x1="225.2" y1="128.9" x2="251.6" y2="128.9" stroke="#333" stroke-width="0.6"/>
<text class="fr" x="236.8" y="135.8" font-size="7.4" text-anchor="middle" fill="#222">TT</text>
<line x1="36.9" y1="151.5" x2="36.9" y2="228.8" stroke="#444" stroke-width="0.8"/>
<line x1="34.9" y1="228.1" x2="36.9" y2="228.1" stroke="#444" stroke-width="0.7"/>
<text class="fr" x="31.6" y="228.1" font-size="4.3" text-anchor="middle" fill="#444" transform="rotate(-90 31.6 228.1)">0</text>
<line x1="34.9" y1="209" x2="36.9" y2="209" stroke="#444" stroke-width="0.7"/>
<text class="fr" x="31.6" y="209" font-size="4.3" text-anchor="middle" fill="#444" transform="rotate(-90 31.6 209)">5</text>
<line x1="34.9" y1="189.9" x2="36.9" y2="189.9" stroke="#444" stroke-width="0.7"/>
<text class="fr" x="31.6" y="189.9" font-size="4.3" text-anchor="middle" fill="#444" transform="rotate(-90 31.6 189.9)">10</text>
<line x1="34.9" y1="170.8" x2="36.9" y2="170.8" stroke="#444" stroke-width="0.7"/>
<text class="fr" x="31.6" y="170.8" font-size="4.3" text-anchor="middle" fill="#444" transform="rotate(-90 31.6 170.8)">15</text>
<line x1="34.9" y1="151.7" x2="36.9" y2="151.7" stroke="#444" stroke-width="0.7"/>
<text class="fr" x="31.6" y="151.7" font-size="4.3" text-anchor="middle" fill="#444" transform="rotate(-90 31.6 151.7)">20</text>
<line x1="36.9" y1="228.5" x2="169" y2="228.5" stroke="#444" stroke-width="0.8"/>
<line x1="169" y1="151.5" x2="169" y2="228.8" stroke="#444" stroke-width="0.8"/>
<line x1="169" y1="151.7" x2="171" y2="151.7" stroke="#444" stroke-width="0.7"/>
<text class="fr" x="172.3" y="153.3" font-size="4.8" fill="#444">12.00</text>
<line x1="169" y1="170.8" x2="171" y2="170.8" stroke="#444" stroke-width="0.7"/>
<text class="fr" x="172.3" y="172.4" font-size="4.8" fill="#444">9.00</text>
<line x1="169" y1="189.9" x2="171" y2="189.9" stroke="#444" stroke-width="0.7"/>
<text class="fr" x="172.3" y="191.5" font-size="4.8" fill="#444">6.00</text>
<line x1="169" y1="209" x2="171" y2="209" stroke="#444" stroke-width="0.7"/>
<text class="fr" x="172.3" y="210.6" font-size="4.8" fill="#444">3.00</text>
<line x1="169" y1="228.1" x2="171" y2="228.1" stroke="#444" stroke-width="0.7"/>
<text class="fr" x="172.3" y="229.7" font-size="4.8" fill="#444">0.00</text>
<text class="fr" x="25.8" y="191.3" font-size="6.3" text-anchor="middle" fill="#222" transform="rotate(-90 25.8 191.3)">No. of Genes (bar)</text>
<text class="fr" x="186.6" y="187.3" font-size="6" text-anchor="middle" fill="#222" transform="rotate(-90 186.6 187.3)">-log10 (p-value)</text>
<rect x="44.4" y="174.62" width="8" height="53.48" fill="#e60000"/>
<rect x="66.2" y="174.62" width="8" height="53.48" fill="#e60000"/>
<rect x="88.1" y="182.26" width="8" height="45.84" fill="#e60000"/>
<rect x="110" y="163.16" width="8" height="64.94" fill="#3b5a2c"/>
<rect x="131.9" y="182.26" width="8" height="45.84" fill="#3b5a2c"/>
<rect x="153.7" y="166.98" width="8" height="61.12" fill="#3b5a2c"/>
<polyline points="48.4,155.1 70.3,205.6 92.1,206.4 114,199.5 135.9,204.6 157.7,207.3" fill="none" stroke="#222" stroke-width="0.8"/>
<circle cx="48.4" cy="155.1" r="1.4" fill="#111"/>
<circle cx="70.3" cy="205.6" r="1.4" fill="#111"/>
<circle cx="92.1" cy="206.4" r="1.4" fill="#111"/>
<circle cx="114" cy="199.5" r="1.4" fill="#111"/>
<circle cx="135.9" cy="204.6" r="1.4" fill="#111"/>
<circle cx="157.7" cy="207.3" r="1.4" fill="#111"/>
<rect x="68.1" y="147.8" width="2.9" height="3.6" fill="#e60000"/>
<text class="fr" x="72.8" y="151.3" font-size="5.9" fill="#333">CMV</text>
<rect x="98.6" y="147.8" width="2.9" height="3.6" fill="#3b5a2c"/>
<text class="fr" x="102.8" y="151.3" font-size="5.9" fill="#333">TT-Candida</text>
<text class="fr" x="0" y="0" font-size="5.4" fill="#111" text-anchor="end" transform="translate(51 231.4) rotate(-49)">Antiviral response</text>
<text class="fr" x="0" y="0" font-size="5.4" fill="#111" text-anchor="end" transform="translate(72.86 231.4) rotate(-49)">Host-virus interactions</text>
<text class="fr" x="0" y="0" font-size="5.4" fill="#111" text-anchor="end" transform="translate(94.72 231.4) rotate(-49)">Immune response</text>
<text class="fr" x="0" y="0" font-size="5.4" fill="#111" text-anchor="end" transform="translate(116.58 231.4) rotate(-49)">Response to wounding</text>
<text class="fr" x="0" y="0" font-size="5.4" fill="#111" text-anchor="end" transform="translate(138.44 231.4) rotate(-49)">Inflammatory response</text>
<text class="fr" x="0" y="0" font-size="5.4" fill="#111" text-anchor="end" transform="translate(160.3 231.4) rotate(-49)">Defense response</text>
<text class="fr" x="349.5" y="19.6" font-size="9.7" fill="#222" textLength="128.8" lengthAdjust="spacingAndGlyphs">Fold changes in genes upregulated</text>
<text class="fr" x="358.7" y="29.6" font-size="9.7" fill="#222" textLength="114.2" lengthAdjust="spacingAndGlyphs">in CMV-specific CD4+ T cells</text>
<line x1="315.5" y1="53.8" x2="503.9" y2="53.8" stroke="#5a5a5a" stroke-width="1.1"/>
<line x1="315.5" y1="49.8" x2="315.5" y2="53.8" stroke="#5a5a5a" stroke-width="1.1"/>
<text class="fs" x="318.2" y="44.1" font-size="7.3" fill="#444" transform="rotate(-90 318.2 44.1)">0</text>
<line x1="362.6" y1="49.8" x2="362.6" y2="53.8" stroke="#5a5a5a" stroke-width="1.1"/>
<text class="fs" x="365.3" y="44.1" font-size="7.3" fill="#444" transform="rotate(-90 365.3 44.1)">20</text>
<line x1="409.7" y1="49.8" x2="409.7" y2="53.8" stroke="#5a5a5a" stroke-width="1.1"/>
<text class="fs" x="412.4" y="44.1" font-size="7.3" fill="#444" transform="rotate(-90 412.4 44.1)">40</text>
<line x1="456.8" y1="49.8" x2="456.8" y2="53.8" stroke="#5a5a5a" stroke-width="1.1"/>
<text class="fs" x="459.5" y="44.1" font-size="7.3" fill="#444" transform="rotate(-90 459.5 44.1)">60</text>
<line x1="503.9" y1="49.8" x2="503.9" y2="53.8" stroke="#5a5a5a" stroke-width="1.1"/>
<text class="fs" x="506.6" y="44.1" font-size="7.3" fill="#444" transform="rotate(-90 506.6 44.1)">80</text>
<rect x="315.9" y="61.4" width="195.6" height="6.4" fill="#c4c4c4" stroke="#4a4a4a" stroke-width="1"/>
<text class="fs" x="0" y="0" font-size="8.2" fill="#463c5e" stroke="#463c5e" stroke-width="0.14" text-anchor="end" transform="translate(311.9 67.72) scale(0.83 1.08)">IFI44L</text>
<path d="M516.4 62.7L516.4 66.5M514.75 63.65L518.05 65.55M518.05 63.65L514.75 65.55" stroke="#3a3a3a" stroke-width="1.05"/>
<rect x="315.9" y="69.83" width="48.9" height="6.4" fill="#c4c4c4" stroke="#4a4a4a" stroke-width="1"/>
<text class="fs" x="0" y="0" font-size="8.2" fill="#463c5e" stroke="#463c5e" stroke-width="0.14" text-anchor="end" transform="translate(311.9 76.15) scale(0.83 1.08)">IFIT1</text>
<path d="M369.7 71.13L369.7 74.93M368.05 72.08L371.35 73.98M371.35 72.08L368.05 73.98" stroke="#3a3a3a" stroke-width="1.05"/>
<rect x="315.9" y="78.26" width="41.8" height="6.4" fill="#c4c4c4" stroke="#4a4a4a" stroke-width="1"/>
<text class="fs" x="0" y="0" font-size="8.2" fill="#463c5e" stroke="#463c5e" stroke-width="0.14" text-anchor="end" transform="translate(311.9 84.58) scale(0.83 1.08)">RSAD2</text>
<path d="M362.6 79.56L362.6 83.36M360.95 80.51L364.25 82.41M364.25 80.51L360.95 82.41" stroke="#3a3a3a" stroke-width="1.05"/>
<rect x="315.9" y="86.69" width="34.9" height="6.4" fill="#c4c4c4" stroke="#4a4a4a" stroke-width="1"/>
<text class="fs" x="0" y="0" font-size="8.2" fill="#463c5e" stroke="#463c5e" stroke-width="0.14" text-anchor="end" transform="translate(311.9 93.01) scale(0.83 1.08)">IFI27</text>
<path d="M355.7 87.99L355.7 91.79M354.05 88.94L357.35 90.84M357.35 88.94L354.05 90.84" stroke="#3a3a3a" stroke-width="1.05"/>
<rect x="315.9" y="95.12" width="30" height="6.4" fill="#c4c4c4" stroke="#4a4a4a" stroke-width="1"/>
<text class="fs" x="0" y="0" font-size="8.2" fill="#463c5e" stroke="#463c5e" stroke-width="0.14" text-anchor="end" transform="translate(311.9 101.44) scale(0.83 1.08)">MX1</text>
<path d="M350.8 96.42L350.8 100.22M349.15 97.37L352.45 99.27M352.45 97.37L349.15 99.27" stroke="#3a3a3a" stroke-width="1.05"/>
<rect x="315.9" y="103.55" width="20.7" height="6.4" fill="#c4c4c4" stroke="#4a4a4a" stroke-width="1"/>
<text class="fs" x="0" y="0" font-size="8.2" fill="#463c5e" stroke="#463c5e" stroke-width="0.14" text-anchor="end" transform="translate(311.9 109.87) scale(0.83 1.08)">NKG7</text>
<path d="M341.5 104.85L341.5 108.65M339.85 105.8L343.15 107.7M343.15 105.8L339.85 107.7" stroke="#3a3a3a" stroke-width="1.05"/>
<rect x="315.9" y="111.98" width="15.8" height="6.4" fill="#c4c4c4" stroke="#4a4a4a" stroke-width="1"/>
<text class="fs" x="0" y="0" font-size="8.2" fill="#463c5e" stroke="#463c5e" stroke-width="0.14" text-anchor="end" transform="translate(311.9 118.3) scale(0.83 1.08)">OASL</text>
<path d="M336.6 113.28L336.6 117.08M334.95 114.23L338.25 116.13M338.25 114.23L334.95 116.13" stroke="#3a3a3a" stroke-width="1.05"/>
<rect x="315.9" y="120.41" width="13.4" height="6.4" fill="#c4c4c4" stroke="#4a4a4a" stroke-width="1"/>
<text class="fs" x="0" y="0" font-size="8.2" fill="#463c5e" stroke="#463c5e" stroke-width="0.14" text-anchor="end" transform="translate(311.9 126.73) scale(0.83 1.08)">IFI44</text>
<path d="M334.2 121.71L334.2 125.51M332.55 122.66L335.85 124.56M335.85 122.66L332.55 124.56" stroke="#3a3a3a" stroke-width="1.05"/>
<rect x="315.9" y="128.84" width="12.8" height="6.4" fill="#c4c4c4" stroke="#4a4a4a" stroke-width="1"/>
<text class="fs" x="0" y="0" font-size="8.2" fill="#463c5e" stroke="#463c5e" stroke-width="0.14" text-anchor="end" transform="translate(311.9 135.16) scale(0.83 1.08)">DDX60</text>
<path d="M333.6 130.14L333.6 133.94M331.95 131.09L335.25 132.99M335.25 131.09L331.95 132.99" stroke="#3a3a3a" stroke-width="1.05"/>
<rect x="315.9" y="137.27" width="11.8" height="6.4" fill="#c4c4c4" stroke="#4a4a4a" stroke-width="1"/>
<text class="fs" x="0" y="0" font-size="8.2" fill="#463c5e" stroke="#463c5e" stroke-width="0.14" text-anchor="end" transform="translate(311.9 143.59) scale(0.83 1.08)">OAS1</text>
<path d="M332.6 138.57L332.6 142.37M330.95 139.52L334.25 141.42M334.25 139.52L330.95 141.42" stroke="#3a3a3a" stroke-width="1.05"/>
<rect x="315.9" y="145.7" width="11.4" height="6.4" fill="#c4c4c4" stroke="#4a4a4a" stroke-width="1"/>
<text class="fs" x="0" y="0" font-size="8.2" fill="#463c5e" stroke="#463c5e" stroke-width="0.14" text-anchor="end" transform="translate(311.9 152.02) scale(0.83 1.08)">IFIT3</text>
<path d="M332.2 147L332.2 150.8M330.55 147.95L333.85 149.85M333.85 147.95L330.55 149.85" stroke="#3a3a3a" stroke-width="1.05"/>
<rect x="315.9" y="154.13" width="11.3" height="6.4" fill="#c4c4c4" stroke="#4a4a4a" stroke-width="1"/>
<text class="fs" x="0" y="0" font-size="8.2" fill="#463c5e" stroke="#463c5e" stroke-width="0.14" text-anchor="end" transform="translate(311.9 160.45) scale(0.83 1.08)">IFI6</text>
<path d="M332.1 155.43L332.1 159.23M330.45 156.38L333.75 158.28M333.75 156.38L330.45 158.28" stroke="#3a3a3a" stroke-width="1.05"/>
<rect x="315.9" y="162.56" width="8.8" height="6.4" fill="#c4c4c4" stroke="#4a4a4a" stroke-width="1"/>
<text class="fs" x="0" y="0" font-size="8.2" fill="#463c5e" stroke="#463c5e" stroke-width="0.14" text-anchor="end" transform="translate(311.9 168.88) scale(0.83 1.08)">IRF7</text>
<path d="M329.6 163.86L329.6 167.66M327.95 164.81L331.25 166.71M331.25 164.81L327.95 166.71" stroke="#3a3a3a" stroke-width="1.05"/>
<rect x="315.9" y="170.99" width="7.5" height="6.4" fill="#c4c4c4" stroke="#4a4a4a" stroke-width="1"/>
<text class="fs" x="0" y="0" font-size="8.2" fill="#463c5e" stroke="#463c5e" stroke-width="0.14" text-anchor="end" transform="translate(311.9 177.31) scale(0.83 1.08)">TRIM22</text>
<path d="M328.3 172.29L328.3 176.09M326.65 173.24L329.95 175.14M329.95 173.24L326.65 175.14" stroke="#3a3a3a" stroke-width="1.05"/>
<rect x="315.9" y="179.42" width="7" height="6.4" fill="#c4c4c4" stroke="#4a4a4a" stroke-width="1"/>
<text class="fs" x="0" y="0" font-size="8.2" fill="#463c5e" stroke="#463c5e" stroke-width="0.14" text-anchor="end" transform="translate(311.9 185.74) scale(0.83 1.08)">MX2</text>
<path d="M327.8 180.72L327.8 184.52M326.15 181.67L329.45 183.57M329.45 181.67L326.15 183.57" stroke="#3a3a3a" stroke-width="1.05"/>
<rect x="315.9" y="187.85" width="5.8" height="6.4" fill="#c4c4c4" stroke="#4a4a4a" stroke-width="1"/>
<text class="fs" x="0" y="0" font-size="8.2" fill="#463c5e" stroke="#463c5e" stroke-width="0.14" text-anchor="end" transform="translate(311.9 194.17) scale(0.83 1.08)">IFITM1</text>
<path d="M326.6 189.15L326.6 192.95M324.95 190.1L328.25 192M328.25 190.1L324.95 192" stroke="#3a3a3a" stroke-width="1.05"/>
<rect x="315.9" y="196.28" width="5.3" height="6.4" fill="#c4c4c4" stroke="#4a4a4a" stroke-width="1"/>
<text class="fs" x="0" y="0" font-size="8.2" fill="#463c5e" stroke="#463c5e" stroke-width="0.14" text-anchor="end" transform="translate(311.9 202.6) scale(0.83 1.08)">TRIM5</text>
<path d="M326.1 197.58L326.1 201.38M324.45 198.53L327.75 200.43M327.75 198.53L324.45 200.43" stroke="#3a3a3a" stroke-width="1.05"/>
<rect x="315.9" y="204.71" width="4.8" height="6.4" fill="#c4c4c4" stroke="#4a4a4a" stroke-width="1"/>
<text class="fs" x="0" y="0" font-size="8.2" fill="#463c5e" stroke="#463c5e" stroke-width="0.14" text-anchor="end" transform="translate(311.9 211.03) scale(0.83 1.08)">OAS2</text>
<path d="M325.6 206.01L325.6 209.81M323.95 206.96L327.25 208.86M327.25 206.96L323.95 208.86" stroke="#3a3a3a" stroke-width="1.05"/>
<rect x="315.9" y="213.14" width="4.8" height="6.4" fill="#c4c4c4" stroke="#4a4a4a" stroke-width="1"/>
<text class="fs" x="0" y="0" font-size="8.2" fill="#463c5e" stroke="#463c5e" stroke-width="0.14" text-anchor="end" transform="translate(311.9 219.46) scale(0.83 1.08)">OAS3</text>
<text class="fr" x="323.5" y="218.34" font-size="5.4" fill="#444">N.S.</text>
<rect x="315.9" y="221.57" width="4.5" height="6.4" fill="#c4c4c4" stroke="#4a4a4a" stroke-width="1"/>
<text class="fs" x="0" y="0" font-size="8.2" fill="#463c5e" stroke="#463c5e" stroke-width="0.14" text-anchor="end" transform="translate(311.9 227.89) scale(0.83 1.08)">EIF2AK2 (PKR)</text>
<path d="M325.3 222.87L325.3 226.67M323.65 223.82L326.95 225.72M326.95 223.82L323.65 225.72" stroke="#3a3a3a" stroke-width="1.05"/>
<rect x="315.9" y="230" width="4.3" height="6.4" fill="#c4c4c4" stroke="#4a4a4a" stroke-width="1"/>
<text class="fs" x="0" y="0" font-size="8.2" fill="#463c5e" stroke="#463c5e" stroke-width="0.14" text-anchor="end" transform="translate(311.9 236.32) scale(0.83 1.08)">ISG20</text>
<path d="M325.1 231.3L325.1 235.1M323.45 232.25L326.75 234.15M326.75 232.25L323.45 234.15" stroke="#3a3a3a" stroke-width="1.05"/>
<rect x="315.9" y="238.43" width="4" height="6.4" fill="#c4c4c4" stroke="#4a4a4a" stroke-width="1"/>
<text class="fs" x="0" y="0" font-size="8.2" fill="#463c5e" stroke="#463c5e" stroke-width="0.14" text-anchor="end" transform="translate(311.9 244.75) scale(0.83 1.08)">DDX58</text>
<path d="M324.8 239.73L324.8 243.53M323.15 240.68L326.45 242.58M326.45 240.68L323.15 242.58" stroke="#3a3a3a" stroke-width="1.05"/>
<rect x="315.9" y="246.86" width="4" height="6.4" fill="#c4c4c4" stroke="#4a4a4a" stroke-width="1"/>
<text class="fs" x="0" y="0" font-size="8.2" fill="#463c5e" stroke="#463c5e" stroke-width="0.14" text-anchor="end" transform="translate(311.9 253.18) scale(0.83 1.08)">IFIH1 (MDA5)</text>
<path d="M324.8 248.16L324.8 251.96M323.15 249.11L326.45 251.01M326.45 249.11L323.15 251.01" stroke="#3a3a3a" stroke-width="1.05"/>
<text class="fr" x="87.5" y="294.4" font-size="9.7" fill="#222" textLength="128.1" lengthAdjust="spacingAndGlyphs">Fold changes in genes upregulated</text>
<text class="fr" x="98.7" y="305.4" font-size="9.7" fill="#222" textLength="103.4" lengthAdjust="spacingAndGlyphs">in TT-specific CD4+ T cells</text>
<line x1="59.25" y1="333.5" x2="239.8" y2="333.5" stroke="#5a5a5a" stroke-width="1.1"/>
<line x1="59.25" y1="329.5" x2="59.25" y2="333.5" stroke="#5a5a5a" stroke-width="1.1"/>
<text class="fs" x="62.45" y="322.8" font-size="8" fill="#444" transform="rotate(-90 62.45 322.8)">0</text>
<line x1="104.39" y1="329.5" x2="104.39" y2="333.5" stroke="#5a5a5a" stroke-width="1.1"/>
<text class="fs" x="107.59" y="322.8" font-size="8" fill="#444" transform="rotate(-90 107.59 322.8)">20</text>
<line x1="149.53" y1="329.5" x2="149.53" y2="333.5" stroke="#5a5a5a" stroke-width="1.1"/>
<text class="fs" x="152.72" y="322.8" font-size="8" fill="#444" transform="rotate(-90 152.72 322.8)">40</text>
<line x1="194.66" y1="329.5" x2="194.66" y2="333.5" stroke="#5a5a5a" stroke-width="1.1"/>
<text class="fs" x="197.86" y="322.8" font-size="8" fill="#444" transform="rotate(-90 197.86 322.8)">60</text>
<line x1="239.8" y1="329.5" x2="239.8" y2="333.5" stroke="#5a5a5a" stroke-width="1.1"/>
<text class="fs" x="243" y="322.8" font-size="8" fill="#444" transform="rotate(-90 243 322.8)">80</text>
<rect x="59.65" y="340.6" width="194.45" height="9.4" fill="#c4c4c4" stroke="#4a4a4a" stroke-width="1"/>
<text class="fs" x="0" y="0" font-size="7.9" fill="#363636" stroke="#363636" stroke-width="0.14" text-anchor="end" transform="translate(46.9 348.3) scale(1 1.08)">IL26</text>
<path d="M258.2 344.2L258.2 348M256.55 345.15L259.85 347.05M259.85 345.15L256.55 347.05" stroke="#3a3a3a" stroke-width="1.05"/>
<rect x="59.65" y="351.7" width="186.95" height="9.4" fill="#c4c4c4" stroke="#4a4a4a" stroke-width="1"/>
<text class="fs" x="0" y="0" font-size="7.9" fill="#363636" stroke="#363636" stroke-width="0.14" text-anchor="end" transform="translate(46.9 359.4) scale(1 1.08)">IL17A</text>
<path d="M250.7 355.3L250.7 359.1M249.05 356.25L252.35 358.15M252.35 356.25L249.05 358.15" stroke="#3a3a3a" stroke-width="1.05"/>
<rect x="59.65" y="362.4" width="146.15" height="9.4" fill="#c4c4c4" stroke="#4a4a4a" stroke-width="1"/>
<text class="fs" x="0" y="0" font-size="7.9" fill="#363636" stroke="#363636" stroke-width="0.14" text-anchor="end" transform="translate(46.9 370.1) scale(1 1.08)">CCL20</text>
<path d="M209.9 366L209.9 369.8M208.25 366.95L211.55 368.85M211.55 366.95L208.25 368.85" stroke="#3a3a3a" stroke-width="1.05"/>
<rect x="59.65" y="373.3" width="51.75" height="9.4" fill="#c4c4c4" stroke="#4a4a4a" stroke-width="1"/>
<text class="fs" x="0" y="0" font-size="7.9" fill="#363636" stroke="#363636" stroke-width="0.14" text-anchor="end" transform="translate(46.9 381) scale(1 1.08)">CSF2</text>
<path d="M115.5 376.9L115.5 380.7M113.85 377.85L117.15 379.75M117.15 377.85L113.85 379.75" stroke="#3a3a3a" stroke-width="1.05"/>
<rect x="59.65" y="384.5" width="51.75" height="9.4" fill="#c4c4c4" stroke="#4a4a4a" stroke-width="1"/>
<text class="fs" x="0" y="0" font-size="7.9" fill="#363636" stroke="#363636" stroke-width="0.14" text-anchor="end" transform="translate(46.9 392.2) scale(1 1.08)">IL-22</text>
<path d="M115.5 388.1L115.5 391.9M113.85 389.05L117.15 390.95M117.15 389.05L113.85 390.95" stroke="#3a3a3a" stroke-width="1.05"/>
<rect x="59.65" y="395.8" width="46.25" height="9.4" fill="#c4c4c4" stroke="#4a4a4a" stroke-width="1"/>
<text class="fs" x="0" y="0" font-size="7.9" fill="#363636" stroke="#363636" stroke-width="0.14" text-anchor="end" transform="translate(46.9 403.5) scale(1 1.08)">RORC</text>
<path d="M110 399.4L110 403.2M108.35 400.35L111.65 402.25M111.65 400.35L108.35 402.25" stroke="#3a3a3a" stroke-width="1.05"/>
<rect x="59.65" y="406.8" width="29" height="9.4" fill="#c4c4c4" stroke="#4a4a4a" stroke-width="1"/>
<text class="fs" x="0" y="0" font-size="7.9" fill="#363636" stroke="#363636" stroke-width="0.14" text-anchor="end" transform="translate(46.9 414.5) scale(1 1.08)">IL23R</text>
<path d="M92.75 410.4L92.75 414.2M91.1 411.35L94.4 413.25M94.4 411.35L91.1 413.25" stroke="#3a3a3a" stroke-width="1.05"/>
<rect x="59.65" y="417.7" width="22" height="9.4" fill="#c4c4c4" stroke="#4a4a4a" stroke-width="1"/>
<text class="fs" x="0" y="0" font-size="7.9" fill="#363636" stroke="#363636" stroke-width="0.14" text-anchor="end" transform="translate(46.9 425.4) scale(1 1.08)">CCR6</text>
<path d="M85.75 421.3L85.75 425.1M84.1 422.25L87.4 424.15M87.4 422.25L84.1 424.15" stroke="#3a3a3a" stroke-width="1.05"/>
<rect x="59.65" y="428.7" width="20.95" height="9.4" fill="#c4c4c4" stroke="#4a4a4a" stroke-width="1"/>
<text class="fs" x="0" y="0" font-size="7.9" fill="#363636" stroke="#363636" stroke-width="0.14" text-anchor="end" transform="translate(46.9 436.4) scale(1 1.08)">IL1R1</text>
<path d="M84.7 432.3L84.7 436.1M83.05 433.25L86.35 435.15M86.35 433.25L83.05 435.15" stroke="#3a3a3a" stroke-width="1.05"/>
<rect x="59.65" y="439.9" width="20.95" height="9.4" fill="#c4c4c4" stroke="#4a4a4a" stroke-width="1"/>
<text class="fs" x="0" y="0" font-size="7.9" fill="#363636" stroke="#363636" stroke-width="0.14" text-anchor="end" transform="translate(46.9 447.6) scale(1 1.08)">IL17RB</text>
<path d="M84.7 443.5L84.7 447.3M83.05 444.45L86.35 446.35M86.35 444.45L83.05 446.35" stroke="#3a3a3a" stroke-width="1.05"/>
<rect x="59.65" y="451.1" width="20.95" height="9.4" fill="#c4c4c4" stroke="#4a4a4a" stroke-width="1"/>
<text class="fs" x="0" y="0" font-size="7.9" fill="#363636" stroke="#363636" stroke-width="0.14" text-anchor="end" transform="translate(46.9 458.8) scale(1 1.08)">IL8</text>
<path d="M84.7 454.7L84.7 458.5M83.05 455.65L86.35 457.55M86.35 455.65L83.05 457.55" stroke="#3a3a3a" stroke-width="1.05"/>
<rect x="59.65" y="461.9" width="14.25" height="9.4" fill="#c4c4c4" stroke="#4a4a4a" stroke-width="1"/>
<text class="fs" x="0" y="0" font-size="7.9" fill="#363636" stroke="#363636" stroke-width="0.14" text-anchor="end" transform="translate(46.9 469.6) scale(1 1.08)">TNFRSF11A</text>
<path d="M78 465.5L78 469.3M76.35 466.45L79.65 468.35M79.65 466.45L76.35 468.35" stroke="#3a3a3a" stroke-width="1.05"/>
<rect x="59.65" y="473" width="14.25" height="9.4" fill="#c4c4c4" stroke="#4a4a4a" stroke-width="1"/>
<text class="fs" x="0" y="0" font-size="7.9" fill="#363636" stroke="#363636" stroke-width="0.14" text-anchor="end" transform="translate(46.9 480.7) scale(1 1.08)">IL17F</text>
<path d="M78 476.6L78 480.4M76.35 477.55L79.65 479.45M79.65 477.55L76.35 479.45" stroke="#3a3a3a" stroke-width="1.05"/>
<rect x="59.65" y="484.1" width="14.25" height="9.4" fill="#c4c4c4" stroke="#4a4a4a" stroke-width="1"/>
<text class="fs" x="0" y="0" font-size="7.9" fill="#363636" stroke="#363636" stroke-width="0.14" text-anchor="end" transform="translate(46.9 491.8) scale(1 1.08)">IL2RA</text>
<path d="M78 487.7L78 491.5M76.35 488.65L79.65 490.55M79.65 488.65L76.35 490.55" stroke="#3a3a3a" stroke-width="1.05"/>
<rect x="59.65" y="495.2" width="5.35" height="9.4" fill="#c4c4c4" stroke="#4a4a4a" stroke-width="1"/>
<text class="fs" x="0" y="0" font-size="7.9" fill="#363636" stroke="#363636" stroke-width="0.14" text-anchor="end" transform="translate(46.9 502.9) scale(1 1.08)">IL1A</text>
<path d="M69.1 498.8L69.1 502.6M67.45 499.75L70.75 501.65M70.75 499.75L67.45 501.65" stroke="#3a3a3a" stroke-width="1.05"/>
<text class="fr" x="346.4" y="292.4" font-size="9.7" fill="#222" textLength="128" lengthAdjust="spacingAndGlyphs">Fold changes in genes upregulated</text>
<text class="fr" x="349.5" y="302.8" font-size="9.7" fill="#222" textLength="123.4" lengthAdjust="spacingAndGlyphs">in Candida-specific CD4+ T cells</text>
<line x1="315.5" y1="333.1" x2="497.7" y2="333.1" stroke="#5a5a5a" stroke-width="1.1"/>
<line x1="315.5" y1="329.1" x2="315.5" y2="333.1" stroke="#5a5a5a" stroke-width="1.1"/>
<text class="fs" x="318.7" y="322.6" font-size="7.9" fill="#444" transform="rotate(-90 318.7 322.6)">0</text>
<line x1="376.23" y1="329.1" x2="376.23" y2="333.1" stroke="#5a5a5a" stroke-width="1.1"/>
<text class="fs" x="379.43" y="322.6" font-size="7.9" fill="#444" transform="rotate(-90 379.43 322.6)">50</text>
<line x1="436.97" y1="329.1" x2="436.97" y2="333.1" stroke="#5a5a5a" stroke-width="1.1"/>
<text class="fs" x="440.17" y="322.6" font-size="7.9" fill="#444" transform="rotate(-90 440.17 322.6)">100</text>
<line x1="497.7" y1="329.1" x2="497.7" y2="333.1" stroke="#5a5a5a" stroke-width="1.1"/>
<text class="fs" x="500.9" y="322.6" font-size="7.9" fill="#444" transform="rotate(-90 500.9 322.6)">150</text>
<rect x="315.9" y="339.5" width="193.8" height="9" fill="#c4c4c4" stroke="#4a4a4a" stroke-width="1"/>
<text class="fs" x="0" y="0" font-size="7.9" fill="#363636" stroke="#363636" stroke-width="0.14" text-anchor="end" transform="translate(303.4 347) scale(1 1.08)">IL17A</text>
<path d="M513.7 342.7L513.7 346.5M512.05 343.65L515.35 345.55M515.35 343.65L512.05 345.55" stroke="#3a3a3a" stroke-width="1.05"/>
<rect x="315.9" y="350.3" width="99.3" height="9" fill="#c4c4c4" stroke="#4a4a4a" stroke-width="1"/>
<text class="fs" x="0" y="0" font-size="7.9" fill="#363636" stroke="#363636" stroke-width="0.14" text-anchor="end" transform="translate(303.4 357.8) scale(1 1.08)">CCL20</text>
<path d="M419.2 353.5L419.2 357.3M417.55 354.45L420.85 356.35M420.85 354.45L417.55 356.35" stroke="#3a3a3a" stroke-width="1.05"/>
<rect x="315.9" y="361.1" width="54.5" height="9" fill="#c4c4c4" stroke="#4a4a4a" stroke-width="1"/>
<text class="fs" x="0" y="0" font-size="7.9" fill="#363636" stroke="#363636" stroke-width="0.14" text-anchor="end" transform="translate(303.4 368.6) scale(1 1.08)">IL26</text>
<path d="M374.4 364.3L374.4 368.1M372.75 365.25L376.05 367.15M376.05 365.25L372.75 367.15" stroke="#3a3a3a" stroke-width="1.05"/>
<rect x="315.9" y="371.9" width="30.9" height="9" fill="#c4c4c4" stroke="#4a4a4a" stroke-width="1"/>
<text class="fs" x="0" y="0" font-size="7.9" fill="#363636" stroke="#363636" stroke-width="0.14" text-anchor="end" transform="translate(303.4 379.4) scale(1 1.08)">RORC</text>
<path d="M350.8 375.1L350.8 378.9M349.15 376.05L352.45 377.95M352.45 376.05L349.15 377.95" stroke="#3a3a3a" stroke-width="1.05"/>
<rect x="315.9" y="382.7" width="24.3" height="9" fill="#c4c4c4" stroke="#4a4a4a" stroke-width="1"/>
<text class="fs" x="0" y="0" font-size="7.9" fill="#363636" stroke="#363636" stroke-width="0.14" text-anchor="end" transform="translate(303.4 390.2) scale(1 1.08)">CSF2</text>
<path d="M344.2 385.9L344.2 389.7M342.55 386.85L345.85 388.75M345.85 386.85L342.55 388.75" stroke="#3a3a3a" stroke-width="1.05"/>
<rect x="315.9" y="393.5" width="19" height="9" fill="#c4c4c4" stroke="#4a4a4a" stroke-width="1"/>
<text class="fs" x="0" y="0" font-size="7.9" fill="#363636" stroke="#363636" stroke-width="0.14" text-anchor="end" transform="translate(303.4 401) scale(1 1.08)">CCR6</text>
<path d="M338.9 396.7L338.9 400.5M337.25 397.65L340.55 399.55M340.55 397.65L337.25 399.55" stroke="#3a3a3a" stroke-width="1.05"/>
<rect x="315.9" y="404.3" width="19" height="9" fill="#c4c4c4" stroke="#4a4a4a" stroke-width="1"/>
<text class="fs" x="0" y="0" font-size="7.9" fill="#363636" stroke="#363636" stroke-width="0.14" text-anchor="end" transform="translate(303.4 411.8) scale(1 1.08)">IL1R1</text>
<path d="M338.9 407.5L338.9 411.3M337.25 408.45L340.55 410.35M340.55 408.45L337.25 410.35" stroke="#3a3a3a" stroke-width="1.05"/>
<rect x="315.9" y="415.1" width="12.5" height="9" fill="#c4c4c4" stroke="#4a4a4a" stroke-width="1"/>
<text class="fs" x="0" y="0" font-size="7.9" fill="#363636" stroke="#363636" stroke-width="0.14" text-anchor="end" transform="translate(303.4 422.6) scale(1 1.08)">IL23R</text>
<path d="M332.4 418.3L332.4 422.1M330.75 419.25L334.05 421.15M334.05 419.25L330.75 421.15" stroke="#3a3a3a" stroke-width="1.05"/>
<rect x="315.9" y="425.9" width="8.75" height="9" fill="#c4c4c4" stroke="#4a4a4a" stroke-width="1"/>
<text class="fs" x="0" y="0" font-size="7.9" fill="#363636" stroke="#363636" stroke-width="0.14" text-anchor="end" transform="translate(303.4 433.4) scale(1 1.08)">IL17F</text>
<path d="M328.65 429.1L328.65 432.9M327 430.05L330.3 431.95M330.3 430.05L327 431.95" stroke="#3a3a3a" stroke-width="1.05"/>
<rect x="315.9" y="436.7" width="8.75" height="9" fill="#c4c4c4" stroke="#4a4a4a" stroke-width="1"/>
<text class="fs" x="0" y="0" font-size="7.9" fill="#363636" stroke="#363636" stroke-width="0.14" text-anchor="end" transform="translate(303.4 444.2) scale(1 1.08)">IL8</text>
<path d="M328.65 439.9L328.65 443.7M327 440.85L330.3 442.75M330.3 440.85L327 442.75" stroke="#3a3a3a" stroke-width="1.05"/>
<rect x="315.9" y="447.5" width="7.5" height="9" fill="#c4c4c4" stroke="#4a4a4a" stroke-width="1"/>
<text class="fs" x="0" y="0" font-size="7.9" fill="#363636" stroke="#363636" stroke-width="0.14" text-anchor="end" transform="translate(303.4 455) scale(1 1.08)">IL1A</text>
<path d="M327.4 450.7L327.4 454.5M325.75 451.65L329.05 453.55M329.05 451.65L325.75 453.55" stroke="#3a3a3a" stroke-width="1.05"/>
<rect x="315.9" y="458.3" width="7.5" height="9" fill="#c4c4c4" stroke="#4a4a4a" stroke-width="1"/>
<text class="fs" x="0" y="0" font-size="7.9" fill="#363636" stroke="#363636" stroke-width="0.14" text-anchor="end" transform="translate(303.4 465.8) scale(1 1.08)">IL2RA</text>
<path d="M327.4 461.5L327.4 465.3M325.75 462.45L329.05 464.35M329.05 462.45L325.75 464.35" stroke="#3a3a3a" stroke-width="1.05"/>
<rect x="315.9" y="469.1" width="7.5" height="9" fill="#c4c4c4" stroke="#4a4a4a" stroke-width="1"/>
<text class="fs" x="0" y="0" font-size="7.9" fill="#363636" stroke="#363636" stroke-width="0.14" text-anchor="end" transform="translate(303.4 476.6) scale(1 1.08)">IL-22</text>
<path d="M327.4 472.3L327.4 476.1M325.75 473.25L329.05 475.15M329.05 473.25L325.75 475.15" stroke="#3a3a3a" stroke-width="1.05"/>
<rect x="315.9" y="479.9" width="6.5" height="9" fill="#c4c4c4" stroke="#4a4a4a" stroke-width="1"/>
<text class="fs" x="0" y="0" font-size="7.9" fill="#363636" stroke="#363636" stroke-width="0.14" text-anchor="end" transform="translate(303.4 487.4) scale(1 1.08)">TNFRSF11A</text>
<path d="M326.4 483.1L326.4 486.9M324.75 484.05L328.05 485.95M328.05 484.05L324.75 485.95" stroke="#3a3a3a" stroke-width="1.05"/>
<rect x="315.9" y="490.7" width="5.25" height="9" fill="#c4c4c4" stroke="#4a4a4a" stroke-width="1"/>
<text class="fs" x="0" y="0" font-size="7.9" fill="#363636" stroke="#363636" stroke-width="0.14" text-anchor="end" transform="translate(303.4 498.2) scale(1 1.08)">IL17RB</text>
<path d="M325.15 493.9L325.15 497.7M323.5 494.85L326.8 496.75M326.8 494.85L323.5 496.75" stroke="#3a3a3a" stroke-width="1.05"/>
</svg>
</body></html>
